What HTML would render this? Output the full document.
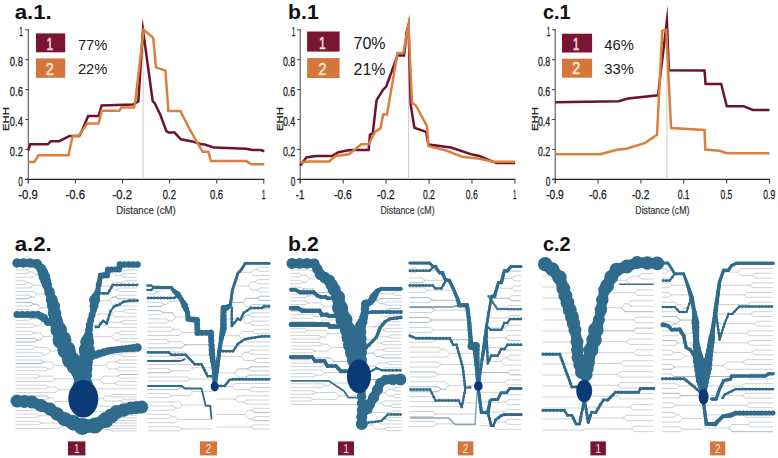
<!DOCTYPE html>
<html><head><meta charset="utf-8"><style>
html,body{margin:0;padding:0;background:#fff;}
svg{display:block;font-family:"Liberation Sans",sans-serif;}
</style></head><body>
<svg width="778" height="458" viewBox="0 0 778 458">
<rect width="778" height="458" fill="#fff"/>
<text x="14.7" y="18.7" font-size="20.6" text-anchor="start" font-weight="bold" fill="#111" textLength="37" lengthAdjust="spacingAndGlyphs">a.1.</text>
<line x1="28.3" y1="29.30000000000001" x2="28.3" y2="183.3" stroke="#555" stroke-width="1.1"/>
<line x1="25.3" y1="179.3" x2="264.3" y2="179.3" stroke="#222" stroke-width="1.3"/>
<line x1="25.3" y1="179.30" x2="28.3" y2="179.30" stroke="#444" stroke-width="1.1"/>
<text x="22.9" y="185.5" font-size="12.8" text-anchor="end" font-weight="normal" fill="#222" textLength="4.6" lengthAdjust="spacingAndGlyphs" stroke="#222" stroke-width="0.3">0</text>
<line x1="25.3" y1="149.40" x2="28.3" y2="149.40" stroke="#444" stroke-width="1.1"/>
<text x="22.9" y="155.6" font-size="12.8" text-anchor="end" font-weight="normal" fill="#222" textLength="13.1" lengthAdjust="spacingAndGlyphs" stroke="#222" stroke-width="0.3">0.2</text>
<line x1="25.3" y1="119.50" x2="28.3" y2="119.50" stroke="#444" stroke-width="1.1"/>
<text x="22.9" y="125.7" font-size="12.8" text-anchor="end" font-weight="normal" fill="#222" textLength="13.1" lengthAdjust="spacingAndGlyphs" stroke="#222" stroke-width="0.3">0.4</text>
<line x1="25.3" y1="89.60" x2="28.3" y2="89.60" stroke="#444" stroke-width="1.1"/>
<text x="22.9" y="95.80000000000001" font-size="12.8" text-anchor="end" font-weight="normal" fill="#222" textLength="13.1" lengthAdjust="spacingAndGlyphs" stroke="#222" stroke-width="0.3">0.6</text>
<line x1="25.3" y1="59.70" x2="28.3" y2="59.70" stroke="#444" stroke-width="1.1"/>
<text x="22.9" y="65.9" font-size="12.8" text-anchor="end" font-weight="normal" fill="#222" textLength="13.1" lengthAdjust="spacingAndGlyphs" stroke="#222" stroke-width="0.3">0.8</text>
<line x1="25.3" y1="29.80" x2="28.3" y2="29.80" stroke="#444" stroke-width="1.1"/>
<text x="22.9" y="36.000000000000014" font-size="12.8" text-anchor="end" font-weight="normal" fill="#222" textLength="3.6" lengthAdjust="spacingAndGlyphs" stroke="#222" stroke-width="0.3">1</text>
<line x1="28.30" y1="179.3" x2="28.30" y2="183.6" stroke="#444" stroke-width="1.1"/>
<text x="28.1" y="198.6" font-size="12.8" text-anchor="middle" font-weight="normal" fill="#222" textLength="19.5" lengthAdjust="spacingAndGlyphs" stroke="#222" stroke-width="0.3">-0.9</text>
<line x1="75.40" y1="179.3" x2="75.40" y2="183.6" stroke="#444" stroke-width="1.1"/>
<text x="75.2" y="198.6" font-size="12.8" text-anchor="middle" font-weight="normal" fill="#222" textLength="19.5" lengthAdjust="spacingAndGlyphs" stroke="#222" stroke-width="0.3">-0.6</text>
<line x1="122.50" y1="179.3" x2="122.50" y2="183.6" stroke="#444" stroke-width="1.1"/>
<text x="122.3" y="198.6" font-size="12.8" text-anchor="middle" font-weight="normal" fill="#222" textLength="19.5" lengthAdjust="spacingAndGlyphs" stroke="#222" stroke-width="0.3">-0.2</text>
<line x1="169.60" y1="179.3" x2="169.60" y2="183.6" stroke="#444" stroke-width="1.1"/>
<text x="169.40000000000003" y="198.6" font-size="12.8" text-anchor="middle" font-weight="normal" fill="#222" textLength="13.2" lengthAdjust="spacingAndGlyphs" stroke="#222" stroke-width="0.3">0.2</text>
<line x1="216.70" y1="179.3" x2="216.70" y2="183.6" stroke="#444" stroke-width="1.1"/>
<text x="216.50000000000003" y="198.6" font-size="12.8" text-anchor="middle" font-weight="normal" fill="#222" textLength="13.2" lengthAdjust="spacingAndGlyphs" stroke="#222" stroke-width="0.3">0.6</text>
<line x1="263.80" y1="179.3" x2="263.80" y2="183.6" stroke="#444" stroke-width="1.1"/>
<text x="263.6" y="198.6" font-size="12.8" text-anchor="middle" font-weight="normal" fill="#222" textLength="3.8" lengthAdjust="spacingAndGlyphs" stroke="#222" stroke-width="0.3">1</text>
<text x="146.05" y="214.1" font-size="11.3" text-anchor="middle" font-weight="normal" fill="#333" textLength="59.5" lengthAdjust="spacingAndGlyphs" stroke="#333" stroke-width="0.2">Distance (cM)</text>
<text transform="translate(8.8,131) rotate(-90)" font-size="8.8" fill="#222" stroke="#222" stroke-width="0.25" textLength="24" lengthAdjust="spacingAndGlyphs">EHH</text>
<line x1="143.1" y1="29" x2="143.1" y2="179" stroke="#cfcfcf" stroke-width="1.1"/>
<polyline points="28.30,150.50 30.20,144.30 47.80,144.30 50.90,141.20 59.20,141.20 69.60,136.00 79.30,136.00 82.00,130.50 88.20,115.90 98.60,115.90 101.70,105.50 132.80,104.50 138.30,101.50 143.00,30.00 152.70,101.20 154.90,103.40 160.40,115.00 166.30,131.00 168.50,132.60 174.60,132.60 180.80,139.30 192.20,141.40 200.50,144.00 204.70,144.50 214.00,147.60 246.00,148.70 252.40,150.00 260.70,150.00 264.30,151.20" fill="none" stroke="#6e1230" stroke-width="2.5" stroke-linejoin="miter" stroke-miterlimit="30" stroke-linecap="butt"/>
<polyline points="28.30,162.10 34.30,162.10 38.50,155.30 68.50,155.30 72.70,136.00 78.50,136.00 87.20,123.60 98.60,123.60 101.70,110.70 119.30,110.70 121.40,107.60 133.80,107.60 135.00,104.00 143.60,29.80 153.20,37.90 156.00,67.40 165.40,70.60 168.40,111.00 180.40,111.00 190.00,130.00 202.60,151.80 208.40,151.80 210.90,161.10 246.20,161.10 251.30,164.20 264.30,164.20" fill="none" stroke="#d9803f" stroke-width="2.5" stroke-linejoin="miter" stroke-miterlimit="30" stroke-linecap="butt"/>
<rect x="36" y="33.4" width="29.2" height="18.90" fill="#7a1433"/>
<rect x="36" y="58.4" width="29.2" height="19.40" fill="#d5773a"/>
<text x="49.7" y="49.5" font-size="16" text-anchor="middle" font-weight="normal" fill="#f6dde4" textLength="6.56" lengthAdjust="spacingAndGlyphs" stroke="#f6dde4" stroke-width="0.5">1</text>
<text x="49.7" y="74.5" font-size="16" text-anchor="middle" font-weight="normal" fill="#fbeadb" textLength="8.0" lengthAdjust="spacingAndGlyphs" stroke="#fbeadb" stroke-width="0.4">2</text>
<text x="77.9" y="49.7" font-size="14.5" text-anchor="start" font-weight="normal" fill="#1a1a1a" textLength="29.4" lengthAdjust="spacingAndGlyphs">77%</text>
<text x="77.9" y="73.7" font-size="14.5" text-anchor="start" font-weight="normal" fill="#1a1a1a" textLength="29.4" lengthAdjust="spacingAndGlyphs">22%</text>
<text x="288.1" y="18.7" font-size="20.6" text-anchor="start" font-weight="bold" fill="#111" textLength="30.7" lengthAdjust="spacingAndGlyphs">b.1</text>
<line x1="300.2" y1="29.30000000000001" x2="300.2" y2="183.3" stroke="#555" stroke-width="1.1"/>
<line x1="297.2" y1="179.3" x2="515.4" y2="179.3" stroke="#222" stroke-width="1.3"/>
<line x1="297.2" y1="179.30" x2="300.2" y2="179.30" stroke="#444" stroke-width="1.1"/>
<text x="295.3" y="185.5" font-size="12.8" text-anchor="end" font-weight="normal" fill="#222" textLength="4.6" lengthAdjust="spacingAndGlyphs" stroke="#222" stroke-width="0.3">0</text>
<line x1="297.2" y1="149.40" x2="300.2" y2="149.40" stroke="#444" stroke-width="1.1"/>
<text x="295.3" y="155.6" font-size="12.8" text-anchor="end" font-weight="normal" fill="#222" textLength="12.4" lengthAdjust="spacingAndGlyphs" stroke="#222" stroke-width="0.3">0.2</text>
<line x1="297.2" y1="119.50" x2="300.2" y2="119.50" stroke="#444" stroke-width="1.1"/>
<text x="295.3" y="125.7" font-size="12.8" text-anchor="end" font-weight="normal" fill="#222" textLength="12.4" lengthAdjust="spacingAndGlyphs" stroke="#222" stroke-width="0.3">0.4</text>
<line x1="297.2" y1="89.60" x2="300.2" y2="89.60" stroke="#444" stroke-width="1.1"/>
<text x="295.3" y="95.80000000000001" font-size="12.8" text-anchor="end" font-weight="normal" fill="#222" textLength="12.4" lengthAdjust="spacingAndGlyphs" stroke="#222" stroke-width="0.3">0.6</text>
<line x1="297.2" y1="59.70" x2="300.2" y2="59.70" stroke="#444" stroke-width="1.1"/>
<text x="295.3" y="65.9" font-size="12.8" text-anchor="end" font-weight="normal" fill="#222" textLength="12.4" lengthAdjust="spacingAndGlyphs" stroke="#222" stroke-width="0.3">0.8</text>
<line x1="297.2" y1="29.80" x2="300.2" y2="29.80" stroke="#444" stroke-width="1.1"/>
<text x="295.3" y="36.000000000000014" font-size="12.8" text-anchor="end" font-weight="normal" fill="#222" textLength="3.6" lengthAdjust="spacingAndGlyphs" stroke="#222" stroke-width="0.3">1</text>
<line x1="300.20" y1="179.3" x2="300.20" y2="183.6" stroke="#444" stroke-width="1.1"/>
<text x="300.0" y="198.6" font-size="12.8" text-anchor="middle" font-weight="normal" fill="#222" textLength="8.55" lengthAdjust="spacingAndGlyphs" stroke="#222" stroke-width="0.3">-1</text>
<line x1="343.14" y1="179.3" x2="343.14" y2="183.6" stroke="#444" stroke-width="1.1"/>
<text x="342.94" y="198.6" font-size="12.8" text-anchor="middle" font-weight="normal" fill="#222" textLength="17.55" lengthAdjust="spacingAndGlyphs" stroke="#222" stroke-width="0.3">-0.6</text>
<line x1="386.08" y1="179.3" x2="386.08" y2="183.6" stroke="#444" stroke-width="1.1"/>
<text x="385.88" y="198.6" font-size="12.8" text-anchor="middle" font-weight="normal" fill="#222" textLength="17.55" lengthAdjust="spacingAndGlyphs" stroke="#222" stroke-width="0.3">-0.2</text>
<line x1="429.02" y1="179.3" x2="429.02" y2="183.6" stroke="#444" stroke-width="1.1"/>
<text x="428.82" y="198.6" font-size="12.8" text-anchor="middle" font-weight="normal" fill="#222" textLength="11.879999999999999" lengthAdjust="spacingAndGlyphs" stroke="#222" stroke-width="0.3">0.2</text>
<line x1="471.96" y1="179.3" x2="471.96" y2="183.6" stroke="#444" stroke-width="1.1"/>
<text x="471.76" y="198.6" font-size="12.8" text-anchor="middle" font-weight="normal" fill="#222" textLength="11.879999999999999" lengthAdjust="spacingAndGlyphs" stroke="#222" stroke-width="0.3">0.6</text>
<line x1="514.90" y1="179.3" x2="514.90" y2="183.6" stroke="#444" stroke-width="1.1"/>
<text x="514.6999999999999" y="198.6" font-size="12.8" text-anchor="middle" font-weight="normal" fill="#222" textLength="3.42" lengthAdjust="spacingAndGlyphs" stroke="#222" stroke-width="0.3">1</text>
<text x="407.54999999999995" y="214.1" font-size="11.3" text-anchor="middle" font-weight="normal" fill="#333" textLength="54.1" lengthAdjust="spacingAndGlyphs" stroke="#333" stroke-width="0.2">Distance (cM)</text>
<text transform="translate(283.1,131) rotate(-90)" font-size="8.8" fill="#222" stroke="#222" stroke-width="0.25" textLength="24" lengthAdjust="spacingAndGlyphs">EHH</text>
<line x1="408.5" y1="29" x2="408.5" y2="179" stroke="#cfcfcf" stroke-width="1.1"/>
<polyline points="300.20,165.60 306.40,157.40 315.70,155.90 332.30,155.90 338.50,152.20 346.80,150.50 351.00,150.10 368.60,150.10 370.00,134.60 372.70,133.50 376.60,100.20 383.10,89.70 386.30,86.30 397.50,55.60 404.10,55.60 406.70,32.00 408.50,25.00 410.60,104.10 414.40,127.70 426.10,131.90 428.40,144.60 451.10,147.50 472.30,154.60 479.40,156.00 496.50,163.10 515.00,163.10" fill="none" stroke="#6e1230" stroke-width="2.5" stroke-linejoin="miter" stroke-miterlimit="30" stroke-linecap="butt"/>
<polyline points="300.20,162.50 308.50,161.50 329.20,161.50 335.40,155.90 348.90,154.20 361.30,144.30 368.60,144.30 375.20,131.70 380.50,128.30 383.10,114.60 387.00,114.60 397.50,53.00 403.30,53.00 408.50,25.00 412.00,102.80 415.90,105.50 427.00,126.20 428.40,146.10 445.40,150.30 462.40,156.80 479.40,158.80 493.60,161.70 515.00,161.70" fill="none" stroke="#d9803f" stroke-width="2.5" stroke-linejoin="miter" stroke-miterlimit="30" stroke-linecap="butt"/>
<rect x="307.1" y="31.5" width="32.5" height="20.10" fill="#7a1433"/>
<rect x="307.1" y="58.1" width="32.5" height="20.00" fill="#d5773a"/>
<text x="322.45000000000005" y="48.800000000000004" font-size="16.5" text-anchor="middle" font-weight="normal" fill="#f6dde4" textLength="6.765" lengthAdjust="spacingAndGlyphs" stroke="#f6dde4" stroke-width="0.5">1</text>
<text x="322.45000000000005" y="74.8" font-size="16.5" text-anchor="middle" font-weight="normal" fill="#fbeadb" textLength="8.25" lengthAdjust="spacingAndGlyphs" stroke="#fbeadb" stroke-width="0.4">2</text>
<text x="353.5" y="48.6" font-size="15.6" text-anchor="start" font-weight="normal" fill="#1a1a1a" textLength="32" lengthAdjust="spacingAndGlyphs">70%</text>
<text x="353.5" y="74.8" font-size="15.6" text-anchor="start" font-weight="normal" fill="#1a1a1a" textLength="32" lengthAdjust="spacingAndGlyphs">21%</text>
<text x="542.9" y="18.7" font-size="20.6" text-anchor="start" font-weight="bold" fill="#111" textLength="27.7" lengthAdjust="spacingAndGlyphs">c.1</text>
<line x1="555.2" y1="29.30000000000001" x2="555.2" y2="183.3" stroke="#555" stroke-width="1.1"/>
<line x1="552.2" y1="179.3" x2="770.0" y2="179.3" stroke="#222" stroke-width="1.3"/>
<line x1="552.2" y1="179.30" x2="555.2" y2="179.30" stroke="#444" stroke-width="1.1"/>
<text x="550.3000000000001" y="185.5" font-size="12.8" text-anchor="end" font-weight="normal" fill="#222" textLength="4.6" lengthAdjust="spacingAndGlyphs" stroke="#222" stroke-width="0.3">0</text>
<line x1="552.2" y1="149.40" x2="555.2" y2="149.40" stroke="#444" stroke-width="1.1"/>
<text x="550.3000000000001" y="155.6" font-size="12.8" text-anchor="end" font-weight="normal" fill="#222" textLength="12.4" lengthAdjust="spacingAndGlyphs" stroke="#222" stroke-width="0.3">0.2</text>
<line x1="552.2" y1="119.50" x2="555.2" y2="119.50" stroke="#444" stroke-width="1.1"/>
<text x="550.3000000000001" y="125.7" font-size="12.8" text-anchor="end" font-weight="normal" fill="#222" textLength="12.4" lengthAdjust="spacingAndGlyphs" stroke="#222" stroke-width="0.3">0.4</text>
<line x1="552.2" y1="89.60" x2="555.2" y2="89.60" stroke="#444" stroke-width="1.1"/>
<text x="550.3000000000001" y="95.80000000000001" font-size="12.8" text-anchor="end" font-weight="normal" fill="#222" textLength="12.4" lengthAdjust="spacingAndGlyphs" stroke="#222" stroke-width="0.3">0.6</text>
<line x1="552.2" y1="59.70" x2="555.2" y2="59.70" stroke="#444" stroke-width="1.1"/>
<text x="550.3000000000001" y="65.9" font-size="12.8" text-anchor="end" font-weight="normal" fill="#222" textLength="12.4" lengthAdjust="spacingAndGlyphs" stroke="#222" stroke-width="0.3">0.8</text>
<line x1="552.2" y1="29.80" x2="555.2" y2="29.80" stroke="#444" stroke-width="1.1"/>
<text x="550.3000000000001" y="36.000000000000014" font-size="12.8" text-anchor="end" font-weight="normal" fill="#222" textLength="3.6" lengthAdjust="spacingAndGlyphs" stroke="#222" stroke-width="0.3">1</text>
<line x1="555.20" y1="179.3" x2="555.20" y2="183.6" stroke="#444" stroke-width="1.1"/>
<text x="555.0" y="198.6" font-size="12.8" text-anchor="middle" font-weight="normal" fill="#222" textLength="17.55" lengthAdjust="spacingAndGlyphs" stroke="#222" stroke-width="0.3">-0.9</text>
<line x1="598.06" y1="179.3" x2="598.06" y2="183.6" stroke="#444" stroke-width="1.1"/>
<text x="597.86" y="198.6" font-size="12.8" text-anchor="middle" font-weight="normal" fill="#222" textLength="17.55" lengthAdjust="spacingAndGlyphs" stroke="#222" stroke-width="0.3">-0.6</text>
<line x1="640.92" y1="179.3" x2="640.92" y2="183.6" stroke="#444" stroke-width="1.1"/>
<text x="640.72" y="198.6" font-size="12.8" text-anchor="middle" font-weight="normal" fill="#222" textLength="17.55" lengthAdjust="spacingAndGlyphs" stroke="#222" stroke-width="0.3">-0.2</text>
<line x1="683.78" y1="179.3" x2="683.78" y2="183.6" stroke="#444" stroke-width="1.1"/>
<text x="683.5799999999999" y="198.6" font-size="12.8" text-anchor="middle" font-weight="normal" fill="#222" textLength="11.879999999999999" lengthAdjust="spacingAndGlyphs" stroke="#222" stroke-width="0.3">0.1</text>
<line x1="726.64" y1="179.3" x2="726.64" y2="183.6" stroke="#444" stroke-width="1.1"/>
<text x="726.4399999999999" y="198.6" font-size="12.8" text-anchor="middle" font-weight="normal" fill="#222" textLength="11.879999999999999" lengthAdjust="spacingAndGlyphs" stroke="#222" stroke-width="0.3">0.5</text>
<line x1="769.50" y1="179.3" x2="769.50" y2="183.6" stroke="#444" stroke-width="1.1"/>
<text x="769.3" y="198.6" font-size="12.8" text-anchor="middle" font-weight="normal" fill="#222" textLength="11.879999999999999" lengthAdjust="spacingAndGlyphs" stroke="#222" stroke-width="0.3">0.9</text>
<text x="662.35" y="214.1" font-size="11.3" text-anchor="middle" font-weight="normal" fill="#333" textLength="54.1" lengthAdjust="spacingAndGlyphs" stroke="#333" stroke-width="0.2">Distance (cM)</text>
<text transform="translate(537.9,131) rotate(-90)" font-size="8.8" fill="#222" stroke="#222" stroke-width="0.25" textLength="24" lengthAdjust="spacingAndGlyphs">EHH</text>
<line x1="666.9" y1="29" x2="666.9" y2="179" stroke="#cfcfcf" stroke-width="1.1"/>
<polyline points="555.20,102.30 618.70,101.20 628.00,98.60 658.00,95.30 666.90,21.00 668.90,70.30 704.50,70.60 705.60,83.90 721.20,83.90 726.80,106.20 743.50,106.20 752.80,109.90 769.50,109.90" fill="none" stroke="#6e1230" stroke-width="2.5" stroke-linejoin="miter" stroke-miterlimit="30" stroke-linecap="butt"/>
<polyline points="555.20,154.30 600.10,154.30 616.90,149.80 626.20,148.70 644.70,143.20 657.00,134.70 662.30,30.70 666.20,29.80 671.10,128.10 704.50,130.00 705.30,149.60 719.40,150.70 726.80,153.30 769.50,153.30" fill="none" stroke="#d9803f" stroke-width="2.5" stroke-linejoin="miter" stroke-miterlimit="30" stroke-linecap="butt"/>
<rect x="562" y="33.7" width="30.1" height="18.80" fill="#7a1433"/>
<rect x="562" y="58.7" width="30.1" height="19.00" fill="#d5773a"/>
<text x="576.15" y="49.7" font-size="16" text-anchor="middle" font-weight="normal" fill="#f6dde4" textLength="6.56" lengthAdjust="spacingAndGlyphs" stroke="#f6dde4" stroke-width="0.5">1</text>
<text x="576.15" y="74.4" font-size="16" text-anchor="middle" font-weight="normal" fill="#fbeadb" textLength="8.0" lengthAdjust="spacingAndGlyphs" stroke="#fbeadb" stroke-width="0.4">2</text>
<text x="604.3" y="49.9" font-size="14.5" text-anchor="start" font-weight="normal" fill="#1a1a1a" textLength="29.7" lengthAdjust="spacingAndGlyphs">46%</text>
<text x="604.3" y="74.2" font-size="14.5" text-anchor="start" font-weight="normal" fill="#1a1a1a" textLength="29.7" lengthAdjust="spacingAndGlyphs">33%</text>
<text x="14.7" y="250.8" font-size="20.6" text-anchor="start" font-weight="bold" fill="#111" textLength="37" lengthAdjust="spacingAndGlyphs">a.2.</text>
<text x="288.1" y="250.8" font-size="20.6" text-anchor="start" font-weight="bold" fill="#111" textLength="30.7" lengthAdjust="spacingAndGlyphs">b.2</text>
<text x="542.9" y="250.8" font-size="20.6" text-anchor="start" font-weight="bold" fill="#111" textLength="27.7" lengthAdjust="spacingAndGlyphs">c.2</text>
<line x1="16.0" y1="270.0" x2="26.6" y2="270.0" stroke="#c8cdd2" stroke-width="0.9" stroke-linecap="round"/>
<line x1="26.6" y1="270.0" x2="30.1" y2="271.8" stroke="#c8cdd2" stroke-width="0.9" stroke-linecap="round"/>
<line x1="16.0" y1="273.6" x2="26.6" y2="273.6" stroke="#c8cdd2" stroke-width="0.9" stroke-linecap="round"/>
<line x1="26.6" y1="273.6" x2="30.1" y2="271.8" stroke="#c8cdd2" stroke-width="0.9" stroke-linecap="round"/>
<line x1="16.0" y1="280.8" x2="24.0" y2="280.8" stroke="#c8cdd2" stroke-width="0.9" stroke-linecap="round"/>
<line x1="24.0" y1="280.8" x2="27.5" y2="282.6" stroke="#c8cdd2" stroke-width="0.9" stroke-linecap="round"/>
<line x1="16.0" y1="284.4" x2="24.0" y2="284.4" stroke="#c8cdd2" stroke-width="0.9" stroke-linecap="round"/>
<line x1="24.0" y1="284.4" x2="27.5" y2="282.6" stroke="#c8cdd2" stroke-width="0.9" stroke-linecap="round"/>
<line x1="16.0" y1="295.2" x2="27.9" y2="295.2" stroke="#c8cdd2" stroke-width="0.9" stroke-linecap="round"/>
<line x1="27.9" y1="295.2" x2="31.4" y2="297.0" stroke="#c8cdd2" stroke-width="0.9" stroke-linecap="round"/>
<line x1="16.0" y1="298.8" x2="27.9" y2="298.8" stroke="#9fb2c0" stroke-width="0.9" stroke-linecap="round"/>
<line x1="27.9" y1="298.8" x2="31.4" y2="297.0" stroke="#9fb2c0" stroke-width="0.9" stroke-linecap="round"/>
<line x1="16.0" y1="302.4" x2="30.5" y2="302.4" stroke="#9fb2c0" stroke-width="0.9" stroke-linecap="round"/>
<line x1="30.5" y1="302.4" x2="34.0" y2="304.2" stroke="#9fb2c0" stroke-width="0.9" stroke-linecap="round"/>
<line x1="16.0" y1="306.0" x2="30.5" y2="306.0" stroke="#c8cdd2" stroke-width="0.9" stroke-linecap="round"/>
<line x1="30.5" y1="306.0" x2="34.0" y2="304.2" stroke="#c8cdd2" stroke-width="0.9" stroke-linecap="round"/>
<line x1="16.0" y1="309.6" x2="28.9" y2="309.6" stroke="#c8cdd2" stroke-width="0.9" stroke-linecap="round"/>
<line x1="28.9" y1="309.6" x2="32.4" y2="311.4" stroke="#c8cdd2" stroke-width="0.9" stroke-linecap="round"/>
<line x1="16.0" y1="313.2" x2="28.9" y2="313.2" stroke="#c8cdd2" stroke-width="0.9" stroke-linecap="round"/>
<line x1="28.9" y1="313.2" x2="32.4" y2="311.4" stroke="#c8cdd2" stroke-width="0.9" stroke-linecap="round"/>
<line x1="16.0" y1="316.8" x2="27.8" y2="316.8" stroke="#9fb2c0" stroke-width="0.9" stroke-linecap="round"/>
<line x1="27.8" y1="316.8" x2="31.3" y2="318.6" stroke="#9fb2c0" stroke-width="0.9" stroke-linecap="round"/>
<line x1="16.0" y1="320.4" x2="27.8" y2="320.4" stroke="#c8cdd2" stroke-width="0.9" stroke-linecap="round"/>
<line x1="27.8" y1="320.4" x2="31.3" y2="318.6" stroke="#c8cdd2" stroke-width="0.9" stroke-linecap="round"/>
<line x1="16.0" y1="324.0" x2="32.6" y2="324.0" stroke="#c8cdd2" stroke-width="0.9" stroke-linecap="round"/>
<line x1="32.6" y1="324.0" x2="36.1" y2="325.8" stroke="#c8cdd2" stroke-width="0.9" stroke-linecap="round"/>
<line x1="16.0" y1="327.6" x2="32.6" y2="327.6" stroke="#c8cdd2" stroke-width="0.9" stroke-linecap="round"/>
<line x1="32.6" y1="327.6" x2="36.1" y2="325.8" stroke="#c8cdd2" stroke-width="0.9" stroke-linecap="round"/>
<line x1="16.0" y1="331.2" x2="30.8" y2="331.2" stroke="#c8cdd2" stroke-width="0.9" stroke-linecap="round"/>
<line x1="30.8" y1="331.2" x2="34.3" y2="333.0" stroke="#c8cdd2" stroke-width="0.9" stroke-linecap="round"/>
<line x1="16.0" y1="334.8" x2="30.8" y2="334.8" stroke="#c8cdd2" stroke-width="0.9" stroke-linecap="round"/>
<line x1="30.8" y1="334.8" x2="34.3" y2="333.0" stroke="#c8cdd2" stroke-width="0.9" stroke-linecap="round"/>
<line x1="16.0" y1="338.4" x2="34.1" y2="338.4" stroke="#9fb2c0" stroke-width="0.9" stroke-linecap="round"/>
<line x1="34.1" y1="338.4" x2="37.6" y2="340.2" stroke="#9fb2c0" stroke-width="0.9" stroke-linecap="round"/>
<line x1="16.0" y1="342.0" x2="34.1" y2="342.0" stroke="#9fb2c0" stroke-width="0.9" stroke-linecap="round"/>
<line x1="34.1" y1="342.0" x2="37.6" y2="340.2" stroke="#9fb2c0" stroke-width="0.9" stroke-linecap="round"/>
<line x1="16.0" y1="345.6" x2="32.0" y2="345.6" stroke="#c8cdd2" stroke-width="0.9" stroke-linecap="round"/>
<line x1="32.0" y1="345.6" x2="35.5" y2="347.4" stroke="#c8cdd2" stroke-width="0.9" stroke-linecap="round"/>
<line x1="16.0" y1="349.2" x2="32.0" y2="349.2" stroke="#c8cdd2" stroke-width="0.9" stroke-linecap="round"/>
<line x1="32.0" y1="349.2" x2="35.5" y2="347.4" stroke="#c8cdd2" stroke-width="0.9" stroke-linecap="round"/>
<line x1="16.0" y1="352.8" x2="40.7" y2="352.8" stroke="#c8cdd2" stroke-width="0.9" stroke-linecap="round"/>
<line x1="40.7" y1="352.8" x2="44.2" y2="354.6" stroke="#c8cdd2" stroke-width="0.9" stroke-linecap="round"/>
<line x1="16.0" y1="356.4" x2="40.7" y2="356.4" stroke="#c8cdd2" stroke-width="0.9" stroke-linecap="round"/>
<line x1="40.7" y1="356.4" x2="44.2" y2="354.6" stroke="#c8cdd2" stroke-width="0.9" stroke-linecap="round"/>
<line x1="16.0" y1="360.0" x2="41.0" y2="360.0" stroke="#c8cdd2" stroke-width="0.9" stroke-linecap="round"/>
<line x1="41.0" y1="360.0" x2="44.5" y2="361.8" stroke="#c8cdd2" stroke-width="0.9" stroke-linecap="round"/>
<line x1="16.0" y1="363.6" x2="41.0" y2="363.6" stroke="#9fb2c0" stroke-width="0.9" stroke-linecap="round"/>
<line x1="41.0" y1="363.6" x2="44.5" y2="361.8" stroke="#9fb2c0" stroke-width="0.9" stroke-linecap="round"/>
<line x1="16.0" y1="367.2" x2="45.1" y2="367.2" stroke="#c8cdd2" stroke-width="0.9" stroke-linecap="round"/>
<line x1="45.1" y1="367.2" x2="48.6" y2="369.0" stroke="#c8cdd2" stroke-width="0.9" stroke-linecap="round"/>
<line x1="16.0" y1="370.8" x2="45.1" y2="370.8" stroke="#c8cdd2" stroke-width="0.9" stroke-linecap="round"/>
<line x1="45.1" y1="370.8" x2="48.6" y2="369.0" stroke="#c8cdd2" stroke-width="0.9" stroke-linecap="round"/>
<line x1="16.0" y1="374.4" x2="36.2" y2="374.4" stroke="#c8cdd2" stroke-width="0.9" stroke-linecap="round"/>
<line x1="36.2" y1="374.4" x2="39.7" y2="376.2" stroke="#c8cdd2" stroke-width="0.9" stroke-linecap="round"/>
<line x1="16.0" y1="378.0" x2="36.2" y2="378.0" stroke="#c8cdd2" stroke-width="0.9" stroke-linecap="round"/>
<line x1="36.2" y1="378.0" x2="39.7" y2="376.2" stroke="#c8cdd2" stroke-width="0.9" stroke-linecap="round"/>
<line x1="16.0" y1="385.2" x2="45.2" y2="385.2" stroke="#c8cdd2" stroke-width="0.9" stroke-linecap="round"/>
<line x1="45.2" y1="385.2" x2="48.7" y2="387.0" stroke="#c8cdd2" stroke-width="0.9" stroke-linecap="round"/>
<line x1="16.0" y1="388.8" x2="45.2" y2="388.8" stroke="#c8cdd2" stroke-width="0.9" stroke-linecap="round"/>
<line x1="45.2" y1="388.8" x2="48.7" y2="387.0" stroke="#c8cdd2" stroke-width="0.9" stroke-linecap="round"/>
<line x1="16.0" y1="396.0" x2="46.1" y2="396.0" stroke="#9fb2c0" stroke-width="0.9" stroke-linecap="round"/>
<line x1="46.1" y1="396.0" x2="49.6" y2="397.8" stroke="#9fb2c0" stroke-width="0.9" stroke-linecap="round"/>
<line x1="16.0" y1="399.6" x2="46.1" y2="399.6" stroke="#c8cdd2" stroke-width="0.9" stroke-linecap="round"/>
<line x1="46.1" y1="399.6" x2="49.6" y2="397.8" stroke="#c8cdd2" stroke-width="0.9" stroke-linecap="round"/>
<line x1="16.0" y1="403.2" x2="39.9" y2="403.2" stroke="#c8cdd2" stroke-width="0.9" stroke-linecap="round"/>
<line x1="39.9" y1="403.2" x2="43.4" y2="405.0" stroke="#c8cdd2" stroke-width="0.9" stroke-linecap="round"/>
<line x1="16.0" y1="406.8" x2="39.9" y2="406.8" stroke="#c8cdd2" stroke-width="0.9" stroke-linecap="round"/>
<line x1="39.9" y1="406.8" x2="43.4" y2="405.0" stroke="#c8cdd2" stroke-width="0.9" stroke-linecap="round"/>
<line x1="16.0" y1="414.0" x2="36.2" y2="414.0" stroke="#c8cdd2" stroke-width="0.9" stroke-linecap="round"/>
<line x1="36.2" y1="414.0" x2="39.7" y2="415.8" stroke="#c8cdd2" stroke-width="0.9" stroke-linecap="round"/>
<line x1="16.0" y1="417.6" x2="36.2" y2="417.6" stroke="#c8cdd2" stroke-width="0.9" stroke-linecap="round"/>
<line x1="36.2" y1="417.6" x2="39.7" y2="415.8" stroke="#c8cdd2" stroke-width="0.9" stroke-linecap="round"/>
<line x1="16.0" y1="421.2" x2="38.7" y2="421.2" stroke="#c8cdd2" stroke-width="0.9" stroke-linecap="round"/>
<line x1="38.7" y1="421.2" x2="42.2" y2="423.0" stroke="#c8cdd2" stroke-width="0.9" stroke-linecap="round"/>
<line x1="16.0" y1="424.8" x2="38.7" y2="424.8" stroke="#c8cdd2" stroke-width="0.9" stroke-linecap="round"/>
<line x1="38.7" y1="424.8" x2="42.2" y2="423.0" stroke="#c8cdd2" stroke-width="0.9" stroke-linecap="round"/>
<line x1="30.1" y1="271.8" x2="32.6" y2="271.8" stroke="#c8cdd2" stroke-width="0.9" stroke-linecap="round"/>
<line x1="32.6" y1="271.8" x2="36.1" y2="274.5" stroke="#c8cdd2" stroke-width="0.9" stroke-linecap="round"/>
<line x1="16.0" y1="277.2" x2="32.6" y2="277.2" stroke="#c8cdd2" stroke-width="0.9" stroke-linecap="round"/>
<line x1="32.6" y1="277.2" x2="36.1" y2="274.5" stroke="#c8cdd2" stroke-width="0.9" stroke-linecap="round"/>
<line x1="27.5" y1="282.6" x2="30.0" y2="282.6" stroke="#c8cdd2" stroke-width="0.9" stroke-linecap="round"/>
<line x1="30.0" y1="282.6" x2="33.5" y2="285.3" stroke="#c8cdd2" stroke-width="0.9" stroke-linecap="round"/>
<line x1="16.0" y1="288.0" x2="30.0" y2="288.0" stroke="#c8cdd2" stroke-width="0.9" stroke-linecap="round"/>
<line x1="30.0" y1="288.0" x2="33.5" y2="285.3" stroke="#c8cdd2" stroke-width="0.9" stroke-linecap="round"/>
<line x1="16.0" y1="291.6" x2="33.9" y2="291.6" stroke="#c8cdd2" stroke-width="0.9" stroke-linecap="round"/>
<line x1="33.9" y1="291.6" x2="37.4" y2="294.3" stroke="#c8cdd2" stroke-width="0.9" stroke-linecap="round"/>
<line x1="31.4" y1="297.0" x2="33.9" y2="297.0" stroke="#c8cdd2" stroke-width="0.9" stroke-linecap="round"/>
<line x1="33.9" y1="297.0" x2="37.4" y2="294.3" stroke="#c8cdd2" stroke-width="0.9" stroke-linecap="round"/>
<line x1="34.0" y1="304.2" x2="37.1" y2="304.2" stroke="#9fb2c0" stroke-width="0.9" stroke-linecap="round"/>
<line x1="37.1" y1="304.2" x2="40.6" y2="307.8" stroke="#9fb2c0" stroke-width="0.9" stroke-linecap="round"/>
<line x1="32.4" y1="311.4" x2="37.1" y2="311.4" stroke="#c8cdd2" stroke-width="0.9" stroke-linecap="round"/>
<line x1="37.1" y1="311.4" x2="40.6" y2="307.8" stroke="#c8cdd2" stroke-width="0.9" stroke-linecap="round"/>
<line x1="31.3" y1="318.6" x2="39.5" y2="318.6" stroke="#9fb2c0" stroke-width="0.9" stroke-linecap="round"/>
<line x1="39.5" y1="318.6" x2="43.0" y2="322.2" stroke="#9fb2c0" stroke-width="0.9" stroke-linecap="round"/>
<line x1="36.1" y1="325.8" x2="39.5" y2="325.8" stroke="#c8cdd2" stroke-width="0.9" stroke-linecap="round"/>
<line x1="39.5" y1="325.8" x2="43.0" y2="322.2" stroke="#c8cdd2" stroke-width="0.9" stroke-linecap="round"/>
<line x1="34.3" y1="333.0" x2="40.1" y2="333.0" stroke="#c8cdd2" stroke-width="0.9" stroke-linecap="round"/>
<line x1="40.1" y1="333.0" x2="43.6" y2="336.6" stroke="#c8cdd2" stroke-width="0.9" stroke-linecap="round"/>
<line x1="37.6" y1="340.2" x2="40.1" y2="340.2" stroke="#9fb2c0" stroke-width="0.9" stroke-linecap="round"/>
<line x1="40.1" y1="340.2" x2="43.6" y2="336.6" stroke="#9fb2c0" stroke-width="0.9" stroke-linecap="round"/>
<line x1="35.5" y1="347.4" x2="46.7" y2="347.4" stroke="#c8cdd2" stroke-width="0.9" stroke-linecap="round"/>
<line x1="46.7" y1="347.4" x2="50.2" y2="351.0" stroke="#c8cdd2" stroke-width="0.9" stroke-linecap="round"/>
<line x1="44.2" y1="354.6" x2="46.7" y2="354.6" stroke="#c8cdd2" stroke-width="0.9" stroke-linecap="round"/>
<line x1="46.7" y1="354.6" x2="50.2" y2="351.0" stroke="#c8cdd2" stroke-width="0.9" stroke-linecap="round"/>
<line x1="44.5" y1="361.8" x2="51.1" y2="361.8" stroke="#c8cdd2" stroke-width="0.9" stroke-linecap="round"/>
<line x1="51.1" y1="361.8" x2="54.6" y2="365.4" stroke="#c8cdd2" stroke-width="0.9" stroke-linecap="round"/>
<line x1="48.6" y1="369.0" x2="51.1" y2="369.0" stroke="#c8cdd2" stroke-width="0.9" stroke-linecap="round"/>
<line x1="51.1" y1="369.0" x2="54.6" y2="365.4" stroke="#c8cdd2" stroke-width="0.9" stroke-linecap="round"/>
<line x1="39.7" y1="376.2" x2="51.6" y2="376.2" stroke="#c8cdd2" stroke-width="0.9" stroke-linecap="round"/>
<line x1="51.6" y1="376.2" x2="55.1" y2="378.9" stroke="#c8cdd2" stroke-width="0.9" stroke-linecap="round"/>
<line x1="16.0" y1="381.6" x2="51.6" y2="381.6" stroke="#c8cdd2" stroke-width="0.9" stroke-linecap="round"/>
<line x1="51.6" y1="381.6" x2="55.1" y2="378.9" stroke="#c8cdd2" stroke-width="0.9" stroke-linecap="round"/>
<line x1="48.7" y1="387.0" x2="55.4" y2="387.0" stroke="#c8cdd2" stroke-width="0.9" stroke-linecap="round"/>
<line x1="55.4" y1="387.0" x2="58.9" y2="389.7" stroke="#c8cdd2" stroke-width="0.9" stroke-linecap="round"/>
<line x1="16.0" y1="392.4" x2="55.4" y2="392.4" stroke="#c8cdd2" stroke-width="0.9" stroke-linecap="round"/>
<line x1="55.4" y1="392.4" x2="58.9" y2="389.7" stroke="#c8cdd2" stroke-width="0.9" stroke-linecap="round"/>
<line x1="49.6" y1="397.8" x2="52.2" y2="397.8" stroke="#c8cdd2" stroke-width="0.9" stroke-linecap="round"/>
<line x1="52.2" y1="397.8" x2="55.7" y2="401.4" stroke="#c8cdd2" stroke-width="0.9" stroke-linecap="round"/>
<line x1="43.4" y1="405.0" x2="52.2" y2="405.0" stroke="#c8cdd2" stroke-width="0.9" stroke-linecap="round"/>
<line x1="52.2" y1="405.0" x2="55.7" y2="401.4" stroke="#c8cdd2" stroke-width="0.9" stroke-linecap="round"/>
<line x1="16.0" y1="410.4" x2="51.3" y2="410.4" stroke="#c8cdd2" stroke-width="0.9" stroke-linecap="round"/>
<line x1="51.3" y1="410.4" x2="54.8" y2="413.1" stroke="#c8cdd2" stroke-width="0.9" stroke-linecap="round"/>
<line x1="39.7" y1="415.8" x2="51.3" y2="415.8" stroke="#c8cdd2" stroke-width="0.9" stroke-linecap="round"/>
<line x1="51.3" y1="415.8" x2="54.8" y2="413.1" stroke="#c8cdd2" stroke-width="0.9" stroke-linecap="round"/>
<line x1="42.2" y1="423.0" x2="59.1" y2="423.0" stroke="#c8cdd2" stroke-width="0.9" stroke-linecap="round"/>
<line x1="59.1" y1="423.0" x2="62.6" y2="425.7" stroke="#c8cdd2" stroke-width="0.9" stroke-linecap="round"/>
<line x1="16.0" y1="428.4" x2="59.1" y2="428.4" stroke="#c8cdd2" stroke-width="0.9" stroke-linecap="round"/>
<line x1="59.1" y1="428.4" x2="62.6" y2="425.7" stroke="#c8cdd2" stroke-width="0.9" stroke-linecap="round"/>
<line x1="36.1" y1="274.5" x2="43.9" y2="274.5" stroke="#c8cdd2" stroke-width="0.9" stroke-linecap="round"/>
<line x1="33.5" y1="285.3" x2="47.5" y2="285.3" stroke="#c8cdd2" stroke-width="0.9" stroke-linecap="round"/>
<line x1="37.4" y1="294.3" x2="50.1" y2="294.3" stroke="#c8cdd2" stroke-width="0.9" stroke-linecap="round"/>
<line x1="40.6" y1="307.8" x2="53.2" y2="307.8" stroke="#c8cdd2" stroke-width="0.9" stroke-linecap="round"/>
<line x1="43.0" y1="322.2" x2="56.2" y2="322.2" stroke="#c8cdd2" stroke-width="0.9" stroke-linecap="round"/>
<line x1="43.6" y1="336.6" x2="60.9" y2="336.6" stroke="#c8cdd2" stroke-width="0.9" stroke-linecap="round"/>
<line x1="50.2" y1="351.0" x2="67.0" y2="351.0" stroke="#c8cdd2" stroke-width="0.9" stroke-linecap="round"/>
<line x1="54.6" y1="365.4" x2="75.1" y2="365.4" stroke="#c8cdd2" stroke-width="0.9" stroke-linecap="round"/>
<line x1="55.1" y1="378.9" x2="81.6" y2="378.9" stroke="#c8cdd2" stroke-width="0.9" stroke-linecap="round"/>
<line x1="58.9" y1="389.7" x2="83.0" y2="389.7" stroke="#c8cdd2" stroke-width="0.9" stroke-linecap="round"/>
<line x1="55.7" y1="401.4" x2="84.0" y2="401.4" stroke="#c8cdd2" stroke-width="0.9" stroke-linecap="round"/>
<line x1="54.8" y1="413.1" x2="84.0" y2="413.1" stroke="#c8cdd2" stroke-width="0.9" stroke-linecap="round"/>
<line x1="62.6" y1="425.7" x2="84.0" y2="425.7" stroke="#c8cdd2" stroke-width="0.9" stroke-linecap="round"/>
<line x1="136.5" y1="273.6" x2="123.6" y2="273.6" stroke="#c8cdd2" stroke-width="0.9" stroke-linecap="round"/>
<line x1="123.6" y1="273.6" x2="120.1" y2="275.4" stroke="#c8cdd2" stroke-width="0.9" stroke-linecap="round"/>
<line x1="136.5" y1="277.2" x2="123.6" y2="277.2" stroke="#c8cdd2" stroke-width="0.9" stroke-linecap="round"/>
<line x1="123.6" y1="277.2" x2="120.1" y2="275.4" stroke="#c8cdd2" stroke-width="0.9" stroke-linecap="round"/>
<line x1="136.5" y1="280.8" x2="125.2" y2="280.8" stroke="#c8cdd2" stroke-width="0.9" stroke-linecap="round"/>
<line x1="125.2" y1="280.8" x2="121.7" y2="282.6" stroke="#c8cdd2" stroke-width="0.9" stroke-linecap="round"/>
<line x1="136.5" y1="284.4" x2="125.2" y2="284.4" stroke="#c8cdd2" stroke-width="0.9" stroke-linecap="round"/>
<line x1="125.2" y1="284.4" x2="121.7" y2="282.6" stroke="#c8cdd2" stroke-width="0.9" stroke-linecap="round"/>
<line x1="136.5" y1="288.0" x2="119.9" y2="288.0" stroke="#c8cdd2" stroke-width="0.9" stroke-linecap="round"/>
<line x1="119.9" y1="288.0" x2="116.4" y2="289.8" stroke="#c8cdd2" stroke-width="0.9" stroke-linecap="round"/>
<line x1="136.5" y1="291.6" x2="119.9" y2="291.6" stroke="#c8cdd2" stroke-width="0.9" stroke-linecap="round"/>
<line x1="119.9" y1="291.6" x2="116.4" y2="289.8" stroke="#c8cdd2" stroke-width="0.9" stroke-linecap="round"/>
<line x1="136.5" y1="295.2" x2="118.6" y2="295.2" stroke="#c8cdd2" stroke-width="0.9" stroke-linecap="round"/>
<line x1="118.6" y1="295.2" x2="115.1" y2="297.0" stroke="#c8cdd2" stroke-width="0.9" stroke-linecap="round"/>
<line x1="136.5" y1="298.8" x2="118.6" y2="298.8" stroke="#9fb2c0" stroke-width="0.9" stroke-linecap="round"/>
<line x1="118.6" y1="298.8" x2="115.1" y2="297.0" stroke="#9fb2c0" stroke-width="0.9" stroke-linecap="round"/>
<line x1="136.5" y1="302.4" x2="118.4" y2="302.4" stroke="#c8cdd2" stroke-width="0.9" stroke-linecap="round"/>
<line x1="118.4" y1="302.4" x2="114.9" y2="304.2" stroke="#c8cdd2" stroke-width="0.9" stroke-linecap="round"/>
<line x1="136.5" y1="306.0" x2="118.4" y2="306.0" stroke="#c8cdd2" stroke-width="0.9" stroke-linecap="round"/>
<line x1="118.4" y1="306.0" x2="114.9" y2="304.2" stroke="#c8cdd2" stroke-width="0.9" stroke-linecap="round"/>
<line x1="136.5" y1="309.6" x2="126.4" y2="309.6" stroke="#c8cdd2" stroke-width="0.9" stroke-linecap="round"/>
<line x1="126.4" y1="309.6" x2="122.9" y2="311.4" stroke="#c8cdd2" stroke-width="0.9" stroke-linecap="round"/>
<line x1="136.5" y1="313.2" x2="126.4" y2="313.2" stroke="#c8cdd2" stroke-width="0.9" stroke-linecap="round"/>
<line x1="126.4" y1="313.2" x2="122.9" y2="311.4" stroke="#c8cdd2" stroke-width="0.9" stroke-linecap="round"/>
<line x1="136.5" y1="320.4" x2="123.6" y2="320.4" stroke="#c8cdd2" stroke-width="0.9" stroke-linecap="round"/>
<line x1="123.6" y1="320.4" x2="120.1" y2="322.2" stroke="#c8cdd2" stroke-width="0.9" stroke-linecap="round"/>
<line x1="136.5" y1="324.0" x2="123.6" y2="324.0" stroke="#c8cdd2" stroke-width="0.9" stroke-linecap="round"/>
<line x1="123.6" y1="324.0" x2="120.1" y2="322.2" stroke="#c8cdd2" stroke-width="0.9" stroke-linecap="round"/>
<line x1="136.5" y1="331.2" x2="120.8" y2="331.2" stroke="#c8cdd2" stroke-width="0.9" stroke-linecap="round"/>
<line x1="120.8" y1="331.2" x2="117.3" y2="333.0" stroke="#c8cdd2" stroke-width="0.9" stroke-linecap="round"/>
<line x1="136.5" y1="334.8" x2="120.8" y2="334.8" stroke="#c8cdd2" stroke-width="0.9" stroke-linecap="round"/>
<line x1="120.8" y1="334.8" x2="117.3" y2="333.0" stroke="#c8cdd2" stroke-width="0.9" stroke-linecap="round"/>
<line x1="136.5" y1="338.4" x2="120.8" y2="338.4" stroke="#c8cdd2" stroke-width="0.9" stroke-linecap="round"/>
<line x1="120.8" y1="338.4" x2="117.3" y2="340.2" stroke="#c8cdd2" stroke-width="0.9" stroke-linecap="round"/>
<line x1="136.5" y1="342.0" x2="120.8" y2="342.0" stroke="#c8cdd2" stroke-width="0.9" stroke-linecap="round"/>
<line x1="120.8" y1="342.0" x2="117.3" y2="340.2" stroke="#c8cdd2" stroke-width="0.9" stroke-linecap="round"/>
<line x1="136.5" y1="345.6" x2="122.6" y2="345.6" stroke="#c8cdd2" stroke-width="0.9" stroke-linecap="round"/>
<line x1="122.6" y1="345.6" x2="119.1" y2="347.4" stroke="#c8cdd2" stroke-width="0.9" stroke-linecap="round"/>
<line x1="136.5" y1="349.2" x2="122.6" y2="349.2" stroke="#c8cdd2" stroke-width="0.9" stroke-linecap="round"/>
<line x1="122.6" y1="349.2" x2="119.1" y2="347.4" stroke="#c8cdd2" stroke-width="0.9" stroke-linecap="round"/>
<line x1="136.5" y1="352.8" x2="123.2" y2="352.8" stroke="#c8cdd2" stroke-width="0.9" stroke-linecap="round"/>
<line x1="123.2" y1="352.8" x2="119.7" y2="354.6" stroke="#c8cdd2" stroke-width="0.9" stroke-linecap="round"/>
<line x1="136.5" y1="356.4" x2="123.2" y2="356.4" stroke="#c8cdd2" stroke-width="0.9" stroke-linecap="round"/>
<line x1="123.2" y1="356.4" x2="119.7" y2="354.6" stroke="#c8cdd2" stroke-width="0.9" stroke-linecap="round"/>
<line x1="136.5" y1="360.0" x2="119.7" y2="360.0" stroke="#c8cdd2" stroke-width="0.9" stroke-linecap="round"/>
<line x1="119.7" y1="360.0" x2="116.2" y2="361.8" stroke="#c8cdd2" stroke-width="0.9" stroke-linecap="round"/>
<line x1="136.5" y1="363.6" x2="119.7" y2="363.6" stroke="#c8cdd2" stroke-width="0.9" stroke-linecap="round"/>
<line x1="119.7" y1="363.6" x2="116.2" y2="361.8" stroke="#c8cdd2" stroke-width="0.9" stroke-linecap="round"/>
<line x1="136.5" y1="367.2" x2="119.3" y2="367.2" stroke="#c8cdd2" stroke-width="0.9" stroke-linecap="round"/>
<line x1="119.3" y1="367.2" x2="115.8" y2="369.0" stroke="#c8cdd2" stroke-width="0.9" stroke-linecap="round"/>
<line x1="136.5" y1="370.8" x2="119.3" y2="370.8" stroke="#c8cdd2" stroke-width="0.9" stroke-linecap="round"/>
<line x1="119.3" y1="370.8" x2="115.8" y2="369.0" stroke="#c8cdd2" stroke-width="0.9" stroke-linecap="round"/>
<line x1="136.5" y1="374.4" x2="120.5" y2="374.4" stroke="#9fb2c0" stroke-width="0.9" stroke-linecap="round"/>
<line x1="120.5" y1="374.4" x2="117.0" y2="376.2" stroke="#9fb2c0" stroke-width="0.9" stroke-linecap="round"/>
<line x1="136.5" y1="378.0" x2="120.5" y2="378.0" stroke="#c8cdd2" stroke-width="0.9" stroke-linecap="round"/>
<line x1="120.5" y1="378.0" x2="117.0" y2="376.2" stroke="#c8cdd2" stroke-width="0.9" stroke-linecap="round"/>
<line x1="136.5" y1="381.6" x2="118.0" y2="381.6" stroke="#c8cdd2" stroke-width="0.9" stroke-linecap="round"/>
<line x1="118.0" y1="381.6" x2="114.5" y2="383.4" stroke="#c8cdd2" stroke-width="0.9" stroke-linecap="round"/>
<line x1="136.5" y1="385.2" x2="118.0" y2="385.2" stroke="#c8cdd2" stroke-width="0.9" stroke-linecap="round"/>
<line x1="118.0" y1="385.2" x2="114.5" y2="383.4" stroke="#c8cdd2" stroke-width="0.9" stroke-linecap="round"/>
<line x1="136.5" y1="394.5" x2="113.6" y2="394.5" stroke="#c8cdd2" stroke-width="0.9" stroke-linecap="round"/>
<line x1="113.6" y1="394.5" x2="110.1" y2="395.8" stroke="#c8cdd2" stroke-width="0.9" stroke-linecap="round"/>
<line x1="136.5" y1="397.1" x2="113.6" y2="397.1" stroke="#c8cdd2" stroke-width="0.9" stroke-linecap="round"/>
<line x1="113.6" y1="397.1" x2="110.1" y2="395.8" stroke="#c8cdd2" stroke-width="0.9" stroke-linecap="round"/>
<line x1="136.5" y1="399.7" x2="123.1" y2="399.7" stroke="#c8cdd2" stroke-width="0.9" stroke-linecap="round"/>
<line x1="123.1" y1="399.7" x2="119.6" y2="401.0" stroke="#c8cdd2" stroke-width="0.9" stroke-linecap="round"/>
<line x1="136.5" y1="402.3" x2="123.1" y2="402.3" stroke="#c8cdd2" stroke-width="0.9" stroke-linecap="round"/>
<line x1="123.1" y1="402.3" x2="119.6" y2="401.0" stroke="#c8cdd2" stroke-width="0.9" stroke-linecap="round"/>
<line x1="136.5" y1="404.9" x2="119.3" y2="404.9" stroke="#c8cdd2" stroke-width="0.9" stroke-linecap="round"/>
<line x1="119.3" y1="404.9" x2="115.8" y2="406.2" stroke="#c8cdd2" stroke-width="0.9" stroke-linecap="round"/>
<line x1="136.5" y1="407.5" x2="119.3" y2="407.5" stroke="#c8cdd2" stroke-width="0.9" stroke-linecap="round"/>
<line x1="119.3" y1="407.5" x2="115.8" y2="406.2" stroke="#c8cdd2" stroke-width="0.9" stroke-linecap="round"/>
<line x1="136.5" y1="415.3" x2="124.2" y2="415.3" stroke="#c8cdd2" stroke-width="0.9" stroke-linecap="round"/>
<line x1="124.2" y1="415.3" x2="120.7" y2="416.6" stroke="#c8cdd2" stroke-width="0.9" stroke-linecap="round"/>
<line x1="136.5" y1="417.9" x2="124.2" y2="417.9" stroke="#c8cdd2" stroke-width="0.9" stroke-linecap="round"/>
<line x1="124.2" y1="417.9" x2="120.7" y2="416.6" stroke="#c8cdd2" stroke-width="0.9" stroke-linecap="round"/>
<line x1="136.5" y1="420.5" x2="116.1" y2="420.5" stroke="#c8cdd2" stroke-width="0.9" stroke-linecap="round"/>
<line x1="116.1" y1="420.5" x2="112.6" y2="421.8" stroke="#c8cdd2" stroke-width="0.9" stroke-linecap="round"/>
<line x1="136.5" y1="423.1" x2="116.1" y2="423.1" stroke="#c8cdd2" stroke-width="0.9" stroke-linecap="round"/>
<line x1="116.1" y1="423.1" x2="112.6" y2="421.8" stroke="#c8cdd2" stroke-width="0.9" stroke-linecap="round"/>
<line x1="136.5" y1="428.3" x2="112.2" y2="428.3" stroke="#c8cdd2" stroke-width="0.9" stroke-linecap="round"/>
<line x1="112.2" y1="428.3" x2="108.7" y2="429.6" stroke="#c8cdd2" stroke-width="0.9" stroke-linecap="round"/>
<line x1="136.5" y1="430.9" x2="112.2" y2="430.9" stroke="#c8cdd2" stroke-width="0.9" stroke-linecap="round"/>
<line x1="112.2" y1="430.9" x2="108.7" y2="429.6" stroke="#c8cdd2" stroke-width="0.9" stroke-linecap="round"/>
<line x1="136.5" y1="270.0" x2="115.5" y2="270.0" stroke="#c8cdd2" stroke-width="0.9" stroke-linecap="round"/>
<line x1="115.5" y1="270.0" x2="112.0" y2="272.7" stroke="#c8cdd2" stroke-width="0.9" stroke-linecap="round"/>
<line x1="120.1" y1="275.4" x2="115.5" y2="275.4" stroke="#c8cdd2" stroke-width="0.9" stroke-linecap="round"/>
<line x1="115.5" y1="275.4" x2="112.0" y2="272.7" stroke="#c8cdd2" stroke-width="0.9" stroke-linecap="round"/>
<line x1="121.7" y1="282.6" x2="113.9" y2="282.6" stroke="#c8cdd2" stroke-width="0.9" stroke-linecap="round"/>
<line x1="113.9" y1="282.6" x2="110.4" y2="286.2" stroke="#c8cdd2" stroke-width="0.9" stroke-linecap="round"/>
<line x1="116.4" y1="289.8" x2="113.9" y2="289.8" stroke="#c8cdd2" stroke-width="0.9" stroke-linecap="round"/>
<line x1="113.9" y1="289.8" x2="110.4" y2="286.2" stroke="#c8cdd2" stroke-width="0.9" stroke-linecap="round"/>
<line x1="115.1" y1="297.0" x2="112.4" y2="297.0" stroke="#9fb2c0" stroke-width="0.9" stroke-linecap="round"/>
<line x1="112.4" y1="297.0" x2="108.9" y2="300.6" stroke="#9fb2c0" stroke-width="0.9" stroke-linecap="round"/>
<line x1="114.9" y1="304.2" x2="112.4" y2="304.2" stroke="#c8cdd2" stroke-width="0.9" stroke-linecap="round"/>
<line x1="112.4" y1="304.2" x2="108.9" y2="300.6" stroke="#c8cdd2" stroke-width="0.9" stroke-linecap="round"/>
<line x1="122.9" y1="311.4" x2="114.8" y2="311.4" stroke="#c8cdd2" stroke-width="0.9" stroke-linecap="round"/>
<line x1="114.8" y1="311.4" x2="111.3" y2="314.1" stroke="#c8cdd2" stroke-width="0.9" stroke-linecap="round"/>
<line x1="136.5" y1="316.8" x2="114.8" y2="316.8" stroke="#c8cdd2" stroke-width="0.9" stroke-linecap="round"/>
<line x1="114.8" y1="316.8" x2="111.3" y2="314.1" stroke="#c8cdd2" stroke-width="0.9" stroke-linecap="round"/>
<line x1="120.1" y1="322.2" x2="108.7" y2="322.2" stroke="#c8cdd2" stroke-width="0.9" stroke-linecap="round"/>
<line x1="108.7" y1="322.2" x2="105.2" y2="324.9" stroke="#c8cdd2" stroke-width="0.9" stroke-linecap="round"/>
<line x1="136.5" y1="327.6" x2="108.7" y2="327.6" stroke="#c8cdd2" stroke-width="0.9" stroke-linecap="round"/>
<line x1="108.7" y1="327.6" x2="105.2" y2="324.9" stroke="#c8cdd2" stroke-width="0.9" stroke-linecap="round"/>
<line x1="117.3" y1="333.0" x2="114.8" y2="333.0" stroke="#c8cdd2" stroke-width="0.9" stroke-linecap="round"/>
<line x1="114.8" y1="333.0" x2="111.3" y2="336.6" stroke="#c8cdd2" stroke-width="0.9" stroke-linecap="round"/>
<line x1="117.3" y1="340.2" x2="114.8" y2="340.2" stroke="#c8cdd2" stroke-width="0.9" stroke-linecap="round"/>
<line x1="114.8" y1="340.2" x2="111.3" y2="336.6" stroke="#c8cdd2" stroke-width="0.9" stroke-linecap="round"/>
<line x1="119.1" y1="347.4" x2="113.8" y2="347.4" stroke="#c8cdd2" stroke-width="0.9" stroke-linecap="round"/>
<line x1="113.8" y1="347.4" x2="110.3" y2="351.0" stroke="#c8cdd2" stroke-width="0.9" stroke-linecap="round"/>
<line x1="119.7" y1="354.6" x2="113.8" y2="354.6" stroke="#c8cdd2" stroke-width="0.9" stroke-linecap="round"/>
<line x1="113.8" y1="354.6" x2="110.3" y2="351.0" stroke="#c8cdd2" stroke-width="0.9" stroke-linecap="round"/>
<line x1="116.2" y1="361.8" x2="108.8" y2="361.8" stroke="#c8cdd2" stroke-width="0.9" stroke-linecap="round"/>
<line x1="108.8" y1="361.8" x2="105.3" y2="365.4" stroke="#c8cdd2" stroke-width="0.9" stroke-linecap="round"/>
<line x1="115.8" y1="369.0" x2="108.8" y2="369.0" stroke="#c8cdd2" stroke-width="0.9" stroke-linecap="round"/>
<line x1="108.8" y1="369.0" x2="105.3" y2="365.4" stroke="#c8cdd2" stroke-width="0.9" stroke-linecap="round"/>
<line x1="117.0" y1="376.2" x2="103.3" y2="376.2" stroke="#c8cdd2" stroke-width="0.9" stroke-linecap="round"/>
<line x1="103.3" y1="376.2" x2="99.8" y2="379.8" stroke="#c8cdd2" stroke-width="0.9" stroke-linecap="round"/>
<line x1="114.5" y1="383.4" x2="103.3" y2="383.4" stroke="#c8cdd2" stroke-width="0.9" stroke-linecap="round"/>
<line x1="103.3" y1="383.4" x2="99.8" y2="379.8" stroke="#c8cdd2" stroke-width="0.9" stroke-linecap="round"/>
<line x1="110.1" y1="395.8" x2="105.8" y2="395.8" stroke="#c8cdd2" stroke-width="0.9" stroke-linecap="round"/>
<line x1="105.8" y1="395.8" x2="102.3" y2="398.4" stroke="#c8cdd2" stroke-width="0.9" stroke-linecap="round"/>
<line x1="119.6" y1="401.0" x2="105.8" y2="401.0" stroke="#c8cdd2" stroke-width="0.9" stroke-linecap="round"/>
<line x1="105.8" y1="401.0" x2="102.3" y2="398.4" stroke="#c8cdd2" stroke-width="0.9" stroke-linecap="round"/>
<line x1="136.5" y1="410.1" x2="108.9" y2="410.1" stroke="#c8cdd2" stroke-width="0.9" stroke-linecap="round"/>
<line x1="108.9" y1="410.1" x2="105.4" y2="411.4" stroke="#c8cdd2" stroke-width="0.9" stroke-linecap="round"/>
<line x1="136.5" y1="412.7" x2="108.9" y2="412.7" stroke="#c8cdd2" stroke-width="0.9" stroke-linecap="round"/>
<line x1="108.9" y1="412.7" x2="105.4" y2="411.4" stroke="#c8cdd2" stroke-width="0.9" stroke-linecap="round"/>
<line x1="120.7" y1="416.6" x2="109.4" y2="416.6" stroke="#c8cdd2" stroke-width="0.9" stroke-linecap="round"/>
<line x1="109.4" y1="416.6" x2="105.9" y2="419.2" stroke="#c8cdd2" stroke-width="0.9" stroke-linecap="round"/>
<line x1="112.6" y1="421.8" x2="109.4" y2="421.8" stroke="#c8cdd2" stroke-width="0.9" stroke-linecap="round"/>
<line x1="109.4" y1="421.8" x2="105.9" y2="419.2" stroke="#c8cdd2" stroke-width="0.9" stroke-linecap="round"/>
<line x1="102.3" y1="398.4" x2="99.8" y2="398.4" stroke="#c8cdd2" stroke-width="0.9" stroke-linecap="round"/>
<line x1="99.8" y1="398.4" x2="96.3" y2="402.3" stroke="#c8cdd2" stroke-width="0.9" stroke-linecap="round"/>
<line x1="115.8" y1="406.2" x2="99.8" y2="406.2" stroke="#c8cdd2" stroke-width="0.9" stroke-linecap="round"/>
<line x1="99.8" y1="406.2" x2="96.3" y2="402.3" stroke="#c8cdd2" stroke-width="0.9" stroke-linecap="round"/>
<line x1="105.9" y1="419.2" x2="95.3" y2="419.2" stroke="#c8cdd2" stroke-width="0.9" stroke-linecap="round"/>
<line x1="95.3" y1="419.2" x2="91.8" y2="422.5" stroke="#c8cdd2" stroke-width="0.9" stroke-linecap="round"/>
<line x1="136.5" y1="425.7" x2="95.3" y2="425.7" stroke="#c8cdd2" stroke-width="0.9" stroke-linecap="round"/>
<line x1="95.3" y1="425.7" x2="91.8" y2="422.5" stroke="#c8cdd2" stroke-width="0.9" stroke-linecap="round"/>
<line x1="112.0" y1="272.7" x2="100.0" y2="272.7" stroke="#c8cdd2" stroke-width="0.9" stroke-linecap="round"/>
<line x1="110.4" y1="286.2" x2="98.5" y2="286.2" stroke="#c8cdd2" stroke-width="0.9" stroke-linecap="round"/>
<line x1="108.9" y1="300.6" x2="95.9" y2="300.6" stroke="#c8cdd2" stroke-width="0.9" stroke-linecap="round"/>
<line x1="111.3" y1="314.1" x2="93.0" y2="314.1" stroke="#c8cdd2" stroke-width="0.9" stroke-linecap="round"/>
<line x1="105.2" y1="324.9" x2="90.6" y2="324.9" stroke="#c8cdd2" stroke-width="0.9" stroke-linecap="round"/>
<line x1="111.3" y1="336.6" x2="88.9" y2="336.6" stroke="#c8cdd2" stroke-width="0.9" stroke-linecap="round"/>
<line x1="110.3" y1="351.0" x2="87.1" y2="351.0" stroke="#c8cdd2" stroke-width="0.9" stroke-linecap="round"/>
<line x1="105.3" y1="365.4" x2="85.3" y2="365.4" stroke="#c8cdd2" stroke-width="0.9" stroke-linecap="round"/>
<line x1="99.8" y1="379.8" x2="83.5" y2="379.8" stroke="#c8cdd2" stroke-width="0.9" stroke-linecap="round"/>
<line x1="136.5" y1="388.8" x2="83.0" y2="388.8" stroke="#c8cdd2" stroke-width="0.9" stroke-linecap="round"/>
<line x1="96.3" y1="402.3" x2="84.0" y2="402.3" stroke="#c8cdd2" stroke-width="0.9" stroke-linecap="round"/>
<line x1="105.4" y1="411.4" x2="84.0" y2="411.4" stroke="#c8cdd2" stroke-width="0.9" stroke-linecap="round"/>
<line x1="91.8" y1="422.5" x2="84.0" y2="422.5" stroke="#c8cdd2" stroke-width="0.9" stroke-linecap="round"/>
<line x1="108.7" y1="429.6" x2="84.0" y2="429.6" stroke="#c8cdd2" stroke-width="0.9" stroke-linecap="round"/>
<line x1="17" y1="263" x2="30" y2="263" stroke="#2e6b8c" stroke-width="7.79" stroke-linecap="round"/>
<line x1="30" y1="263" x2="37" y2="264" stroke="#2e6b8c" stroke-width="7.99" stroke-linecap="round"/>
<line x1="37" y1="264" x2="41.5" y2="269" stroke="#2e6b8c" stroke-width="8.20" stroke-linecap="round"/>
<line x1="41.5" y1="269" x2="44.3" y2="276.5" stroke="#2e6b8c" stroke-width="8.81" stroke-linecap="round"/>
<line x1="44.3" y1="276.5" x2="47" y2="285" stroke="#2e6b8c" stroke-width="8.81" stroke-linecap="round"/>
<line x1="47" y1="285" x2="49.5" y2="292" stroke="#2e6b8c" stroke-width="8.40" stroke-linecap="round"/>
<line x1="49.5" y1="292" x2="51.8" y2="300" stroke="#2e6b8c" stroke-width="9.22" stroke-linecap="round"/>
<line x1="51.8" y1="300" x2="53.5" y2="306" stroke="#2e6b8c" stroke-width="10.25" stroke-linecap="round"/>
<line x1="53.5" y1="306" x2="55.5" y2="320" stroke="#2e6b8c" stroke-width="11.07" stroke-linecap="round"/>
<line x1="55.5" y1="320" x2="62" y2="340" stroke="#2e6b8c" stroke-width="13.53" stroke-linecap="round"/>
<line x1="62" y1="340" x2="71" y2="360" stroke="#2e6b8c" stroke-width="15.17" stroke-linecap="round"/>
<line x1="71" y1="360" x2="80" y2="372" stroke="#2e6b8c" stroke-width="14.76" stroke-linecap="round"/>
<line x1="80" y1="372" x2="83" y2="385" stroke="#2e6b8c" stroke-width="15.58" stroke-linecap="round"/>
<path fill="#2e6b8c" d="M12.25,263.00a4.75,4.75 0 1,0 9.50,0a4.75,4.75 0 1,0 -9.50,0M18.75,263.00a4.75,4.75 0 1,0 9.50,0a4.75,4.75 0 1,0 -9.50,0M25.25,263.00a4.75,4.75 0 1,0 9.50,0a4.75,4.75 0 1,0 -9.50,0M32.00,264.00a5.00,5.00 0 1,0 10.00,0a5.00,5.00 0 1,0 -10.00,0M36.50,269.00a5.00,5.00 0 1,0 10.00,0a5.00,5.00 0 1,0 -10.00,0M37.52,272.75a5.38,5.38 0 1,0 10.75,0a5.38,5.38 0 1,0 -10.75,0M38.55,276.50a5.75,5.75 0 1,0 11.50,0a5.75,5.75 0 1,0 -11.50,0M40.27,280.75a5.38,5.38 0 1,0 10.75,0a5.38,5.38 0 1,0 -10.75,0M42.00,285.00a5.00,5.00 0 1,0 10.00,0a5.00,5.00 0 1,0 -10.00,0M44.25,292.00a5.25,5.25 0 1,0 10.50,0a5.25,5.25 0 1,0 -10.50,0M45.80,300.00a6.00,6.00 0 1,0 12.00,0a6.00,6.00 0 1,0 -12.00,0M47.00,306.00a6.50,6.50 0 1,0 13.00,0a6.50,6.50 0 1,0 -13.00,0M47.75,313.00a6.75,6.75 0 1,0 13.50,0a6.75,6.75 0 1,0 -13.50,0M48.50,320.00a7.00,7.00 0 1,0 14.00,0a7.00,7.00 0 1,0 -14.00,0M50.50,330.00a8.25,8.25 0 1,0 16.50,0a8.25,8.25 0 1,0 -16.50,0M52.50,340.00a9.50,9.50 0 1,0 19.00,0a9.50,9.50 0 1,0 -19.00,0M57.25,350.00a9.25,9.25 0 1,0 18.50,0a9.25,9.25 0 1,0 -18.50,0M62.00,360.00a9.00,9.00 0 1,0 18.00,0a9.00,9.00 0 1,0 -18.00,0M66.50,366.00a9.00,9.00 0 1,0 18.00,0a9.00,9.00 0 1,0 -18.00,0M71.00,372.00a9.00,9.00 0 1,0 18.00,0a9.00,9.00 0 1,0 -18.00,0M73.00,385.00a10.00,10.00 0 1,0 20.00,0a10.00,10.00 0 1,0 -20.00,0"/>
<line x1="17" y1="314.5" x2="38" y2="314.5" stroke="#2e6b8c" stroke-width="5.74" stroke-linecap="round"/>
<line x1="38" y1="314.5" x2="44" y2="318" stroke="#2e6b8c" stroke-width="6.15" stroke-linecap="round"/>
<line x1="44" y1="318" x2="48" y2="322" stroke="#2e6b8c" stroke-width="6.56" stroke-linecap="round"/>
<path fill="#2e6b8c" d="M13.50,314.50a3.50,3.50 0 1,0 7.00,0a3.50,3.50 0 1,0 -7.00,0M18.75,314.50a3.50,3.50 0 1,0 7.00,0a3.50,3.50 0 1,0 -7.00,0M24.00,314.50a3.50,3.50 0 1,0 7.00,0a3.50,3.50 0 1,0 -7.00,0M29.25,314.50a3.50,3.50 0 1,0 7.00,0a3.50,3.50 0 1,0 -7.00,0M34.50,314.50a3.50,3.50 0 1,0 7.00,0a3.50,3.50 0 1,0 -7.00,0M37.25,316.25a3.75,3.75 0 1,0 7.50,0a3.75,3.75 0 1,0 -7.50,0M40.00,318.00a4.00,4.00 0 1,0 8.00,0a4.00,4.00 0 1,0 -8.00,0M44.00,322.00a4.00,4.00 0 1,0 8.00,0a4.00,4.00 0 1,0 -8.00,0"/>
<polyline points="99.60,293.40 108.00,293.40 112.80,285.00 125.00,285.00 137.00,285.00" fill="none" stroke="#2e6a8a" stroke-width="2.2" stroke-linejoin="round" stroke-miterlimit="30" stroke-linecap="round"/>
<path fill="#2e6a8a" d="M98.1,293.4a1.45,1.45 0 1,0 2.90,0a1.45,1.45 0 1,0 -2.90,0M102.3,293.4a1.45,1.45 0 1,0 2.90,0a1.45,1.45 0 1,0 -2.90,0M106.5,293.4a1.45,1.45 0 1,0 2.90,0a1.45,1.45 0 1,0 -2.90,0M108.1,290.6a1.45,1.45 0 1,0 2.90,0a1.45,1.45 0 1,0 -2.90,0M109.8,287.8a1.45,1.45 0 1,0 2.90,0a1.45,1.45 0 1,0 -2.90,0M111.3,285.0a1.45,1.45 0 1,0 2.90,0a1.45,1.45 0 1,0 -2.90,0M115.4,285.0a1.45,1.45 0 1,0 2.90,0a1.45,1.45 0 1,0 -2.90,0M119.5,285.0a1.45,1.45 0 1,0 2.90,0a1.45,1.45 0 1,0 -2.90,0M123.5,285.0a1.45,1.45 0 1,0 2.90,0a1.45,1.45 0 1,0 -2.90,0M127.5,285.0a1.45,1.45 0 1,0 2.90,0a1.45,1.45 0 1,0 -2.90,0M131.6,285.0a1.45,1.45 0 1,0 2.90,0a1.45,1.45 0 1,0 -2.90,0M135.6,285.0a1.45,1.45 0 1,0 2.90,0a1.45,1.45 0 1,0 -2.90,0"/>
<polyline points="96.00,327.00 98.40,327.00 100.80,323.40 103.20,321.00 106.80,323.40 110.40,311.40 114.00,306.60 120.00,304.20 123.60,301.80 129.60,300.60 137.50,300.60" fill="none" stroke="#2e6a8a" stroke-width="2.2" stroke-linejoin="round" stroke-miterlimit="30" stroke-linecap="round"/>
<path fill="#2e6a8a" d="M94.5,327.0a1.45,1.45 0 1,0 2.90,0a1.45,1.45 0 1,0 -2.90,0M97.0,327.0a1.45,1.45 0 1,0 2.90,0a1.45,1.45 0 1,0 -2.90,0M99.3,323.4a1.45,1.45 0 1,0 2.90,0a1.45,1.45 0 1,0 -2.90,0M101.8,321.0a1.45,1.45 0 1,0 2.90,0a1.45,1.45 0 1,0 -2.90,0M105.3,323.4a1.45,1.45 0 1,0 2.90,0a1.45,1.45 0 1,0 -2.90,0M106.5,319.4a1.45,1.45 0 1,0 2.90,0a1.45,1.45 0 1,0 -2.90,0M107.8,315.4a1.45,1.45 0 1,0 2.90,0a1.45,1.45 0 1,0 -2.90,0M109.0,311.4a1.45,1.45 0 1,0 2.90,0a1.45,1.45 0 1,0 -2.90,0M112.5,306.6a1.45,1.45 0 1,0 2.90,0a1.45,1.45 0 1,0 -2.90,0M115.5,305.4a1.45,1.45 0 1,0 2.90,0a1.45,1.45 0 1,0 -2.90,0M118.5,304.2a1.45,1.45 0 1,0 2.90,0a1.45,1.45 0 1,0 -2.90,0M122.1,301.8a1.45,1.45 0 1,0 2.90,0a1.45,1.45 0 1,0 -2.90,0M128.2,300.6a1.45,1.45 0 1,0 2.90,0a1.45,1.45 0 1,0 -2.90,0M132.1,300.6a1.45,1.45 0 1,0 2.90,0a1.45,1.45 0 1,0 -2.90,0M136.1,300.6a1.45,1.45 0 1,0 2.90,0a1.45,1.45 0 1,0 -2.90,0"/>
<line x1="137.5" y1="264.6" x2="120" y2="264.6" stroke="#2e6b8c" stroke-width="5.33" stroke-linecap="round"/>
<line x1="120" y1="264.6" x2="119" y2="269.4" stroke="#2e6b8c" stroke-width="5.12" stroke-linecap="round"/>
<line x1="119" y1="269.4" x2="108" y2="269.4" stroke="#2e6b8c" stroke-width="4.92" stroke-linecap="round"/>
<line x1="108" y1="269.4" x2="107" y2="275.4" stroke="#2e6b8c" stroke-width="4.92" stroke-linecap="round"/>
<line x1="107" y1="275.4" x2="100.5" y2="275.4" stroke="#2e6b8c" stroke-width="4.71" stroke-linecap="round"/>
<line x1="100.5" y1="275.4" x2="99.6" y2="281" stroke="#2e6b8c" stroke-width="4.30" stroke-linecap="round"/>
<line x1="99.6" y1="281" x2="98.6" y2="285" stroke="#2e6b8c" stroke-width="4.51" stroke-linecap="round"/>
<line x1="98.6" y1="285" x2="97.5" y2="292" stroke="#2e6b8c" stroke-width="4.30" stroke-linecap="round"/>
<line x1="97.5" y1="292" x2="94.6" y2="300" stroke="#2e6b8c" stroke-width="6.35" stroke-linecap="round"/>
<line x1="94.6" y1="300" x2="94" y2="306" stroke="#2e6b8c" stroke-width="8.20" stroke-linecap="round"/>
<line x1="94" y1="306" x2="93.3" y2="310" stroke="#2e6b8c" stroke-width="6.56" stroke-linecap="round"/>
<line x1="93.3" y1="310" x2="90.7" y2="320" stroke="#2e6b8c" stroke-width="5.74" stroke-linecap="round"/>
<line x1="90.7" y1="320" x2="89.5" y2="325" stroke="#2e6b8c" stroke-width="5.94" stroke-linecap="round"/>
<line x1="89.5" y1="325" x2="88.5" y2="335" stroke="#2e6b8c" stroke-width="6.35" stroke-linecap="round"/>
<line x1="88.5" y1="335" x2="87.2" y2="342" stroke="#2e6b8c" stroke-width="9.02" stroke-linecap="round"/>
<line x1="87.2" y1="342" x2="86.8" y2="350" stroke="#2e6b8c" stroke-width="12.30" stroke-linecap="round"/>
<line x1="86.8" y1="350" x2="85" y2="362" stroke="#2e6b8c" stroke-width="13.12" stroke-linecap="round"/>
<line x1="85" y1="362" x2="84" y2="375" stroke="#2e6b8c" stroke-width="13.12" stroke-linecap="round"/>
<path fill="#2e6b8c" d="M134.25,264.60a3.25,3.25 0 1,0 6.50,0a3.25,3.25 0 1,0 -6.50,0M129.88,264.60a3.25,3.25 0 1,0 6.50,0a3.25,3.25 0 1,0 -6.50,0M125.50,264.60a3.25,3.25 0 1,0 6.50,0a3.25,3.25 0 1,0 -6.50,0M121.12,264.60a3.25,3.25 0 1,0 6.50,0a3.25,3.25 0 1,0 -6.50,0M116.75,264.60a3.25,3.25 0 1,0 6.50,0a3.25,3.25 0 1,0 -6.50,0M116.38,267.00a3.12,3.12 0 1,0 6.25,0a3.12,3.12 0 1,0 -6.25,0M116.00,269.40a3.00,3.00 0 1,0 6.00,0a3.00,3.00 0 1,0 -6.00,0M112.33,269.40a3.00,3.00 0 1,0 6.00,0a3.00,3.00 0 1,0 -6.00,0M108.67,269.40a3.00,3.00 0 1,0 6.00,0a3.00,3.00 0 1,0 -6.00,0M105.00,269.40a3.00,3.00 0 1,0 6.00,0a3.00,3.00 0 1,0 -6.00,0M104.50,272.40a3.00,3.00 0 1,0 6.00,0a3.00,3.00 0 1,0 -6.00,0M104.00,275.40a3.00,3.00 0 1,0 6.00,0a3.00,3.00 0 1,0 -6.00,0M100.88,275.40a2.88,2.88 0 1,0 5.75,0a2.88,2.88 0 1,0 -5.75,0M97.75,275.40a2.75,2.75 0 1,0 5.50,0a2.75,2.75 0 1,0 -5.50,0M97.42,278.20a2.62,2.62 0 1,0 5.25,0a2.62,2.62 0 1,0 -5.25,0M97.10,281.00a2.50,2.50 0 1,0 5.00,0a2.50,2.50 0 1,0 -5.00,0M96.35,283.00a2.75,2.75 0 1,0 5.50,0a2.75,2.75 0 1,0 -5.50,0M95.60,285.00a3.00,3.00 0 1,0 6.00,0a3.00,3.00 0 1,0 -6.00,0M95.42,288.50a2.62,2.62 0 1,0 5.25,0a2.62,2.62 0 1,0 -5.25,0M95.25,292.00a2.25,2.25 0 1,0 4.50,0a2.25,2.25 0 1,0 -4.50,0M93.20,294.67a3.33,3.33 0 1,0 6.67,0a3.33,3.33 0 1,0 -6.67,0M91.15,297.33a4.42,4.42 0 1,0 8.83,0a4.42,4.42 0 1,0 -8.83,0M89.10,300.00a5.50,5.50 0 1,0 11.00,0a5.50,5.50 0 1,0 -11.00,0M89.50,306.00a4.50,4.50 0 1,0 9.00,0a4.50,4.50 0 1,0 -9.00,0M89.80,310.00a3.50,3.50 0 1,0 7.00,0a3.50,3.50 0 1,0 -7.00,0M88.50,315.00a3.50,3.50 0 1,0 7.00,0a3.50,3.50 0 1,0 -7.00,0M87.20,320.00a3.50,3.50 0 1,0 7.00,0a3.50,3.50 0 1,0 -7.00,0M85.75,325.00a3.75,3.75 0 1,0 7.50,0a3.75,3.75 0 1,0 -7.50,0M85.12,330.00a3.88,3.88 0 1,0 7.75,0a3.88,3.88 0 1,0 -7.75,0M84.50,335.00a4.00,4.00 0 1,0 8.00,0a4.00,4.00 0 1,0 -8.00,0M82.35,338.50a5.50,5.50 0 1,0 11.00,0a5.50,5.50 0 1,0 -11.00,0M80.20,342.00a7.00,7.00 0 1,0 14.00,0a7.00,7.00 0 1,0 -14.00,0M78.80,350.00a8.00,8.00 0 1,0 16.00,0a8.00,8.00 0 1,0 -16.00,0M77.00,362.00a8.00,8.00 0 1,0 16.00,0a8.00,8.00 0 1,0 -16.00,0M76.50,368.50a8.00,8.00 0 1,0 16.00,0a8.00,8.00 0 1,0 -16.00,0M76.00,375.00a8.00,8.00 0 1,0 16.00,0a8.00,8.00 0 1,0 -16.00,0"/>
<line x1="137.5" y1="347.5" x2="126" y2="348.7" stroke="#2e6b8c" stroke-width="6.35" stroke-linecap="round"/>
<line x1="126" y1="348.7" x2="114" y2="349.9" stroke="#2e6b8c" stroke-width="5.74" stroke-linecap="round"/>
<line x1="114" y1="349.9" x2="108" y2="351" stroke="#2e6b8c" stroke-width="5.94" stroke-linecap="round"/>
<line x1="108" y1="351" x2="99.6" y2="353.5" stroke="#2e6b8c" stroke-width="6.35" stroke-linecap="round"/>
<line x1="99.6" y1="353.5" x2="92" y2="356" stroke="#2e6b8c" stroke-width="6.56" stroke-linecap="round"/>
<path fill="#2e6b8c" d="M133.25,347.50a4.25,4.25 0 1,0 8.50,0a4.25,4.25 0 1,0 -8.50,0M129.67,347.90a4.00,4.00 0 1,0 8.00,0a4.00,4.00 0 1,0 -8.00,0M126.08,348.30a3.75,3.75 0 1,0 7.50,0a3.75,3.75 0 1,0 -7.50,0M122.50,348.70a3.50,3.50 0 1,0 7.00,0a3.50,3.50 0 1,0 -7.00,0M118.50,349.10a3.50,3.50 0 1,0 7.00,0a3.50,3.50 0 1,0 -7.00,0M114.50,349.50a3.50,3.50 0 1,0 7.00,0a3.50,3.50 0 1,0 -7.00,0M110.50,349.90a3.50,3.50 0 1,0 7.00,0a3.50,3.50 0 1,0 -7.00,0M107.38,350.45a3.62,3.62 0 1,0 7.25,0a3.62,3.62 0 1,0 -7.25,0M104.25,351.00a3.75,3.75 0 1,0 7.50,0a3.75,3.75 0 1,0 -7.50,0M99.92,352.25a3.88,3.88 0 1,0 7.75,0a3.88,3.88 0 1,0 -7.75,0M95.60,353.50a4.00,4.00 0 1,0 8.00,0a4.00,4.00 0 1,0 -8.00,0M91.80,354.75a4.00,4.00 0 1,0 8.00,0a4.00,4.00 0 1,0 -8.00,0M88.00,356.00a4.00,4.00 0 1,0 8.00,0a4.00,4.00 0 1,0 -8.00,0"/>
<line x1="17" y1="401" x2="32" y2="402" stroke="#2e6b8c" stroke-width="10.66" stroke-linecap="round"/>
<line x1="32" y1="402" x2="50" y2="409" stroke="#2e6b8c" stroke-width="10.66" stroke-linecap="round"/>
<line x1="50" y1="409" x2="64.4" y2="419" stroke="#2e6b8c" stroke-width="11.07" stroke-linecap="round"/>
<line x1="64.4" y1="419" x2="82.4" y2="426.4" stroke="#2e6b8c" stroke-width="12.71" stroke-linecap="round"/>
<line x1="82.4" y1="426.4" x2="95" y2="425.5" stroke="#2e6b8c" stroke-width="13.53" stroke-linecap="round"/>
<line x1="95" y1="425.5" x2="105.8" y2="420" stroke="#2e6b8c" stroke-width="13.12" stroke-linecap="round"/>
<line x1="105.8" y1="420" x2="116.6" y2="412" stroke="#2e6b8c" stroke-width="12.30" stroke-linecap="round"/>
<line x1="116.6" y1="412" x2="131" y2="408" stroke="#2e6b8c" stroke-width="11.07" stroke-linecap="round"/>
<line x1="131" y1="408" x2="141.8" y2="407" stroke="#2e6b8c" stroke-width="10.66" stroke-linecap="round"/>
<path fill="#2e6b8c" d="M10.50,401.00a6.50,6.50 0 1,0 13.00,0a6.50,6.50 0 1,0 -13.00,0M18.00,401.50a6.50,6.50 0 1,0 13.00,0a6.50,6.50 0 1,0 -13.00,0M25.50,402.00a6.50,6.50 0 1,0 13.00,0a6.50,6.50 0 1,0 -13.00,0M34.50,405.50a6.50,6.50 0 1,0 13.00,0a6.50,6.50 0 1,0 -13.00,0M43.50,409.00a6.50,6.50 0 1,0 13.00,0a6.50,6.50 0 1,0 -13.00,0M50.45,414.00a6.75,6.75 0 1,0 13.50,0a6.75,6.75 0 1,0 -13.50,0M57.40,419.00a7.00,7.00 0 1,0 14.00,0a7.00,7.00 0 1,0 -14.00,0M65.65,422.70a7.75,7.75 0 1,0 15.50,0a7.75,7.75 0 1,0 -15.50,0M73.90,426.40a8.50,8.50 0 1,0 17.00,0a8.50,8.50 0 1,0 -17.00,0M87.00,425.50a8.00,8.00 0 1,0 16.00,0a8.00,8.00 0 1,0 -16.00,0M97.80,420.00a8.00,8.00 0 1,0 16.00,0a8.00,8.00 0 1,0 -16.00,0M103.70,416.00a7.50,7.50 0 1,0 15.00,0a7.50,7.50 0 1,0 -15.00,0M109.60,412.00a7.00,7.00 0 1,0 14.00,0a7.00,7.00 0 1,0 -14.00,0M117.05,410.00a6.75,6.75 0 1,0 13.50,0a6.75,6.75 0 1,0 -13.50,0M124.50,408.00a6.50,6.50 0 1,0 13.00,0a6.50,6.50 0 1,0 -13.00,0M129.90,407.50a6.50,6.50 0 1,0 13.00,0a6.50,6.50 0 1,0 -13.00,0M135.30,407.00a6.50,6.50 0 1,0 13.00,0a6.50,6.50 0 1,0 -13.00,0"/>
<ellipse cx="83.3" cy="398.8" rx="15" ry="18.8" fill="#0c3a77"/>
<line x1="147.7" y1="289.8" x2="153.3" y2="289.8" stroke="#c8cdd2" stroke-width="0.9" stroke-linecap="round"/>
<line x1="153.3" y1="289.8" x2="156.8" y2="291.9" stroke="#c8cdd2" stroke-width="0.9" stroke-linecap="round"/>
<line x1="147.7" y1="294.0" x2="153.3" y2="294.0" stroke="#c8cdd2" stroke-width="0.9" stroke-linecap="round"/>
<line x1="153.3" y1="294.0" x2="156.8" y2="291.9" stroke="#c8cdd2" stroke-width="0.9" stroke-linecap="round"/>
<line x1="147.7" y1="302.3" x2="160.6" y2="302.3" stroke="#c8cdd2" stroke-width="0.9" stroke-linecap="round"/>
<line x1="160.6" y1="302.3" x2="164.1" y2="304.4" stroke="#c8cdd2" stroke-width="0.9" stroke-linecap="round"/>
<line x1="147.7" y1="306.4" x2="160.6" y2="306.4" stroke="#9fb2c0" stroke-width="0.9" stroke-linecap="round"/>
<line x1="160.6" y1="306.4" x2="164.1" y2="304.4" stroke="#9fb2c0" stroke-width="0.9" stroke-linecap="round"/>
<line x1="147.7" y1="310.6" x2="159.8" y2="310.6" stroke="#9fb2c0" stroke-width="0.9" stroke-linecap="round"/>
<line x1="159.8" y1="310.6" x2="163.3" y2="312.7" stroke="#9fb2c0" stroke-width="0.9" stroke-linecap="round"/>
<line x1="147.7" y1="314.7" x2="159.8" y2="314.7" stroke="#c8cdd2" stroke-width="0.9" stroke-linecap="round"/>
<line x1="159.8" y1="314.7" x2="163.3" y2="312.7" stroke="#c8cdd2" stroke-width="0.9" stroke-linecap="round"/>
<line x1="147.7" y1="318.9" x2="166.1" y2="318.9" stroke="#c8cdd2" stroke-width="0.9" stroke-linecap="round"/>
<line x1="166.1" y1="318.9" x2="169.6" y2="321.0" stroke="#c8cdd2" stroke-width="0.9" stroke-linecap="round"/>
<line x1="147.7" y1="323.0" x2="166.1" y2="323.0" stroke="#c8cdd2" stroke-width="0.9" stroke-linecap="round"/>
<line x1="166.1" y1="323.0" x2="169.6" y2="321.0" stroke="#c8cdd2" stroke-width="0.9" stroke-linecap="round"/>
<line x1="147.7" y1="327.2" x2="170.2" y2="327.2" stroke="#c8cdd2" stroke-width="0.9" stroke-linecap="round"/>
<line x1="170.2" y1="327.2" x2="173.7" y2="329.3" stroke="#c8cdd2" stroke-width="0.9" stroke-linecap="round"/>
<line x1="147.7" y1="331.3" x2="170.2" y2="331.3" stroke="#c8cdd2" stroke-width="0.9" stroke-linecap="round"/>
<line x1="170.2" y1="331.3" x2="173.7" y2="329.3" stroke="#c8cdd2" stroke-width="0.9" stroke-linecap="round"/>
<line x1="147.7" y1="339.6" x2="165.8" y2="339.6" stroke="#c8cdd2" stroke-width="0.9" stroke-linecap="round"/>
<line x1="165.8" y1="339.6" x2="169.3" y2="341.7" stroke="#c8cdd2" stroke-width="0.9" stroke-linecap="round"/>
<line x1="147.7" y1="343.8" x2="165.8" y2="343.8" stroke="#c8cdd2" stroke-width="0.9" stroke-linecap="round"/>
<line x1="165.8" y1="343.8" x2="169.3" y2="341.7" stroke="#c8cdd2" stroke-width="0.9" stroke-linecap="round"/>
<line x1="147.7" y1="356.2" x2="174.7" y2="356.2" stroke="#c8cdd2" stroke-width="0.9" stroke-linecap="round"/>
<line x1="174.7" y1="356.2" x2="178.2" y2="358.3" stroke="#c8cdd2" stroke-width="0.9" stroke-linecap="round"/>
<line x1="147.7" y1="360.4" x2="174.7" y2="360.4" stroke="#c8cdd2" stroke-width="0.9" stroke-linecap="round"/>
<line x1="174.7" y1="360.4" x2="178.2" y2="358.3" stroke="#c8cdd2" stroke-width="0.9" stroke-linecap="round"/>
<line x1="147.7" y1="368.7" x2="168.4" y2="368.7" stroke="#c8cdd2" stroke-width="0.9" stroke-linecap="round"/>
<line x1="168.4" y1="368.7" x2="171.9" y2="370.8" stroke="#c8cdd2" stroke-width="0.9" stroke-linecap="round"/>
<line x1="147.7" y1="372.8" x2="168.4" y2="372.8" stroke="#9fb2c0" stroke-width="0.9" stroke-linecap="round"/>
<line x1="168.4" y1="372.8" x2="171.9" y2="370.8" stroke="#9fb2c0" stroke-width="0.9" stroke-linecap="round"/>
<line x1="147.7" y1="385.3" x2="177.2" y2="385.3" stroke="#c8cdd2" stroke-width="0.9" stroke-linecap="round"/>
<line x1="177.2" y1="385.3" x2="180.7" y2="387.4" stroke="#c8cdd2" stroke-width="0.9" stroke-linecap="round"/>
<line x1="147.7" y1="389.4" x2="177.2" y2="389.4" stroke="#9fb2c0" stroke-width="0.9" stroke-linecap="round"/>
<line x1="177.2" y1="389.4" x2="180.7" y2="387.4" stroke="#9fb2c0" stroke-width="0.9" stroke-linecap="round"/>
<line x1="147.7" y1="393.6" x2="168.0" y2="393.6" stroke="#c8cdd2" stroke-width="0.9" stroke-linecap="round"/>
<line x1="168.0" y1="393.6" x2="171.5" y2="395.7" stroke="#c8cdd2" stroke-width="0.9" stroke-linecap="round"/>
<line x1="147.7" y1="397.7" x2="168.0" y2="397.7" stroke="#c8cdd2" stroke-width="0.9" stroke-linecap="round"/>
<line x1="168.0" y1="397.7" x2="171.5" y2="395.7" stroke="#c8cdd2" stroke-width="0.9" stroke-linecap="round"/>
<line x1="147.7" y1="406.0" x2="173.0" y2="406.0" stroke="#c8cdd2" stroke-width="0.9" stroke-linecap="round"/>
<line x1="173.0" y1="406.0" x2="176.5" y2="408.1" stroke="#c8cdd2" stroke-width="0.9" stroke-linecap="round"/>
<line x1="147.7" y1="410.2" x2="173.0" y2="410.2" stroke="#c8cdd2" stroke-width="0.9" stroke-linecap="round"/>
<line x1="173.0" y1="410.2" x2="176.5" y2="408.1" stroke="#c8cdd2" stroke-width="0.9" stroke-linecap="round"/>
<line x1="147.7" y1="414.3" x2="168.6" y2="414.3" stroke="#c8cdd2" stroke-width="0.9" stroke-linecap="round"/>
<line x1="168.6" y1="414.3" x2="172.1" y2="416.4" stroke="#c8cdd2" stroke-width="0.9" stroke-linecap="round"/>
<line x1="147.7" y1="418.5" x2="168.6" y2="418.5" stroke="#c8cdd2" stroke-width="0.9" stroke-linecap="round"/>
<line x1="168.6" y1="418.5" x2="172.1" y2="416.4" stroke="#c8cdd2" stroke-width="0.9" stroke-linecap="round"/>
<line x1="147.7" y1="426.8" x2="178.9" y2="426.8" stroke="#c8cdd2" stroke-width="0.9" stroke-linecap="round"/>
<line x1="178.9" y1="426.8" x2="182.4" y2="428.9" stroke="#c8cdd2" stroke-width="0.9" stroke-linecap="round"/>
<line x1="147.7" y1="430.9" x2="178.9" y2="430.9" stroke="#c8cdd2" stroke-width="0.9" stroke-linecap="round"/>
<line x1="178.9" y1="430.9" x2="182.4" y2="428.9" stroke="#c8cdd2" stroke-width="0.9" stroke-linecap="round"/>
<line x1="147.7" y1="285.7" x2="159.3" y2="285.7" stroke="#c8cdd2" stroke-width="0.9" stroke-linecap="round"/>
<line x1="159.3" y1="285.7" x2="162.8" y2="288.8" stroke="#c8cdd2" stroke-width="0.9" stroke-linecap="round"/>
<line x1="156.8" y1="291.9" x2="159.3" y2="291.9" stroke="#c8cdd2" stroke-width="0.9" stroke-linecap="round"/>
<line x1="159.3" y1="291.9" x2="162.8" y2="288.8" stroke="#c8cdd2" stroke-width="0.9" stroke-linecap="round"/>
<line x1="147.7" y1="298.1" x2="166.6" y2="298.1" stroke="#c8cdd2" stroke-width="0.9" stroke-linecap="round"/>
<line x1="166.6" y1="298.1" x2="170.1" y2="301.3" stroke="#c8cdd2" stroke-width="0.9" stroke-linecap="round"/>
<line x1="164.1" y1="304.4" x2="166.6" y2="304.4" stroke="#c8cdd2" stroke-width="0.9" stroke-linecap="round"/>
<line x1="166.6" y1="304.4" x2="170.1" y2="301.3" stroke="#c8cdd2" stroke-width="0.9" stroke-linecap="round"/>
<line x1="163.3" y1="312.7" x2="172.1" y2="312.7" stroke="#9fb2c0" stroke-width="0.9" stroke-linecap="round"/>
<line x1="172.1" y1="312.7" x2="175.6" y2="316.8" stroke="#9fb2c0" stroke-width="0.9" stroke-linecap="round"/>
<line x1="169.6" y1="321.0" x2="172.1" y2="321.0" stroke="#c8cdd2" stroke-width="0.9" stroke-linecap="round"/>
<line x1="172.1" y1="321.0" x2="175.6" y2="316.8" stroke="#c8cdd2" stroke-width="0.9" stroke-linecap="round"/>
<line x1="173.7" y1="329.3" x2="179.0" y2="329.3" stroke="#c8cdd2" stroke-width="0.9" stroke-linecap="round"/>
<line x1="179.0" y1="329.3" x2="182.5" y2="332.4" stroke="#c8cdd2" stroke-width="0.9" stroke-linecap="round"/>
<line x1="147.7" y1="335.5" x2="179.0" y2="335.5" stroke="#c8cdd2" stroke-width="0.9" stroke-linecap="round"/>
<line x1="179.0" y1="335.5" x2="182.5" y2="332.4" stroke="#c8cdd2" stroke-width="0.9" stroke-linecap="round"/>
<line x1="169.3" y1="341.7" x2="181.3" y2="341.7" stroke="#c8cdd2" stroke-width="0.9" stroke-linecap="round"/>
<line x1="181.3" y1="341.7" x2="184.8" y2="344.8" stroke="#c8cdd2" stroke-width="0.9" stroke-linecap="round"/>
<line x1="147.7" y1="347.9" x2="181.3" y2="347.9" stroke="#9fb2c0" stroke-width="0.9" stroke-linecap="round"/>
<line x1="181.3" y1="347.9" x2="184.8" y2="344.8" stroke="#9fb2c0" stroke-width="0.9" stroke-linecap="round"/>
<line x1="147.7" y1="352.1" x2="183.7" y2="352.1" stroke="#c8cdd2" stroke-width="0.9" stroke-linecap="round"/>
<line x1="183.7" y1="352.1" x2="187.2" y2="355.2" stroke="#c8cdd2" stroke-width="0.9" stroke-linecap="round"/>
<line x1="178.2" y1="358.3" x2="183.7" y2="358.3" stroke="#c8cdd2" stroke-width="0.9" stroke-linecap="round"/>
<line x1="183.7" y1="358.3" x2="187.2" y2="355.2" stroke="#c8cdd2" stroke-width="0.9" stroke-linecap="round"/>
<line x1="147.7" y1="364.5" x2="189.7" y2="364.5" stroke="#c8cdd2" stroke-width="0.9" stroke-linecap="round"/>
<line x1="189.7" y1="364.5" x2="193.2" y2="367.7" stroke="#c8cdd2" stroke-width="0.9" stroke-linecap="round"/>
<line x1="171.9" y1="370.8" x2="189.7" y2="370.8" stroke="#c8cdd2" stroke-width="0.9" stroke-linecap="round"/>
<line x1="189.7" y1="370.8" x2="193.2" y2="367.7" stroke="#c8cdd2" stroke-width="0.9" stroke-linecap="round"/>
<line x1="147.7" y1="377.0" x2="186.9" y2="377.0" stroke="#c8cdd2" stroke-width="0.9" stroke-linecap="round"/>
<line x1="186.9" y1="377.0" x2="190.4" y2="379.1" stroke="#c8cdd2" stroke-width="0.9" stroke-linecap="round"/>
<line x1="147.7" y1="381.1" x2="186.9" y2="381.1" stroke="#c8cdd2" stroke-width="0.9" stroke-linecap="round"/>
<line x1="186.9" y1="381.1" x2="190.4" y2="379.1" stroke="#c8cdd2" stroke-width="0.9" stroke-linecap="round"/>
<line x1="180.7" y1="387.4" x2="189.5" y2="387.4" stroke="#c8cdd2" stroke-width="0.9" stroke-linecap="round"/>
<line x1="189.5" y1="387.4" x2="193.0" y2="391.5" stroke="#c8cdd2" stroke-width="0.9" stroke-linecap="round"/>
<line x1="171.5" y1="395.7" x2="189.5" y2="395.7" stroke="#c8cdd2" stroke-width="0.9" stroke-linecap="round"/>
<line x1="189.5" y1="395.7" x2="193.0" y2="391.5" stroke="#c8cdd2" stroke-width="0.9" stroke-linecap="round"/>
<line x1="147.7" y1="401.9" x2="179.0" y2="401.9" stroke="#c8cdd2" stroke-width="0.9" stroke-linecap="round"/>
<line x1="179.0" y1="401.9" x2="182.5" y2="405.0" stroke="#c8cdd2" stroke-width="0.9" stroke-linecap="round"/>
<line x1="176.5" y1="408.1" x2="179.0" y2="408.1" stroke="#c8cdd2" stroke-width="0.9" stroke-linecap="round"/>
<line x1="179.0" y1="408.1" x2="182.5" y2="405.0" stroke="#c8cdd2" stroke-width="0.9" stroke-linecap="round"/>
<line x1="172.1" y1="416.4" x2="174.7" y2="416.4" stroke="#c8cdd2" stroke-width="0.9" stroke-linecap="round"/>
<line x1="174.7" y1="416.4" x2="178.2" y2="419.5" stroke="#c8cdd2" stroke-width="0.9" stroke-linecap="round"/>
<line x1="147.7" y1="422.6" x2="174.7" y2="422.6" stroke="#c8cdd2" stroke-width="0.9" stroke-linecap="round"/>
<line x1="174.7" y1="422.6" x2="178.2" y2="419.5" stroke="#c8cdd2" stroke-width="0.9" stroke-linecap="round"/>
<line x1="162.8" y1="288.8" x2="172.2" y2="288.8" stroke="#c8cdd2" stroke-width="0.9" stroke-linecap="round"/>
<line x1="170.1" y1="301.3" x2="182.4" y2="301.3" stroke="#c8cdd2" stroke-width="0.9" stroke-linecap="round"/>
<line x1="175.6" y1="316.8" x2="188.0" y2="316.8" stroke="#c8cdd2" stroke-width="0.9" stroke-linecap="round"/>
<line x1="182.5" y1="332.4" x2="197.4" y2="332.4" stroke="#c8cdd2" stroke-width="0.9" stroke-linecap="round"/>
<line x1="184.8" y1="344.8" x2="211.5" y2="344.8" stroke="#9fb2c0" stroke-width="0.9" stroke-linecap="round"/>
<line x1="187.2" y1="355.2" x2="212.1" y2="355.2" stroke="#c8cdd2" stroke-width="0.9" stroke-linecap="round"/>
<line x1="193.2" y1="367.7" x2="213.1" y2="367.7" stroke="#c8cdd2" stroke-width="0.9" stroke-linecap="round"/>
<line x1="190.4" y1="379.1" x2="214.1" y2="379.1" stroke="#c8cdd2" stroke-width="0.9" stroke-linecap="round"/>
<line x1="193.0" y1="391.5" x2="212.0" y2="391.5" stroke="#c8cdd2" stroke-width="0.9" stroke-linecap="round"/>
<line x1="182.5" y1="405.0" x2="212.0" y2="405.0" stroke="#c8cdd2" stroke-width="0.9" stroke-linecap="round"/>
<line x1="178.2" y1="419.5" x2="212.0" y2="419.5" stroke="#c8cdd2" stroke-width="0.9" stroke-linecap="round"/>
<line x1="182.4" y1="428.9" x2="212.0" y2="428.9" stroke="#c8cdd2" stroke-width="0.9" stroke-linecap="round"/>
<line x1="269.0" y1="267.2" x2="260.0" y2="267.2" stroke="#c8cdd2" stroke-width="0.9" stroke-linecap="round"/>
<line x1="260.0" y1="267.2" x2="256.5" y2="269.3" stroke="#c8cdd2" stroke-width="0.9" stroke-linecap="round"/>
<line x1="269.0" y1="271.3" x2="260.0" y2="271.3" stroke="#c8cdd2" stroke-width="0.9" stroke-linecap="round"/>
<line x1="260.0" y1="271.3" x2="256.5" y2="269.3" stroke="#c8cdd2" stroke-width="0.9" stroke-linecap="round"/>
<line x1="269.0" y1="279.6" x2="258.1" y2="279.6" stroke="#c8cdd2" stroke-width="0.9" stroke-linecap="round"/>
<line x1="258.1" y1="279.6" x2="254.6" y2="281.7" stroke="#c8cdd2" stroke-width="0.9" stroke-linecap="round"/>
<line x1="269.0" y1="283.8" x2="258.1" y2="283.8" stroke="#c8cdd2" stroke-width="0.9" stroke-linecap="round"/>
<line x1="258.1" y1="283.8" x2="254.6" y2="281.7" stroke="#c8cdd2" stroke-width="0.9" stroke-linecap="round"/>
<line x1="269.0" y1="287.9" x2="260.2" y2="287.9" stroke="#c8cdd2" stroke-width="0.9" stroke-linecap="round"/>
<line x1="260.2" y1="287.9" x2="256.7" y2="290.0" stroke="#c8cdd2" stroke-width="0.9" stroke-linecap="round"/>
<line x1="269.0" y1="292.1" x2="260.2" y2="292.1" stroke="#c8cdd2" stroke-width="0.9" stroke-linecap="round"/>
<line x1="260.2" y1="292.1" x2="256.7" y2="290.0" stroke="#c8cdd2" stroke-width="0.9" stroke-linecap="round"/>
<line x1="269.0" y1="296.2" x2="260.4" y2="296.2" stroke="#9fb2c0" stroke-width="0.9" stroke-linecap="round"/>
<line x1="260.4" y1="296.2" x2="256.9" y2="298.3" stroke="#9fb2c0" stroke-width="0.9" stroke-linecap="round"/>
<line x1="269.0" y1="300.4" x2="260.4" y2="300.4" stroke="#9fb2c0" stroke-width="0.9" stroke-linecap="round"/>
<line x1="260.4" y1="300.4" x2="256.9" y2="298.3" stroke="#9fb2c0" stroke-width="0.9" stroke-linecap="round"/>
<line x1="269.0" y1="304.5" x2="252.2" y2="304.5" stroke="#c8cdd2" stroke-width="0.9" stroke-linecap="round"/>
<line x1="252.2" y1="304.5" x2="248.7" y2="306.6" stroke="#c8cdd2" stroke-width="0.9" stroke-linecap="round"/>
<line x1="269.0" y1="308.7" x2="252.2" y2="308.7" stroke="#9fb2c0" stroke-width="0.9" stroke-linecap="round"/>
<line x1="252.2" y1="308.7" x2="248.7" y2="306.6" stroke="#9fb2c0" stroke-width="0.9" stroke-linecap="round"/>
<line x1="269.0" y1="312.8" x2="251.9" y2="312.8" stroke="#c8cdd2" stroke-width="0.9" stroke-linecap="round"/>
<line x1="251.9" y1="312.8" x2="248.4" y2="314.9" stroke="#c8cdd2" stroke-width="0.9" stroke-linecap="round"/>
<line x1="269.0" y1="317.0" x2="251.9" y2="317.0" stroke="#c8cdd2" stroke-width="0.9" stroke-linecap="round"/>
<line x1="251.9" y1="317.0" x2="248.4" y2="314.9" stroke="#c8cdd2" stroke-width="0.9" stroke-linecap="round"/>
<line x1="269.0" y1="321.1" x2="252.6" y2="321.1" stroke="#c8cdd2" stroke-width="0.9" stroke-linecap="round"/>
<line x1="252.6" y1="321.1" x2="249.1" y2="323.2" stroke="#c8cdd2" stroke-width="0.9" stroke-linecap="round"/>
<line x1="269.0" y1="325.3" x2="252.6" y2="325.3" stroke="#c8cdd2" stroke-width="0.9" stroke-linecap="round"/>
<line x1="252.6" y1="325.3" x2="249.1" y2="323.2" stroke="#c8cdd2" stroke-width="0.9" stroke-linecap="round"/>
<line x1="269.0" y1="329.4" x2="255.0" y2="329.4" stroke="#c8cdd2" stroke-width="0.9" stroke-linecap="round"/>
<line x1="255.0" y1="329.4" x2="251.5" y2="331.5" stroke="#c8cdd2" stroke-width="0.9" stroke-linecap="round"/>
<line x1="269.0" y1="333.6" x2="255.0" y2="333.6" stroke="#c8cdd2" stroke-width="0.9" stroke-linecap="round"/>
<line x1="255.0" y1="333.6" x2="251.5" y2="331.5" stroke="#c8cdd2" stroke-width="0.9" stroke-linecap="round"/>
<line x1="269.0" y1="337.7" x2="248.3" y2="337.7" stroke="#c8cdd2" stroke-width="0.9" stroke-linecap="round"/>
<line x1="248.3" y1="337.7" x2="244.8" y2="339.8" stroke="#c8cdd2" stroke-width="0.9" stroke-linecap="round"/>
<line x1="269.0" y1="341.9" x2="248.3" y2="341.9" stroke="#c8cdd2" stroke-width="0.9" stroke-linecap="round"/>
<line x1="248.3" y1="341.9" x2="244.8" y2="339.8" stroke="#c8cdd2" stroke-width="0.9" stroke-linecap="round"/>
<line x1="269.0" y1="350.2" x2="251.5" y2="350.2" stroke="#c8cdd2" stroke-width="0.9" stroke-linecap="round"/>
<line x1="251.5" y1="350.2" x2="248.0" y2="352.3" stroke="#c8cdd2" stroke-width="0.9" stroke-linecap="round"/>
<line x1="269.0" y1="354.3" x2="251.5" y2="354.3" stroke="#c8cdd2" stroke-width="0.9" stroke-linecap="round"/>
<line x1="251.5" y1="354.3" x2="248.0" y2="352.3" stroke="#c8cdd2" stroke-width="0.9" stroke-linecap="round"/>
<line x1="269.0" y1="358.5" x2="257.0" y2="358.5" stroke="#c8cdd2" stroke-width="0.9" stroke-linecap="round"/>
<line x1="257.0" y1="358.5" x2="253.5" y2="360.6" stroke="#c8cdd2" stroke-width="0.9" stroke-linecap="round"/>
<line x1="269.0" y1="362.6" x2="257.0" y2="362.6" stroke="#c8cdd2" stroke-width="0.9" stroke-linecap="round"/>
<line x1="257.0" y1="362.6" x2="253.5" y2="360.6" stroke="#c8cdd2" stroke-width="0.9" stroke-linecap="round"/>
<line x1="269.0" y1="366.8" x2="251.0" y2="366.8" stroke="#9fb2c0" stroke-width="0.9" stroke-linecap="round"/>
<line x1="251.0" y1="366.8" x2="247.5" y2="368.9" stroke="#9fb2c0" stroke-width="0.9" stroke-linecap="round"/>
<line x1="269.0" y1="370.9" x2="251.0" y2="370.9" stroke="#c8cdd2" stroke-width="0.9" stroke-linecap="round"/>
<line x1="251.0" y1="370.9" x2="247.5" y2="368.9" stroke="#c8cdd2" stroke-width="0.9" stroke-linecap="round"/>
<line x1="269.0" y1="375.1" x2="249.3" y2="375.1" stroke="#9fb2c0" stroke-width="0.9" stroke-linecap="round"/>
<line x1="249.3" y1="375.1" x2="245.8" y2="377.2" stroke="#9fb2c0" stroke-width="0.9" stroke-linecap="round"/>
<line x1="269.0" y1="379.2" x2="249.3" y2="379.2" stroke="#c8cdd2" stroke-width="0.9" stroke-linecap="round"/>
<line x1="249.3" y1="379.2" x2="245.8" y2="377.2" stroke="#c8cdd2" stroke-width="0.9" stroke-linecap="round"/>
<line x1="269.0" y1="387.5" x2="252.2" y2="387.5" stroke="#c8cdd2" stroke-width="0.9" stroke-linecap="round"/>
<line x1="252.2" y1="387.5" x2="248.7" y2="389.6" stroke="#c8cdd2" stroke-width="0.9" stroke-linecap="round"/>
<line x1="269.0" y1="391.7" x2="252.2" y2="391.7" stroke="#c8cdd2" stroke-width="0.9" stroke-linecap="round"/>
<line x1="252.2" y1="391.7" x2="248.7" y2="389.6" stroke="#c8cdd2" stroke-width="0.9" stroke-linecap="round"/>
<line x1="269.0" y1="400.0" x2="246.4" y2="400.0" stroke="#c8cdd2" stroke-width="0.9" stroke-linecap="round"/>
<line x1="246.4" y1="400.0" x2="242.9" y2="402.1" stroke="#c8cdd2" stroke-width="0.9" stroke-linecap="round"/>
<line x1="269.0" y1="404.1" x2="246.4" y2="404.1" stroke="#c8cdd2" stroke-width="0.9" stroke-linecap="round"/>
<line x1="246.4" y1="404.1" x2="242.9" y2="402.1" stroke="#c8cdd2" stroke-width="0.9" stroke-linecap="round"/>
<line x1="269.0" y1="408.3" x2="254.3" y2="408.3" stroke="#c8cdd2" stroke-width="0.9" stroke-linecap="round"/>
<line x1="254.3" y1="408.3" x2="250.8" y2="410.4" stroke="#c8cdd2" stroke-width="0.9" stroke-linecap="round"/>
<line x1="269.0" y1="412.4" x2="254.3" y2="412.4" stroke="#9fb2c0" stroke-width="0.9" stroke-linecap="round"/>
<line x1="254.3" y1="412.4" x2="250.8" y2="410.4" stroke="#9fb2c0" stroke-width="0.9" stroke-linecap="round"/>
<line x1="269.0" y1="416.6" x2="254.7" y2="416.6" stroke="#c8cdd2" stroke-width="0.9" stroke-linecap="round"/>
<line x1="254.7" y1="416.6" x2="251.2" y2="418.7" stroke="#c8cdd2" stroke-width="0.9" stroke-linecap="round"/>
<line x1="269.0" y1="420.7" x2="254.7" y2="420.7" stroke="#9fb2c0" stroke-width="0.9" stroke-linecap="round"/>
<line x1="254.7" y1="420.7" x2="251.2" y2="418.7" stroke="#9fb2c0" stroke-width="0.9" stroke-linecap="round"/>
<line x1="269.0" y1="424.9" x2="254.0" y2="424.9" stroke="#c8cdd2" stroke-width="0.9" stroke-linecap="round"/>
<line x1="254.0" y1="424.9" x2="250.5" y2="427.0" stroke="#c8cdd2" stroke-width="0.9" stroke-linecap="round"/>
<line x1="269.0" y1="429.0" x2="254.0" y2="429.0" stroke="#c8cdd2" stroke-width="0.9" stroke-linecap="round"/>
<line x1="254.0" y1="429.0" x2="250.5" y2="427.0" stroke="#c8cdd2" stroke-width="0.9" stroke-linecap="round"/>
<line x1="256.5" y1="269.3" x2="254.0" y2="269.3" stroke="#c8cdd2" stroke-width="0.9" stroke-linecap="round"/>
<line x1="254.0" y1="269.3" x2="250.5" y2="272.4" stroke="#c8cdd2" stroke-width="0.9" stroke-linecap="round"/>
<line x1="269.0" y1="275.5" x2="254.0" y2="275.5" stroke="#c8cdd2" stroke-width="0.9" stroke-linecap="round"/>
<line x1="254.0" y1="275.5" x2="250.5" y2="272.4" stroke="#c8cdd2" stroke-width="0.9" stroke-linecap="round"/>
<line x1="254.6" y1="281.7" x2="251.7" y2="281.7" stroke="#c8cdd2" stroke-width="0.9" stroke-linecap="round"/>
<line x1="251.7" y1="281.7" x2="248.2" y2="285.9" stroke="#c8cdd2" stroke-width="0.9" stroke-linecap="round"/>
<line x1="256.7" y1="290.0" x2="251.7" y2="290.0" stroke="#c8cdd2" stroke-width="0.9" stroke-linecap="round"/>
<line x1="251.7" y1="290.0" x2="248.2" y2="285.9" stroke="#c8cdd2" stroke-width="0.9" stroke-linecap="round"/>
<line x1="256.9" y1="298.3" x2="246.2" y2="298.3" stroke="#9fb2c0" stroke-width="0.9" stroke-linecap="round"/>
<line x1="246.2" y1="298.3" x2="242.7" y2="302.5" stroke="#9fb2c0" stroke-width="0.9" stroke-linecap="round"/>
<line x1="248.7" y1="306.6" x2="246.2" y2="306.6" stroke="#c8cdd2" stroke-width="0.9" stroke-linecap="round"/>
<line x1="246.2" y1="306.6" x2="242.7" y2="302.5" stroke="#c8cdd2" stroke-width="0.9" stroke-linecap="round"/>
<line x1="248.4" y1="314.9" x2="245.9" y2="314.9" stroke="#c8cdd2" stroke-width="0.9" stroke-linecap="round"/>
<line x1="245.9" y1="314.9" x2="242.4" y2="319.1" stroke="#c8cdd2" stroke-width="0.9" stroke-linecap="round"/>
<line x1="249.1" y1="323.2" x2="245.9" y2="323.2" stroke="#c8cdd2" stroke-width="0.9" stroke-linecap="round"/>
<line x1="245.9" y1="323.2" x2="242.4" y2="319.1" stroke="#c8cdd2" stroke-width="0.9" stroke-linecap="round"/>
<line x1="251.5" y1="331.5" x2="242.3" y2="331.5" stroke="#c8cdd2" stroke-width="0.9" stroke-linecap="round"/>
<line x1="242.3" y1="331.5" x2="238.8" y2="335.7" stroke="#c8cdd2" stroke-width="0.9" stroke-linecap="round"/>
<line x1="244.8" y1="339.8" x2="242.3" y2="339.8" stroke="#c8cdd2" stroke-width="0.9" stroke-linecap="round"/>
<line x1="242.3" y1="339.8" x2="238.8" y2="335.7" stroke="#c8cdd2" stroke-width="0.9" stroke-linecap="round"/>
<line x1="248.0" y1="352.3" x2="244.3" y2="352.3" stroke="#c8cdd2" stroke-width="0.9" stroke-linecap="round"/>
<line x1="244.3" y1="352.3" x2="240.8" y2="356.4" stroke="#c8cdd2" stroke-width="0.9" stroke-linecap="round"/>
<line x1="253.5" y1="360.6" x2="244.3" y2="360.6" stroke="#c8cdd2" stroke-width="0.9" stroke-linecap="round"/>
<line x1="244.3" y1="360.6" x2="240.8" y2="356.4" stroke="#c8cdd2" stroke-width="0.9" stroke-linecap="round"/>
<line x1="247.5" y1="368.9" x2="238.2" y2="368.9" stroke="#9fb2c0" stroke-width="0.9" stroke-linecap="round"/>
<line x1="238.2" y1="368.9" x2="234.7" y2="373.0" stroke="#9fb2c0" stroke-width="0.9" stroke-linecap="round"/>
<line x1="245.8" y1="377.2" x2="238.2" y2="377.2" stroke="#c8cdd2" stroke-width="0.9" stroke-linecap="round"/>
<line x1="238.2" y1="377.2" x2="234.7" y2="373.0" stroke="#c8cdd2" stroke-width="0.9" stroke-linecap="round"/>
<line x1="269.0" y1="383.4" x2="235.3" y2="383.4" stroke="#c8cdd2" stroke-width="0.9" stroke-linecap="round"/>
<line x1="235.3" y1="383.4" x2="231.8" y2="386.5" stroke="#c8cdd2" stroke-width="0.9" stroke-linecap="round"/>
<line x1="248.7" y1="389.6" x2="235.3" y2="389.6" stroke="#c8cdd2" stroke-width="0.9" stroke-linecap="round"/>
<line x1="235.3" y1="389.6" x2="231.8" y2="386.5" stroke="#c8cdd2" stroke-width="0.9" stroke-linecap="round"/>
<line x1="269.0" y1="395.8" x2="238.4" y2="395.8" stroke="#c8cdd2" stroke-width="0.9" stroke-linecap="round"/>
<line x1="238.4" y1="395.8" x2="234.9" y2="399.0" stroke="#c8cdd2" stroke-width="0.9" stroke-linecap="round"/>
<line x1="242.9" y1="402.1" x2="238.4" y2="402.1" stroke="#c8cdd2" stroke-width="0.9" stroke-linecap="round"/>
<line x1="238.4" y1="402.1" x2="234.9" y2="399.0" stroke="#c8cdd2" stroke-width="0.9" stroke-linecap="round"/>
<line x1="250.8" y1="410.4" x2="247.9" y2="410.4" stroke="#c8cdd2" stroke-width="0.9" stroke-linecap="round"/>
<line x1="247.9" y1="410.4" x2="244.4" y2="414.5" stroke="#c8cdd2" stroke-width="0.9" stroke-linecap="round"/>
<line x1="251.2" y1="418.7" x2="247.9" y2="418.7" stroke="#c8cdd2" stroke-width="0.9" stroke-linecap="round"/>
<line x1="247.9" y1="418.7" x2="244.4" y2="414.5" stroke="#c8cdd2" stroke-width="0.9" stroke-linecap="round"/>
<line x1="250.5" y1="272.4" x2="238.6" y2="272.4" stroke="#c8cdd2" stroke-width="0.9" stroke-linecap="round"/>
<line x1="248.2" y1="285.9" x2="233.8" y2="285.9" stroke="#c8cdd2" stroke-width="0.9" stroke-linecap="round"/>
<line x1="242.7" y1="302.5" x2="230.7" y2="302.5" stroke="#9fb2c0" stroke-width="0.9" stroke-linecap="round"/>
<line x1="242.4" y1="319.1" x2="223.0" y2="319.1" stroke="#c8cdd2" stroke-width="0.9" stroke-linecap="round"/>
<line x1="238.8" y1="335.7" x2="221.7" y2="335.7" stroke="#c8cdd2" stroke-width="0.9" stroke-linecap="round"/>
<line x1="269.0" y1="346.0" x2="220.5" y2="346.0" stroke="#c8cdd2" stroke-width="0.9" stroke-linecap="round"/>
<line x1="240.8" y1="356.4" x2="219.0" y2="356.4" stroke="#c8cdd2" stroke-width="0.9" stroke-linecap="round"/>
<line x1="234.7" y1="373.0" x2="216.7" y2="373.0" stroke="#c8cdd2" stroke-width="0.9" stroke-linecap="round"/>
<line x1="231.8" y1="386.5" x2="214.8" y2="386.5" stroke="#c8cdd2" stroke-width="0.9" stroke-linecap="round"/>
<line x1="234.9" y1="399.0" x2="217.0" y2="399.0" stroke="#c8cdd2" stroke-width="0.9" stroke-linecap="round"/>
<line x1="244.4" y1="414.5" x2="217.0" y2="414.5" stroke="#c8cdd2" stroke-width="0.9" stroke-linecap="round"/>
<line x1="250.5" y1="427.0" x2="217.0" y2="427.0" stroke="#c8cdd2" stroke-width="0.9" stroke-linecap="round"/>
<polyline points="148.00,352.40 168.70,352.40 171.70,354.80 185.50,354.80 190.10,359.40 194.70,364.30 201.50,364.30 207.70,376.20 211.00,376.20" fill="none" stroke="#2e6a8a" stroke-width="2.2" stroke-linejoin="round" stroke-miterlimit="30" stroke-linecap="round"/>
<path fill="#2e6a8a" d="M146.6,352.4a1.45,1.45 0 1,0 2.90,0a1.45,1.45 0 1,0 -2.90,0M150.0,352.4a1.45,1.45 0 1,0 2.90,0a1.45,1.45 0 1,0 -2.90,0M153.5,352.4a1.45,1.45 0 1,0 2.90,0a1.45,1.45 0 1,0 -2.90,0M156.9,352.4a1.45,1.45 0 1,0 2.90,0a1.45,1.45 0 1,0 -2.90,0M160.3,352.4a1.45,1.45 0 1,0 2.90,0a1.45,1.45 0 1,0 -2.90,0M163.8,352.4a1.45,1.45 0 1,0 2.90,0a1.45,1.45 0 1,0 -2.90,0M167.2,352.4a1.45,1.45 0 1,0 2.90,0a1.45,1.45 0 1,0 -2.90,0M170.2,354.8a1.45,1.45 0 1,0 2.90,0a1.45,1.45 0 1,0 -2.90,0M173.7,354.8a1.45,1.45 0 1,0 2.90,0a1.45,1.45 0 1,0 -2.90,0M177.2,354.8a1.45,1.45 0 1,0 2.90,0a1.45,1.45 0 1,0 -2.90,0M180.6,354.8a1.45,1.45 0 1,0 2.90,0a1.45,1.45 0 1,0 -2.90,0M184.1,354.8a1.45,1.45 0 1,0 2.90,0a1.45,1.45 0 1,0 -2.90,0M186.4,357.1a1.45,1.45 0 1,0 2.90,0a1.45,1.45 0 1,0 -2.90,0M188.7,359.4a1.45,1.45 0 1,0 2.90,0a1.45,1.45 0 1,0 -2.90,0M190.9,361.9a1.45,1.45 0 1,0 2.90,0a1.45,1.45 0 1,0 -2.90,0M193.2,364.3a1.45,1.45 0 1,0 2.90,0a1.45,1.45 0 1,0 -2.90,0M196.7,364.3a1.45,1.45 0 1,0 2.90,0a1.45,1.45 0 1,0 -2.90,0M200.1,364.3a1.45,1.45 0 1,0 2.90,0a1.45,1.45 0 1,0 -2.90,0M201.6,367.3a1.45,1.45 0 1,0 2.90,0a1.45,1.45 0 1,0 -2.90,0M203.2,370.2a1.45,1.45 0 1,0 2.90,0a1.45,1.45 0 1,0 -2.90,0M204.7,373.2a1.45,1.45 0 1,0 2.90,0a1.45,1.45 0 1,0 -2.90,0M206.2,376.2a1.45,1.45 0 1,0 2.90,0a1.45,1.45 0 1,0 -2.90,0M209.6,376.2a1.45,1.45 0 1,0 2.90,0a1.45,1.45 0 1,0 -2.90,0"/>
<polyline points="148.00,361.00 180.20,361.00 184.70,359.40" fill="none" stroke="#2e6a8a" stroke-width="1.8" stroke-linejoin="round" stroke-miterlimit="30" stroke-linecap="round"/>
<polyline points="148.00,298.00 173.90,298.00 178.00,296.00" fill="none" stroke="#2e6a8a" stroke-width="2.2" stroke-linejoin="round" stroke-miterlimit="30" stroke-linecap="round"/>
<path fill="#2e6a8a" d="M146.6,298.0a1.45,1.45 0 1,0 2.90,0a1.45,1.45 0 1,0 -2.90,0M149.8,298.0a1.45,1.45 0 1,0 2.90,0a1.45,1.45 0 1,0 -2.90,0M153.0,298.0a1.45,1.45 0 1,0 2.90,0a1.45,1.45 0 1,0 -2.90,0M156.3,298.0a1.45,1.45 0 1,0 2.90,0a1.45,1.45 0 1,0 -2.90,0M159.5,298.0a1.45,1.45 0 1,0 2.90,0a1.45,1.45 0 1,0 -2.90,0M162.7,298.0a1.45,1.45 0 1,0 2.90,0a1.45,1.45 0 1,0 -2.90,0M166.0,298.0a1.45,1.45 0 1,0 2.90,0a1.45,1.45 0 1,0 -2.90,0M169.2,298.0a1.45,1.45 0 1,0 2.90,0a1.45,1.45 0 1,0 -2.90,0M172.5,298.0a1.45,1.45 0 1,0 2.90,0a1.45,1.45 0 1,0 -2.90,0M176.6,296.0a1.45,1.45 0 1,0 2.90,0a1.45,1.45 0 1,0 -2.90,0"/>
<polyline points="147.70,285.50 151.00,285.50 154.00,287.50" fill="none" stroke="#2e6a8a" stroke-width="2" stroke-linejoin="round" stroke-miterlimit="30" stroke-linecap="round"/>
<path fill="#2e6a8a" d="M146.3,285.5a1.35,1.35 0 1,0 2.70,0a1.35,1.35 0 1,0 -2.70,0M149.7,285.5a1.35,1.35 0 1,0 2.70,0a1.35,1.35 0 1,0 -2.70,0M152.7,287.5a1.35,1.35 0 1,0 2.70,0a1.35,1.35 0 1,0 -2.70,0"/>
<polyline points="147.70,290.00 151.00,290.00 154.00,287.50" fill="none" stroke="#2e6a8a" stroke-width="2" stroke-linejoin="round" stroke-miterlimit="30" stroke-linecap="round"/>
<path fill="#2e6a8a" d="M146.3,290.0a1.35,1.35 0 1,0 2.70,0a1.35,1.35 0 1,0 -2.70,0M149.7,290.0a1.35,1.35 0 1,0 2.70,0a1.35,1.35 0 1,0 -2.70,0M152.7,287.5a1.35,1.35 0 1,0 2.70,0a1.35,1.35 0 1,0 -2.70,0"/>
<polyline points="148.00,386.00 181.70,386.00 184.70,388.50 201.50,388.50 205.70,405.80 210.30,405.80 211.50,418.40" fill="none" stroke="#2e6a8a" stroke-width="1.8" stroke-linejoin="round" stroke-miterlimit="30" stroke-linecap="round"/>
<polyline points="219.50,351.20 233.00,351.20 237.80,344.00 241.40,341.60 245.00,339.20 261.80,336.30 269.00,336.30" fill="none" stroke="#2e6a8a" stroke-width="2.2" stroke-linejoin="round" stroke-miterlimit="30" stroke-linecap="round"/>
<path fill="#2e6a8a" d="M218.1,351.2a1.45,1.45 0 1,0 2.90,0a1.45,1.45 0 1,0 -2.90,0M221.4,351.2a1.45,1.45 0 1,0 2.90,0a1.45,1.45 0 1,0 -2.90,0M224.8,351.2a1.45,1.45 0 1,0 2.90,0a1.45,1.45 0 1,0 -2.90,0M228.2,351.2a1.45,1.45 0 1,0 2.90,0a1.45,1.45 0 1,0 -2.90,0M231.6,351.2a1.45,1.45 0 1,0 2.90,0a1.45,1.45 0 1,0 -2.90,0M234.0,347.6a1.45,1.45 0 1,0 2.90,0a1.45,1.45 0 1,0 -2.90,0M236.4,344.0a1.45,1.45 0 1,0 2.90,0a1.45,1.45 0 1,0 -2.90,0M240.0,341.6a1.45,1.45 0 1,0 2.90,0a1.45,1.45 0 1,0 -2.90,0M243.6,339.2a1.45,1.45 0 1,0 2.90,0a1.45,1.45 0 1,0 -2.90,0M246.9,338.6a1.45,1.45 0 1,0 2.90,0a1.45,1.45 0 1,0 -2.90,0M250.3,338.0a1.45,1.45 0 1,0 2.90,0a1.45,1.45 0 1,0 -2.90,0M253.6,337.5a1.45,1.45 0 1,0 2.90,0a1.45,1.45 0 1,0 -2.90,0M257.0,336.9a1.45,1.45 0 1,0 2.90,0a1.45,1.45 0 1,0 -2.90,0M260.4,336.3a1.45,1.45 0 1,0 2.90,0a1.45,1.45 0 1,0 -2.90,0M263.9,336.3a1.45,1.45 0 1,0 2.90,0a1.45,1.45 0 1,0 -2.90,0M267.6,336.3a1.45,1.45 0 1,0 2.90,0a1.45,1.45 0 1,0 -2.90,0"/>
<polyline points="231.80,308.00 231.80,326.00 237.80,318.80 240.20,320.00 243.80,312.80 247.40,310.40 251.00,308.00 261.80,308.00 264.20,306.30 269.00,306.30" fill="none" stroke="#2e6a8a" stroke-width="2.2" stroke-linejoin="round" stroke-miterlimit="30" stroke-linecap="round"/>
<path fill="#2e6a8a" d="M230.4,308.0a1.45,1.45 0 1,0 2.90,0a1.45,1.45 0 1,0 -2.90,0M230.4,311.6a1.45,1.45 0 1,0 2.90,0a1.45,1.45 0 1,0 -2.90,0M230.4,315.2a1.45,1.45 0 1,0 2.90,0a1.45,1.45 0 1,0 -2.90,0M230.4,318.8a1.45,1.45 0 1,0 2.90,0a1.45,1.45 0 1,0 -2.90,0M230.4,322.4a1.45,1.45 0 1,0 2.90,0a1.45,1.45 0 1,0 -2.90,0M230.4,326.0a1.45,1.45 0 1,0 2.90,0a1.45,1.45 0 1,0 -2.90,0M233.4,322.4a1.45,1.45 0 1,0 2.90,0a1.45,1.45 0 1,0 -2.90,0M236.4,318.8a1.45,1.45 0 1,0 2.90,0a1.45,1.45 0 1,0 -2.90,0M238.8,320.0a1.45,1.45 0 1,0 2.90,0a1.45,1.45 0 1,0 -2.90,0M240.6,316.4a1.45,1.45 0 1,0 2.90,0a1.45,1.45 0 1,0 -2.90,0M242.4,312.8a1.45,1.45 0 1,0 2.90,0a1.45,1.45 0 1,0 -2.90,0M246.0,310.4a1.45,1.45 0 1,0 2.90,0a1.45,1.45 0 1,0 -2.90,0M249.6,308.0a1.45,1.45 0 1,0 2.90,0a1.45,1.45 0 1,0 -2.90,0M253.2,308.0a1.45,1.45 0 1,0 2.90,0a1.45,1.45 0 1,0 -2.90,0M256.8,308.0a1.45,1.45 0 1,0 2.90,0a1.45,1.45 0 1,0 -2.90,0M260.4,308.0a1.45,1.45 0 1,0 2.90,0a1.45,1.45 0 1,0 -2.90,0M262.8,306.3a1.45,1.45 0 1,0 2.90,0a1.45,1.45 0 1,0 -2.90,0M267.6,306.3a1.45,1.45 0 1,0 2.90,0a1.45,1.45 0 1,0 -2.90,0"/>
<polyline points="217.40,386.00 224.60,386.00 229.40,380.00 233.00,379.30 269.00,379.30" fill="none" stroke="#2e6a8a" stroke-width="2.2" stroke-linejoin="round" stroke-miterlimit="30" stroke-linecap="round"/>
<path fill="#2e6a8a" d="M216.0,386.0a1.45,1.45 0 1,0 2.90,0a1.45,1.45 0 1,0 -2.90,0M219.6,386.0a1.45,1.45 0 1,0 2.90,0a1.45,1.45 0 1,0 -2.90,0M223.2,386.0a1.45,1.45 0 1,0 2.90,0a1.45,1.45 0 1,0 -2.90,0M225.6,383.0a1.45,1.45 0 1,0 2.90,0a1.45,1.45 0 1,0 -2.90,0M228.0,380.0a1.45,1.45 0 1,0 2.90,0a1.45,1.45 0 1,0 -2.90,0M231.6,379.3a1.45,1.45 0 1,0 2.90,0a1.45,1.45 0 1,0 -2.90,0M234.8,379.3a1.45,1.45 0 1,0 2.90,0a1.45,1.45 0 1,0 -2.90,0M238.1,379.3a1.45,1.45 0 1,0 2.90,0a1.45,1.45 0 1,0 -2.90,0M241.4,379.3a1.45,1.45 0 1,0 2.90,0a1.45,1.45 0 1,0 -2.90,0M244.6,379.3a1.45,1.45 0 1,0 2.90,0a1.45,1.45 0 1,0 -2.90,0M247.9,379.3a1.45,1.45 0 1,0 2.90,0a1.45,1.45 0 1,0 -2.90,0M251.2,379.3a1.45,1.45 0 1,0 2.90,0a1.45,1.45 0 1,0 -2.90,0M254.5,379.3a1.45,1.45 0 1,0 2.90,0a1.45,1.45 0 1,0 -2.90,0M257.7,379.3a1.45,1.45 0 1,0 2.90,0a1.45,1.45 0 1,0 -2.90,0M261.0,379.3a1.45,1.45 0 1,0 2.90,0a1.45,1.45 0 1,0 -2.90,0M264.3,379.3a1.45,1.45 0 1,0 2.90,0a1.45,1.45 0 1,0 -2.90,0M267.6,379.3a1.45,1.45 0 1,0 2.90,0a1.45,1.45 0 1,0 -2.90,0"/>
<line x1="153.7" y1="287.6" x2="171.2" y2="287.6" stroke="#2e6b8c" stroke-width="2.87" stroke-linecap="round"/>
<line x1="171.2" y1="287.6" x2="173.9" y2="290.9" stroke="#2e6b8c" stroke-width="3.07" stroke-linecap="round"/>
<line x1="173.9" y1="290.9" x2="177.8" y2="294.2" stroke="#2e6b8c" stroke-width="4.10" stroke-linecap="round"/>
<line x1="177.8" y1="294.2" x2="181.6" y2="299.7" stroke="#2e6b8c" stroke-width="4.30" stroke-linecap="round"/>
<line x1="181.6" y1="299.7" x2="184.8" y2="305.7" stroke="#2e6b8c" stroke-width="4.71" stroke-linecap="round"/>
<line x1="184.8" y1="305.7" x2="187.6" y2="312.8" stroke="#2e6b8c" stroke-width="4.92" stroke-linecap="round"/>
<line x1="187.6" y1="312.8" x2="188.1" y2="319" stroke="#2e6b8c" stroke-width="4.30" stroke-linecap="round"/>
<line x1="188.1" y1="319" x2="197" y2="319.9" stroke="#2e6b8c" stroke-width="4.71" stroke-linecap="round"/>
<line x1="197" y1="319.9" x2="197.4" y2="333" stroke="#2e6b8c" stroke-width="4.92" stroke-linecap="round"/>
<line x1="197.4" y1="333" x2="210.9" y2="332.6" stroke="#2e6b8c" stroke-width="4.92" stroke-linecap="round"/>
<line x1="210.9" y1="332.6" x2="212" y2="354" stroke="#2e6b8c" stroke-width="5.12" stroke-linecap="round"/>
<line x1="212" y1="354" x2="214" y2="368.5" stroke="#2e6b8c" stroke-width="4.71" stroke-linecap="round"/>
<line x1="214" y1="368.5" x2="214.7" y2="385" stroke="#2e6b8c" stroke-width="3.89" stroke-linecap="round"/>
<path fill="#2e6b8c" d="M151.95,287.60a1.75,1.75 0 1,0 3.50,0a1.75,1.75 0 1,0 -3.50,0M154.45,287.60a1.75,1.75 0 1,0 3.50,0a1.75,1.75 0 1,0 -3.50,0M156.95,287.60a1.75,1.75 0 1,0 3.50,0a1.75,1.75 0 1,0 -3.50,0M159.45,287.60a1.75,1.75 0 1,0 3.50,0a1.75,1.75 0 1,0 -3.50,0M161.95,287.60a1.75,1.75 0 1,0 3.50,0a1.75,1.75 0 1,0 -3.50,0M164.45,287.60a1.75,1.75 0 1,0 3.50,0a1.75,1.75 0 1,0 -3.50,0M166.95,287.60a1.75,1.75 0 1,0 3.50,0a1.75,1.75 0 1,0 -3.50,0M169.45,287.60a1.75,1.75 0 1,0 3.50,0a1.75,1.75 0 1,0 -3.50,0M170.68,289.25a1.88,1.88 0 1,0 3.75,0a1.88,1.88 0 1,0 -3.75,0M171.90,290.90a2.00,2.00 0 1,0 4.00,0a2.00,2.00 0 1,0 -4.00,0M173.35,292.55a2.50,2.50 0 1,0 5.00,0a2.50,2.50 0 1,0 -5.00,0M174.80,294.20a3.00,3.00 0 1,0 6.00,0a3.00,3.00 0 1,0 -6.00,0M177.07,296.95a2.62,2.62 0 1,0 5.25,0a2.62,2.62 0 1,0 -5.25,0M179.35,299.70a2.25,2.25 0 1,0 4.50,0a2.25,2.25 0 1,0 -4.50,0M180.32,302.70a2.88,2.88 0 1,0 5.75,0a2.88,2.88 0 1,0 -5.75,0M181.30,305.70a3.50,3.50 0 1,0 7.00,0a3.50,3.50 0 1,0 -7.00,0M183.20,309.25a3.00,3.00 0 1,0 6.00,0a3.00,3.00 0 1,0 -6.00,0M185.10,312.80a2.50,2.50 0 1,0 5.00,0a2.50,2.50 0 1,0 -5.00,0M185.22,315.90a2.62,2.62 0 1,0 5.25,0a2.62,2.62 0 1,0 -5.25,0M185.35,319.00a2.75,2.75 0 1,0 5.50,0a2.75,2.75 0 1,0 -5.50,0M188.23,319.30a2.83,2.83 0 1,0 5.67,0a2.83,2.83 0 1,0 -5.67,0M191.12,319.60a2.92,2.92 0 1,0 5.83,0a2.92,2.92 0 1,0 -5.83,0M194.00,319.90a3.00,3.00 0 1,0 6.00,0a3.00,3.00 0 1,0 -6.00,0M194.13,324.27a3.00,3.00 0 1,0 6.00,0a3.00,3.00 0 1,0 -6.00,0M194.27,328.63a3.00,3.00 0 1,0 6.00,0a3.00,3.00 0 1,0 -6.00,0M194.40,333.00a3.00,3.00 0 1,0 6.00,0a3.00,3.00 0 1,0 -6.00,0M198.90,332.87a3.00,3.00 0 1,0 6.00,0a3.00,3.00 0 1,0 -6.00,0M203.40,332.73a3.00,3.00 0 1,0 6.00,0a3.00,3.00 0 1,0 -6.00,0M207.90,332.60a3.00,3.00 0 1,0 6.00,0a3.00,3.00 0 1,0 -6.00,0M208.07,336.88a3.05,3.05 0 1,0 6.10,0a3.05,3.05 0 1,0 -6.10,0M208.24,341.16a3.10,3.10 0 1,0 6.20,0a3.10,3.10 0 1,0 -6.20,0M208.41,345.44a3.15,3.15 0 1,0 6.30,0a3.15,3.15 0 1,0 -6.30,0M208.58,349.72a3.20,3.20 0 1,0 6.40,0a3.20,3.20 0 1,0 -6.40,0M208.75,354.00a3.25,3.25 0 1,0 6.50,0a3.25,3.25 0 1,0 -6.50,0M209.44,357.62a3.06,3.06 0 1,0 6.12,0a3.06,3.06 0 1,0 -6.12,0M210.12,361.25a2.88,2.88 0 1,0 5.75,0a2.88,2.88 0 1,0 -5.75,0M210.81,364.88a2.69,2.69 0 1,0 5.38,0a2.69,2.69 0 1,0 -5.38,0M211.50,368.50a2.50,2.50 0 1,0 5.00,0a2.50,2.50 0 1,0 -5.00,0M211.69,371.80a2.45,2.45 0 1,0 4.90,0a2.45,2.45 0 1,0 -4.90,0M211.88,375.10a2.40,2.40 0 1,0 4.80,0a2.40,2.40 0 1,0 -4.80,0M212.07,378.40a2.35,2.35 0 1,0 4.70,0a2.35,2.35 0 1,0 -4.70,0M212.26,381.70a2.30,2.30 0 1,0 4.60,0a2.30,2.30 0 1,0 -4.60,0M212.45,385.00a2.25,2.25 0 1,0 4.50,0a2.25,2.25 0 1,0 -4.50,0"/>
<line x1="269" y1="263.3" x2="245.2" y2="263.3" stroke="#2e6b8c" stroke-width="2.46" stroke-linecap="round"/>
<line x1="245.2" y1="263.3" x2="241" y2="270" stroke="#2e6b8c" stroke-width="2.46" stroke-linecap="round"/>
<line x1="241" y1="270" x2="238" y2="273" stroke="#2e6b8c" stroke-width="2.46" stroke-linecap="round"/>
<line x1="238" y1="273" x2="232.4" y2="290" stroke="#2e6b8c" stroke-width="2.46" stroke-linecap="round"/>
<line x1="232.4" y1="290" x2="230.4" y2="305" stroke="#2e6b8c" stroke-width="2.67" stroke-linecap="round"/>
<line x1="230.4" y1="305" x2="226.5" y2="307.7" stroke="#2e6b8c" stroke-width="3.89" stroke-linecap="round"/>
<line x1="226.5" y1="307.7" x2="223.5" y2="308" stroke="#2e6b8c" stroke-width="4.92" stroke-linecap="round"/>
<line x1="223.5" y1="308" x2="223.4" y2="328" stroke="#2e6b8c" stroke-width="5.33" stroke-linecap="round"/>
<line x1="223.4" y1="328" x2="221" y2="340" stroke="#2e6b8c" stroke-width="4.71" stroke-linecap="round"/>
<line x1="221" y1="340" x2="219.2" y2="351.9" stroke="#2e6b8c" stroke-width="3.69" stroke-linecap="round"/>
<line x1="219.2" y1="351.9" x2="217.2" y2="368.5" stroke="#2e6b8c" stroke-width="3.69" stroke-linecap="round"/>
<line x1="217.2" y1="368.5" x2="214.7" y2="385" stroke="#2e6b8c" stroke-width="3.69" stroke-linecap="round"/>
<path fill="#2e6b8c" d="M267.50,263.30a1.50,1.50 0 1,0 3.00,0a1.50,1.50 0 1,0 -3.00,0M265.12,263.30a1.50,1.50 0 1,0 3.00,0a1.50,1.50 0 1,0 -3.00,0M262.74,263.30a1.50,1.50 0 1,0 3.00,0a1.50,1.50 0 1,0 -3.00,0M260.36,263.30a1.50,1.50 0 1,0 3.00,0a1.50,1.50 0 1,0 -3.00,0M257.98,263.30a1.50,1.50 0 1,0 3.00,0a1.50,1.50 0 1,0 -3.00,0M255.60,263.30a1.50,1.50 0 1,0 3.00,0a1.50,1.50 0 1,0 -3.00,0M253.22,263.30a1.50,1.50 0 1,0 3.00,0a1.50,1.50 0 1,0 -3.00,0M250.84,263.30a1.50,1.50 0 1,0 3.00,0a1.50,1.50 0 1,0 -3.00,0M248.46,263.30a1.50,1.50 0 1,0 3.00,0a1.50,1.50 0 1,0 -3.00,0M246.08,263.30a1.50,1.50 0 1,0 3.00,0a1.50,1.50 0 1,0 -3.00,0M243.70,263.30a1.50,1.50 0 1,0 3.00,0a1.50,1.50 0 1,0 -3.00,0M242.65,264.98a1.50,1.50 0 1,0 3.00,0a1.50,1.50 0 1,0 -3.00,0M241.60,266.65a1.50,1.50 0 1,0 3.00,0a1.50,1.50 0 1,0 -3.00,0M240.55,268.32a1.50,1.50 0 1,0 3.00,0a1.50,1.50 0 1,0 -3.00,0M239.50,270.00a1.50,1.50 0 1,0 3.00,0a1.50,1.50 0 1,0 -3.00,0M238.00,271.50a1.50,1.50 0 1,0 3.00,0a1.50,1.50 0 1,0 -3.00,0M236.50,273.00a1.50,1.50 0 1,0 3.00,0a1.50,1.50 0 1,0 -3.00,0M235.80,275.12a1.50,1.50 0 1,0 3.00,0a1.50,1.50 0 1,0 -3.00,0M235.10,277.25a1.50,1.50 0 1,0 3.00,0a1.50,1.50 0 1,0 -3.00,0M234.40,279.38a1.50,1.50 0 1,0 3.00,0a1.50,1.50 0 1,0 -3.00,0M233.70,281.50a1.50,1.50 0 1,0 3.00,0a1.50,1.50 0 1,0 -3.00,0M233.00,283.62a1.50,1.50 0 1,0 3.00,0a1.50,1.50 0 1,0 -3.00,0M232.30,285.75a1.50,1.50 0 1,0 3.00,0a1.50,1.50 0 1,0 -3.00,0M231.60,287.88a1.50,1.50 0 1,0 3.00,0a1.50,1.50 0 1,0 -3.00,0M230.90,290.00a1.50,1.50 0 1,0 3.00,0a1.50,1.50 0 1,0 -3.00,0M230.58,292.14a1.54,1.54 0 1,0 3.07,0a1.54,1.54 0 1,0 -3.07,0M230.26,294.29a1.57,1.57 0 1,0 3.14,0a1.57,1.57 0 1,0 -3.14,0M229.94,296.43a1.61,1.61 0 1,0 3.21,0a1.61,1.61 0 1,0 -3.21,0M229.61,298.57a1.64,1.64 0 1,0 3.29,0a1.64,1.64 0 1,0 -3.29,0M229.29,300.71a1.68,1.68 0 1,0 3.36,0a1.68,1.68 0 1,0 -3.36,0M228.97,302.86a1.71,1.71 0 1,0 3.43,0a1.71,1.71 0 1,0 -3.43,0M228.65,305.00a1.75,1.75 0 1,0 3.50,0a1.75,1.75 0 1,0 -3.50,0M226.07,306.35a2.38,2.38 0 1,0 4.75,0a2.38,2.38 0 1,0 -4.75,0M223.50,307.70a3.00,3.00 0 1,0 6.00,0a3.00,3.00 0 1,0 -6.00,0M220.50,308.00a3.00,3.00 0 1,0 6.00,0a3.00,3.00 0 1,0 -6.00,0M220.38,312.00a3.10,3.10 0 1,0 6.20,0a3.10,3.10 0 1,0 -6.20,0M220.26,316.00a3.20,3.20 0 1,0 6.40,0a3.20,3.20 0 1,0 -6.40,0M220.14,320.00a3.30,3.30 0 1,0 6.60,0a3.30,3.30 0 1,0 -6.60,0M220.02,324.00a3.40,3.40 0 1,0 6.80,0a3.40,3.40 0 1,0 -6.80,0M219.90,328.00a3.50,3.50 0 1,0 7.00,0a3.50,3.50 0 1,0 -7.00,0M219.61,331.00a3.19,3.19 0 1,0 6.38,0a3.19,3.19 0 1,0 -6.38,0M219.32,334.00a2.88,2.88 0 1,0 5.75,0a2.88,2.88 0 1,0 -5.75,0M219.04,337.00a2.56,2.56 0 1,0 5.12,0a2.56,2.56 0 1,0 -5.12,0M218.75,340.00a2.25,2.25 0 1,0 4.50,0a2.25,2.25 0 1,0 -4.50,0M218.30,342.98a2.25,2.25 0 1,0 4.50,0a2.25,2.25 0 1,0 -4.50,0M217.85,345.95a2.25,2.25 0 1,0 4.50,0a2.25,2.25 0 1,0 -4.50,0M217.40,348.92a2.25,2.25 0 1,0 4.50,0a2.25,2.25 0 1,0 -4.50,0M216.95,351.90a2.25,2.25 0 1,0 4.50,0a2.25,2.25 0 1,0 -4.50,0M216.55,355.22a2.25,2.25 0 1,0 4.50,0a2.25,2.25 0 1,0 -4.50,0M216.15,358.54a2.25,2.25 0 1,0 4.50,0a2.25,2.25 0 1,0 -4.50,0M215.75,361.86a2.25,2.25 0 1,0 4.50,0a2.25,2.25 0 1,0 -4.50,0M215.35,365.18a2.25,2.25 0 1,0 4.50,0a2.25,2.25 0 1,0 -4.50,0M214.95,368.50a2.25,2.25 0 1,0 4.50,0a2.25,2.25 0 1,0 -4.50,0M214.45,371.80a2.25,2.25 0 1,0 4.50,0a2.25,2.25 0 1,0 -4.50,0M213.95,375.10a2.25,2.25 0 1,0 4.50,0a2.25,2.25 0 1,0 -4.50,0M213.45,378.40a2.25,2.25 0 1,0 4.50,0a2.25,2.25 0 1,0 -4.50,0M212.95,381.70a2.25,2.25 0 1,0 4.50,0a2.25,2.25 0 1,0 -4.50,0M212.45,385.00a2.25,2.25 0 1,0 4.50,0a2.25,2.25 0 1,0 -4.50,0"/>
<ellipse cx="214.7" cy="386.5" rx="4" ry="5" fill="#0c3a77"/>
<line x1="291.0" y1="273.4" x2="299.1" y2="273.4" stroke="#c8cdd2" stroke-width="0.9" stroke-linecap="round"/>
<line x1="299.1" y1="273.4" x2="302.6" y2="275.2" stroke="#c8cdd2" stroke-width="0.9" stroke-linecap="round"/>
<line x1="291.0" y1="276.9" x2="299.1" y2="276.9" stroke="#c8cdd2" stroke-width="0.9" stroke-linecap="round"/>
<line x1="299.1" y1="276.9" x2="302.6" y2="275.2" stroke="#c8cdd2" stroke-width="0.9" stroke-linecap="round"/>
<line x1="291.0" y1="280.3" x2="299.8" y2="280.3" stroke="#c8cdd2" stroke-width="0.9" stroke-linecap="round"/>
<line x1="299.8" y1="280.3" x2="303.3" y2="282.1" stroke="#c8cdd2" stroke-width="0.9" stroke-linecap="round"/>
<line x1="291.0" y1="283.8" x2="299.8" y2="283.8" stroke="#c8cdd2" stroke-width="0.9" stroke-linecap="round"/>
<line x1="299.8" y1="283.8" x2="303.3" y2="282.1" stroke="#c8cdd2" stroke-width="0.9" stroke-linecap="round"/>
<line x1="291.0" y1="287.2" x2="300.4" y2="287.2" stroke="#c8cdd2" stroke-width="0.9" stroke-linecap="round"/>
<line x1="300.4" y1="287.2" x2="303.9" y2="289.0" stroke="#c8cdd2" stroke-width="0.9" stroke-linecap="round"/>
<line x1="291.0" y1="290.7" x2="300.4" y2="290.7" stroke="#9fb2c0" stroke-width="0.9" stroke-linecap="round"/>
<line x1="300.4" y1="290.7" x2="303.9" y2="289.0" stroke="#9fb2c0" stroke-width="0.9" stroke-linecap="round"/>
<line x1="291.0" y1="294.1" x2="304.8" y2="294.1" stroke="#c8cdd2" stroke-width="0.9" stroke-linecap="round"/>
<line x1="304.8" y1="294.1" x2="308.3" y2="295.9" stroke="#c8cdd2" stroke-width="0.9" stroke-linecap="round"/>
<line x1="291.0" y1="297.6" x2="304.8" y2="297.6" stroke="#c8cdd2" stroke-width="0.9" stroke-linecap="round"/>
<line x1="304.8" y1="297.6" x2="308.3" y2="295.9" stroke="#c8cdd2" stroke-width="0.9" stroke-linecap="round"/>
<line x1="291.0" y1="301.0" x2="305.5" y2="301.0" stroke="#c8cdd2" stroke-width="0.9" stroke-linecap="round"/>
<line x1="305.5" y1="301.0" x2="309.0" y2="302.8" stroke="#c8cdd2" stroke-width="0.9" stroke-linecap="round"/>
<line x1="291.0" y1="304.5" x2="305.5" y2="304.5" stroke="#c8cdd2" stroke-width="0.9" stroke-linecap="round"/>
<line x1="305.5" y1="304.5" x2="309.0" y2="302.8" stroke="#c8cdd2" stroke-width="0.9" stroke-linecap="round"/>
<line x1="291.0" y1="307.9" x2="303.0" y2="307.9" stroke="#9fb2c0" stroke-width="0.9" stroke-linecap="round"/>
<line x1="303.0" y1="307.9" x2="306.5" y2="309.7" stroke="#9fb2c0" stroke-width="0.9" stroke-linecap="round"/>
<line x1="291.0" y1="311.4" x2="303.0" y2="311.4" stroke="#c8cdd2" stroke-width="0.9" stroke-linecap="round"/>
<line x1="303.0" y1="311.4" x2="306.5" y2="309.7" stroke="#c8cdd2" stroke-width="0.9" stroke-linecap="round"/>
<line x1="291.0" y1="314.8" x2="312.4" y2="314.8" stroke="#c8cdd2" stroke-width="0.9" stroke-linecap="round"/>
<line x1="312.4" y1="314.8" x2="315.9" y2="316.6" stroke="#c8cdd2" stroke-width="0.9" stroke-linecap="round"/>
<line x1="291.0" y1="318.3" x2="312.4" y2="318.3" stroke="#c8cdd2" stroke-width="0.9" stroke-linecap="round"/>
<line x1="312.4" y1="318.3" x2="315.9" y2="316.6" stroke="#c8cdd2" stroke-width="0.9" stroke-linecap="round"/>
<line x1="291.0" y1="321.7" x2="314.1" y2="321.7" stroke="#c8cdd2" stroke-width="0.9" stroke-linecap="round"/>
<line x1="314.1" y1="321.7" x2="317.6" y2="323.5" stroke="#c8cdd2" stroke-width="0.9" stroke-linecap="round"/>
<line x1="291.0" y1="325.2" x2="314.1" y2="325.2" stroke="#9fb2c0" stroke-width="0.9" stroke-linecap="round"/>
<line x1="314.1" y1="325.2" x2="317.6" y2="323.5" stroke="#9fb2c0" stroke-width="0.9" stroke-linecap="round"/>
<line x1="291.0" y1="328.6" x2="304.7" y2="328.6" stroke="#c8cdd2" stroke-width="0.9" stroke-linecap="round"/>
<line x1="304.7" y1="328.6" x2="308.2" y2="330.4" stroke="#c8cdd2" stroke-width="0.9" stroke-linecap="round"/>
<line x1="291.0" y1="332.1" x2="304.7" y2="332.1" stroke="#c8cdd2" stroke-width="0.9" stroke-linecap="round"/>
<line x1="304.7" y1="332.1" x2="308.2" y2="330.4" stroke="#c8cdd2" stroke-width="0.9" stroke-linecap="round"/>
<line x1="291.0" y1="335.5" x2="318.7" y2="335.5" stroke="#c8cdd2" stroke-width="0.9" stroke-linecap="round"/>
<line x1="318.7" y1="335.5" x2="322.2" y2="337.3" stroke="#c8cdd2" stroke-width="0.9" stroke-linecap="round"/>
<line x1="291.0" y1="339.0" x2="318.7" y2="339.0" stroke="#c8cdd2" stroke-width="0.9" stroke-linecap="round"/>
<line x1="318.7" y1="339.0" x2="322.2" y2="337.3" stroke="#c8cdd2" stroke-width="0.9" stroke-linecap="round"/>
<line x1="291.0" y1="342.4" x2="319.3" y2="342.4" stroke="#c8cdd2" stroke-width="0.9" stroke-linecap="round"/>
<line x1="319.3" y1="342.4" x2="322.8" y2="344.2" stroke="#c8cdd2" stroke-width="0.9" stroke-linecap="round"/>
<line x1="291.0" y1="345.9" x2="319.3" y2="345.9" stroke="#c8cdd2" stroke-width="0.9" stroke-linecap="round"/>
<line x1="319.3" y1="345.9" x2="322.8" y2="344.2" stroke="#c8cdd2" stroke-width="0.9" stroke-linecap="round"/>
<line x1="291.0" y1="349.3" x2="311.5" y2="349.3" stroke="#c8cdd2" stroke-width="0.9" stroke-linecap="round"/>
<line x1="311.5" y1="349.3" x2="315.0" y2="351.1" stroke="#c8cdd2" stroke-width="0.9" stroke-linecap="round"/>
<line x1="291.0" y1="352.8" x2="311.5" y2="352.8" stroke="#c8cdd2" stroke-width="0.9" stroke-linecap="round"/>
<line x1="311.5" y1="352.8" x2="315.0" y2="351.1" stroke="#c8cdd2" stroke-width="0.9" stroke-linecap="round"/>
<line x1="291.0" y1="356.2" x2="308.4" y2="356.2" stroke="#c8cdd2" stroke-width="0.9" stroke-linecap="round"/>
<line x1="308.4" y1="356.2" x2="311.9" y2="358.0" stroke="#c8cdd2" stroke-width="0.9" stroke-linecap="round"/>
<line x1="291.0" y1="359.7" x2="308.4" y2="359.7" stroke="#9fb2c0" stroke-width="0.9" stroke-linecap="round"/>
<line x1="308.4" y1="359.7" x2="311.9" y2="358.0" stroke="#9fb2c0" stroke-width="0.9" stroke-linecap="round"/>
<line x1="291.0" y1="363.1" x2="320.7" y2="363.1" stroke="#c8cdd2" stroke-width="0.9" stroke-linecap="round"/>
<line x1="320.7" y1="363.1" x2="324.2" y2="364.9" stroke="#c8cdd2" stroke-width="0.9" stroke-linecap="round"/>
<line x1="291.0" y1="366.6" x2="320.7" y2="366.6" stroke="#c8cdd2" stroke-width="0.9" stroke-linecap="round"/>
<line x1="320.7" y1="366.6" x2="324.2" y2="364.9" stroke="#c8cdd2" stroke-width="0.9" stroke-linecap="round"/>
<line x1="291.0" y1="373.5" x2="313.4" y2="373.5" stroke="#c8cdd2" stroke-width="0.9" stroke-linecap="round"/>
<line x1="313.4" y1="373.5" x2="316.9" y2="375.2" stroke="#c8cdd2" stroke-width="0.9" stroke-linecap="round"/>
<line x1="291.0" y1="376.9" x2="313.4" y2="376.9" stroke="#c8cdd2" stroke-width="0.9" stroke-linecap="round"/>
<line x1="313.4" y1="376.9" x2="316.9" y2="375.2" stroke="#c8cdd2" stroke-width="0.9" stroke-linecap="round"/>
<line x1="291.0" y1="383.8" x2="322.5" y2="383.8" stroke="#c8cdd2" stroke-width="0.9" stroke-linecap="round"/>
<line x1="322.5" y1="383.8" x2="326.0" y2="385.6" stroke="#c8cdd2" stroke-width="0.9" stroke-linecap="round"/>
<line x1="291.0" y1="387.3" x2="322.5" y2="387.3" stroke="#c8cdd2" stroke-width="0.9" stroke-linecap="round"/>
<line x1="322.5" y1="387.3" x2="326.0" y2="385.6" stroke="#c8cdd2" stroke-width="0.9" stroke-linecap="round"/>
<line x1="291.0" y1="390.7" x2="312.7" y2="390.7" stroke="#c8cdd2" stroke-width="0.9" stroke-linecap="round"/>
<line x1="312.7" y1="390.7" x2="316.2" y2="392.5" stroke="#c8cdd2" stroke-width="0.9" stroke-linecap="round"/>
<line x1="291.0" y1="394.2" x2="312.7" y2="394.2" stroke="#c8cdd2" stroke-width="0.9" stroke-linecap="round"/>
<line x1="312.7" y1="394.2" x2="316.2" y2="392.5" stroke="#c8cdd2" stroke-width="0.9" stroke-linecap="round"/>
<line x1="291.0" y1="397.6" x2="310.0" y2="397.6" stroke="#c8cdd2" stroke-width="0.9" stroke-linecap="round"/>
<line x1="310.0" y1="397.6" x2="313.5" y2="399.4" stroke="#c8cdd2" stroke-width="0.9" stroke-linecap="round"/>
<line x1="291.0" y1="401.1" x2="310.0" y2="401.1" stroke="#c8cdd2" stroke-width="0.9" stroke-linecap="round"/>
<line x1="310.0" y1="401.1" x2="313.5" y2="399.4" stroke="#c8cdd2" stroke-width="0.9" stroke-linecap="round"/>
<line x1="302.6" y1="275.2" x2="305.8" y2="275.2" stroke="#c8cdd2" stroke-width="0.9" stroke-linecap="round"/>
<line x1="305.8" y1="275.2" x2="309.3" y2="278.6" stroke="#c8cdd2" stroke-width="0.9" stroke-linecap="round"/>
<line x1="303.3" y1="282.1" x2="305.8" y2="282.1" stroke="#c8cdd2" stroke-width="0.9" stroke-linecap="round"/>
<line x1="305.8" y1="282.1" x2="309.3" y2="278.6" stroke="#c8cdd2" stroke-width="0.9" stroke-linecap="round"/>
<line x1="303.9" y1="289.0" x2="312.8" y2="289.0" stroke="#9fb2c0" stroke-width="0.9" stroke-linecap="round"/>
<line x1="312.8" y1="289.0" x2="316.3" y2="292.4" stroke="#9fb2c0" stroke-width="0.9" stroke-linecap="round"/>
<line x1="308.3" y1="295.9" x2="312.8" y2="295.9" stroke="#c8cdd2" stroke-width="0.9" stroke-linecap="round"/>
<line x1="312.8" y1="295.9" x2="316.3" y2="292.4" stroke="#c8cdd2" stroke-width="0.9" stroke-linecap="round"/>
<line x1="309.0" y1="302.8" x2="320.0" y2="302.8" stroke="#c8cdd2" stroke-width="0.9" stroke-linecap="round"/>
<line x1="320.0" y1="302.8" x2="323.5" y2="306.2" stroke="#c8cdd2" stroke-width="0.9" stroke-linecap="round"/>
<line x1="306.5" y1="309.7" x2="320.0" y2="309.7" stroke="#c8cdd2" stroke-width="0.9" stroke-linecap="round"/>
<line x1="320.0" y1="309.7" x2="323.5" y2="306.2" stroke="#c8cdd2" stroke-width="0.9" stroke-linecap="round"/>
<line x1="315.9" y1="316.6" x2="320.1" y2="316.6" stroke="#c8cdd2" stroke-width="0.9" stroke-linecap="round"/>
<line x1="320.1" y1="316.6" x2="323.6" y2="320.0" stroke="#c8cdd2" stroke-width="0.9" stroke-linecap="round"/>
<line x1="317.6" y1="323.5" x2="320.1" y2="323.5" stroke="#c8cdd2" stroke-width="0.9" stroke-linecap="round"/>
<line x1="320.1" y1="323.5" x2="323.6" y2="320.0" stroke="#c8cdd2" stroke-width="0.9" stroke-linecap="round"/>
<line x1="308.2" y1="330.4" x2="324.7" y2="330.4" stroke="#c8cdd2" stroke-width="0.9" stroke-linecap="round"/>
<line x1="324.7" y1="330.4" x2="328.2" y2="333.8" stroke="#c8cdd2" stroke-width="0.9" stroke-linecap="round"/>
<line x1="322.2" y1="337.3" x2="324.7" y2="337.3" stroke="#c8cdd2" stroke-width="0.9" stroke-linecap="round"/>
<line x1="324.7" y1="337.3" x2="328.2" y2="333.8" stroke="#c8cdd2" stroke-width="0.9" stroke-linecap="round"/>
<line x1="322.8" y1="344.2" x2="327.3" y2="344.2" stroke="#c8cdd2" stroke-width="0.9" stroke-linecap="round"/>
<line x1="327.3" y1="344.2" x2="330.8" y2="347.6" stroke="#c8cdd2" stroke-width="0.9" stroke-linecap="round"/>
<line x1="315.0" y1="351.1" x2="327.3" y2="351.1" stroke="#c8cdd2" stroke-width="0.9" stroke-linecap="round"/>
<line x1="327.3" y1="351.1" x2="330.8" y2="347.6" stroke="#c8cdd2" stroke-width="0.9" stroke-linecap="round"/>
<line x1="311.9" y1="358.0" x2="330.2" y2="358.0" stroke="#9fb2c0" stroke-width="0.9" stroke-linecap="round"/>
<line x1="330.2" y1="358.0" x2="333.7" y2="361.4" stroke="#9fb2c0" stroke-width="0.9" stroke-linecap="round"/>
<line x1="324.2" y1="364.9" x2="330.2" y2="364.9" stroke="#c8cdd2" stroke-width="0.9" stroke-linecap="round"/>
<line x1="330.2" y1="364.9" x2="333.7" y2="361.4" stroke="#c8cdd2" stroke-width="0.9" stroke-linecap="round"/>
<line x1="291.0" y1="370.0" x2="321.5" y2="370.0" stroke="#c8cdd2" stroke-width="0.9" stroke-linecap="round"/>
<line x1="321.5" y1="370.0" x2="325.0" y2="372.6" stroke="#c8cdd2" stroke-width="0.9" stroke-linecap="round"/>
<line x1="316.9" y1="375.2" x2="321.5" y2="375.2" stroke="#c8cdd2" stroke-width="0.9" stroke-linecap="round"/>
<line x1="321.5" y1="375.2" x2="325.0" y2="372.6" stroke="#c8cdd2" stroke-width="0.9" stroke-linecap="round"/>
<line x1="291.0" y1="380.4" x2="328.5" y2="380.4" stroke="#c8cdd2" stroke-width="0.9" stroke-linecap="round"/>
<line x1="328.5" y1="380.4" x2="332.0" y2="383.0" stroke="#c8cdd2" stroke-width="0.9" stroke-linecap="round"/>
<line x1="326.0" y1="385.6" x2="328.5" y2="385.6" stroke="#c8cdd2" stroke-width="0.9" stroke-linecap="round"/>
<line x1="328.5" y1="385.6" x2="332.0" y2="383.0" stroke="#c8cdd2" stroke-width="0.9" stroke-linecap="round"/>
<line x1="291.0" y1="270.0" x2="311.8" y2="270.0" stroke="#c8cdd2" stroke-width="0.9" stroke-linecap="round"/>
<line x1="311.8" y1="270.0" x2="315.3" y2="274.3" stroke="#c8cdd2" stroke-width="0.9" stroke-linecap="round"/>
<line x1="309.3" y1="278.6" x2="311.8" y2="278.6" stroke="#c8cdd2" stroke-width="0.9" stroke-linecap="round"/>
<line x1="311.8" y1="278.6" x2="315.3" y2="274.3" stroke="#c8cdd2" stroke-width="0.9" stroke-linecap="round"/>
<line x1="316.2" y1="392.5" x2="335.8" y2="392.5" stroke="#c8cdd2" stroke-width="0.9" stroke-linecap="round"/>
<line x1="335.8" y1="392.5" x2="339.3" y2="395.9" stroke="#c8cdd2" stroke-width="0.9" stroke-linecap="round"/>
<line x1="313.5" y1="399.4" x2="335.8" y2="399.4" stroke="#c8cdd2" stroke-width="0.9" stroke-linecap="round"/>
<line x1="335.8" y1="399.4" x2="339.3" y2="395.9" stroke="#c8cdd2" stroke-width="0.9" stroke-linecap="round"/>
<line x1="315.3" y1="274.3" x2="320.2" y2="274.3" stroke="#c8cdd2" stroke-width="0.9" stroke-linecap="round"/>
<line x1="316.3" y1="292.4" x2="335.6" y2="292.4" stroke="#9fb2c0" stroke-width="0.9" stroke-linecap="round"/>
<line x1="323.5" y1="306.2" x2="339.7" y2="306.2" stroke="#c8cdd2" stroke-width="0.9" stroke-linecap="round"/>
<line x1="323.6" y1="320.0" x2="344.0" y2="320.0" stroke="#c8cdd2" stroke-width="0.9" stroke-linecap="round"/>
<line x1="328.2" y1="333.8" x2="349.0" y2="333.8" stroke="#c8cdd2" stroke-width="0.9" stroke-linecap="round"/>
<line x1="330.8" y1="347.6" x2="352.6" y2="347.6" stroke="#c8cdd2" stroke-width="0.9" stroke-linecap="round"/>
<line x1="333.7" y1="361.4" x2="355.8" y2="361.4" stroke="#9fb2c0" stroke-width="0.9" stroke-linecap="round"/>
<line x1="325.0" y1="372.6" x2="358.3" y2="372.6" stroke="#c8cdd2" stroke-width="0.9" stroke-linecap="round"/>
<line x1="332.0" y1="383.0" x2="358.0" y2="383.0" stroke="#c8cdd2" stroke-width="0.9" stroke-linecap="round"/>
<line x1="339.3" y1="395.9" x2="358.0" y2="395.9" stroke="#c8cdd2" stroke-width="0.9" stroke-linecap="round"/>
<line x1="291.0" y1="404.5" x2="358.0" y2="404.5" stroke="#c8cdd2" stroke-width="0.9" stroke-linecap="round"/>
<line x1="401.0" y1="292.0" x2="396.1" y2="292.0" stroke="#c8cdd2" stroke-width="0.9" stroke-linecap="round"/>
<line x1="396.1" y1="292.0" x2="392.6" y2="293.6" stroke="#c8cdd2" stroke-width="0.9" stroke-linecap="round"/>
<line x1="401.0" y1="295.3" x2="396.1" y2="295.3" stroke="#c8cdd2" stroke-width="0.9" stroke-linecap="round"/>
<line x1="396.1" y1="295.3" x2="392.6" y2="293.6" stroke="#c8cdd2" stroke-width="0.9" stroke-linecap="round"/>
<line x1="401.0" y1="301.9" x2="386.4" y2="301.9" stroke="#c8cdd2" stroke-width="0.9" stroke-linecap="round"/>
<line x1="386.4" y1="301.9" x2="382.9" y2="303.6" stroke="#c8cdd2" stroke-width="0.9" stroke-linecap="round"/>
<line x1="401.0" y1="305.2" x2="386.4" y2="305.2" stroke="#c8cdd2" stroke-width="0.9" stroke-linecap="round"/>
<line x1="386.4" y1="305.2" x2="382.9" y2="303.6" stroke="#c8cdd2" stroke-width="0.9" stroke-linecap="round"/>
<line x1="401.0" y1="308.5" x2="390.3" y2="308.5" stroke="#9fb2c0" stroke-width="0.9" stroke-linecap="round"/>
<line x1="390.3" y1="308.5" x2="386.8" y2="310.2" stroke="#9fb2c0" stroke-width="0.9" stroke-linecap="round"/>
<line x1="401.0" y1="311.8" x2="390.3" y2="311.8" stroke="#c8cdd2" stroke-width="0.9" stroke-linecap="round"/>
<line x1="390.3" y1="311.8" x2="386.8" y2="310.2" stroke="#c8cdd2" stroke-width="0.9" stroke-linecap="round"/>
<line x1="401.0" y1="315.1" x2="388.7" y2="315.1" stroke="#c8cdd2" stroke-width="0.9" stroke-linecap="round"/>
<line x1="388.7" y1="315.1" x2="385.2" y2="316.8" stroke="#c8cdd2" stroke-width="0.9" stroke-linecap="round"/>
<line x1="401.0" y1="318.4" x2="388.7" y2="318.4" stroke="#c8cdd2" stroke-width="0.9" stroke-linecap="round"/>
<line x1="388.7" y1="318.4" x2="385.2" y2="316.8" stroke="#c8cdd2" stroke-width="0.9" stroke-linecap="round"/>
<line x1="401.0" y1="321.7" x2="384.5" y2="321.7" stroke="#c8cdd2" stroke-width="0.9" stroke-linecap="round"/>
<line x1="384.5" y1="321.7" x2="381.0" y2="323.4" stroke="#c8cdd2" stroke-width="0.9" stroke-linecap="round"/>
<line x1="401.0" y1="325.0" x2="384.5" y2="325.0" stroke="#c8cdd2" stroke-width="0.9" stroke-linecap="round"/>
<line x1="384.5" y1="325.0" x2="381.0" y2="323.4" stroke="#c8cdd2" stroke-width="0.9" stroke-linecap="round"/>
<line x1="401.0" y1="328.3" x2="386.3" y2="328.3" stroke="#c8cdd2" stroke-width="0.9" stroke-linecap="round"/>
<line x1="386.3" y1="328.3" x2="382.8" y2="330.0" stroke="#c8cdd2" stroke-width="0.9" stroke-linecap="round"/>
<line x1="401.0" y1="331.6" x2="386.3" y2="331.6" stroke="#c8cdd2" stroke-width="0.9" stroke-linecap="round"/>
<line x1="386.3" y1="331.6" x2="382.8" y2="330.0" stroke="#c8cdd2" stroke-width="0.9" stroke-linecap="round"/>
<line x1="401.0" y1="334.9" x2="391.3" y2="334.9" stroke="#c8cdd2" stroke-width="0.9" stroke-linecap="round"/>
<line x1="391.3" y1="334.9" x2="387.8" y2="336.6" stroke="#c8cdd2" stroke-width="0.9" stroke-linecap="round"/>
<line x1="401.0" y1="338.2" x2="391.3" y2="338.2" stroke="#c8cdd2" stroke-width="0.9" stroke-linecap="round"/>
<line x1="391.3" y1="338.2" x2="387.8" y2="336.6" stroke="#c8cdd2" stroke-width="0.9" stroke-linecap="round"/>
<line x1="401.0" y1="341.5" x2="384.3" y2="341.5" stroke="#c8cdd2" stroke-width="0.9" stroke-linecap="round"/>
<line x1="384.3" y1="341.5" x2="380.8" y2="343.2" stroke="#c8cdd2" stroke-width="0.9" stroke-linecap="round"/>
<line x1="401.0" y1="344.8" x2="384.3" y2="344.8" stroke="#c8cdd2" stroke-width="0.9" stroke-linecap="round"/>
<line x1="384.3" y1="344.8" x2="380.8" y2="343.2" stroke="#c8cdd2" stroke-width="0.9" stroke-linecap="round"/>
<line x1="401.0" y1="348.1" x2="386.0" y2="348.1" stroke="#c8cdd2" stroke-width="0.9" stroke-linecap="round"/>
<line x1="386.0" y1="348.1" x2="382.5" y2="349.8" stroke="#c8cdd2" stroke-width="0.9" stroke-linecap="round"/>
<line x1="401.0" y1="351.4" x2="386.0" y2="351.4" stroke="#c8cdd2" stroke-width="0.9" stroke-linecap="round"/>
<line x1="386.0" y1="351.4" x2="382.5" y2="349.8" stroke="#c8cdd2" stroke-width="0.9" stroke-linecap="round"/>
<line x1="401.0" y1="354.7" x2="383.2" y2="354.7" stroke="#c8cdd2" stroke-width="0.9" stroke-linecap="round"/>
<line x1="383.2" y1="354.7" x2="379.7" y2="356.4" stroke="#c8cdd2" stroke-width="0.9" stroke-linecap="round"/>
<line x1="401.0" y1="358.0" x2="383.2" y2="358.0" stroke="#9fb2c0" stroke-width="0.9" stroke-linecap="round"/>
<line x1="383.2" y1="358.0" x2="379.7" y2="356.4" stroke="#9fb2c0" stroke-width="0.9" stroke-linecap="round"/>
<line x1="401.0" y1="361.3" x2="389.5" y2="361.3" stroke="#c8cdd2" stroke-width="0.9" stroke-linecap="round"/>
<line x1="389.5" y1="361.3" x2="386.0" y2="363.0" stroke="#c8cdd2" stroke-width="0.9" stroke-linecap="round"/>
<line x1="401.0" y1="364.6" x2="389.5" y2="364.6" stroke="#c8cdd2" stroke-width="0.9" stroke-linecap="round"/>
<line x1="389.5" y1="364.6" x2="386.0" y2="363.0" stroke="#c8cdd2" stroke-width="0.9" stroke-linecap="round"/>
<line x1="401.0" y1="367.9" x2="385.4" y2="367.9" stroke="#c8cdd2" stroke-width="0.9" stroke-linecap="round"/>
<line x1="385.4" y1="367.9" x2="381.9" y2="369.6" stroke="#c8cdd2" stroke-width="0.9" stroke-linecap="round"/>
<line x1="401.0" y1="371.2" x2="385.4" y2="371.2" stroke="#c8cdd2" stroke-width="0.9" stroke-linecap="round"/>
<line x1="385.4" y1="371.2" x2="381.9" y2="369.6" stroke="#c8cdd2" stroke-width="0.9" stroke-linecap="round"/>
<line x1="401.0" y1="374.5" x2="388.8" y2="374.5" stroke="#9fb2c0" stroke-width="0.9" stroke-linecap="round"/>
<line x1="388.8" y1="374.5" x2="385.3" y2="376.2" stroke="#9fb2c0" stroke-width="0.9" stroke-linecap="round"/>
<line x1="401.0" y1="377.8" x2="388.8" y2="377.8" stroke="#c8cdd2" stroke-width="0.9" stroke-linecap="round"/>
<line x1="388.8" y1="377.8" x2="385.3" y2="376.2" stroke="#c8cdd2" stroke-width="0.9" stroke-linecap="round"/>
<line x1="401.0" y1="381.1" x2="398.5" y2="381.1" stroke="#9fb2c0" stroke-width="0.9" stroke-linecap="round"/>
<line x1="398.5" y1="381.1" x2="395.0" y2="382.8" stroke="#9fb2c0" stroke-width="0.9" stroke-linecap="round"/>
<line x1="401.0" y1="384.4" x2="398.5" y2="384.4" stroke="#c8cdd2" stroke-width="0.9" stroke-linecap="round"/>
<line x1="398.5" y1="384.4" x2="395.0" y2="382.8" stroke="#c8cdd2" stroke-width="0.9" stroke-linecap="round"/>
<line x1="401.0" y1="387.7" x2="395.9" y2="387.7" stroke="#c8cdd2" stroke-width="0.9" stroke-linecap="round"/>
<line x1="395.9" y1="387.7" x2="392.4" y2="389.4" stroke="#c8cdd2" stroke-width="0.9" stroke-linecap="round"/>
<line x1="401.0" y1="391.0" x2="395.9" y2="391.0" stroke="#c8cdd2" stroke-width="0.9" stroke-linecap="round"/>
<line x1="395.9" y1="391.0" x2="392.4" y2="389.4" stroke="#c8cdd2" stroke-width="0.9" stroke-linecap="round"/>
<line x1="401.0" y1="394.3" x2="395.3" y2="394.3" stroke="#c8cdd2" stroke-width="0.9" stroke-linecap="round"/>
<line x1="395.3" y1="394.3" x2="391.8" y2="396.0" stroke="#c8cdd2" stroke-width="0.9" stroke-linecap="round"/>
<line x1="401.0" y1="397.6" x2="395.3" y2="397.6" stroke="#c8cdd2" stroke-width="0.9" stroke-linecap="round"/>
<line x1="395.3" y1="397.6" x2="391.8" y2="396.0" stroke="#c8cdd2" stroke-width="0.9" stroke-linecap="round"/>
<line x1="401.0" y1="404.2" x2="393.1" y2="404.2" stroke="#c8cdd2" stroke-width="0.9" stroke-linecap="round"/>
<line x1="393.1" y1="404.2" x2="389.6" y2="405.9" stroke="#c8cdd2" stroke-width="0.9" stroke-linecap="round"/>
<line x1="401.0" y1="407.5" x2="393.1" y2="407.5" stroke="#c8cdd2" stroke-width="0.9" stroke-linecap="round"/>
<line x1="393.1" y1="407.5" x2="389.6" y2="405.9" stroke="#c8cdd2" stroke-width="0.9" stroke-linecap="round"/>
<line x1="401.0" y1="410.8" x2="394.0" y2="410.8" stroke="#c8cdd2" stroke-width="0.9" stroke-linecap="round"/>
<line x1="394.0" y1="410.8" x2="390.5" y2="412.5" stroke="#c8cdd2" stroke-width="0.9" stroke-linecap="round"/>
<line x1="401.0" y1="414.1" x2="394.0" y2="414.1" stroke="#c8cdd2" stroke-width="0.9" stroke-linecap="round"/>
<line x1="394.0" y1="414.1" x2="390.5" y2="412.5" stroke="#c8cdd2" stroke-width="0.9" stroke-linecap="round"/>
<line x1="401.0" y1="417.4" x2="389.6" y2="417.4" stroke="#c8cdd2" stroke-width="0.9" stroke-linecap="round"/>
<line x1="389.6" y1="417.4" x2="386.1" y2="419.1" stroke="#c8cdd2" stroke-width="0.9" stroke-linecap="round"/>
<line x1="401.0" y1="420.7" x2="389.6" y2="420.7" stroke="#c8cdd2" stroke-width="0.9" stroke-linecap="round"/>
<line x1="389.6" y1="420.7" x2="386.1" y2="419.1" stroke="#c8cdd2" stroke-width="0.9" stroke-linecap="round"/>
<line x1="401.0" y1="427.3" x2="387.6" y2="427.3" stroke="#c8cdd2" stroke-width="0.9" stroke-linecap="round"/>
<line x1="387.6" y1="427.3" x2="384.1" y2="429.0" stroke="#c8cdd2" stroke-width="0.9" stroke-linecap="round"/>
<line x1="401.0" y1="430.6" x2="387.6" y2="430.6" stroke="#c8cdd2" stroke-width="0.9" stroke-linecap="round"/>
<line x1="387.6" y1="430.6" x2="384.1" y2="429.0" stroke="#c8cdd2" stroke-width="0.9" stroke-linecap="round"/>
<line x1="401.0" y1="298.6" x2="380.4" y2="298.6" stroke="#9fb2c0" stroke-width="0.9" stroke-linecap="round"/>
<line x1="380.4" y1="298.6" x2="376.9" y2="301.1" stroke="#9fb2c0" stroke-width="0.9" stroke-linecap="round"/>
<line x1="382.9" y1="303.6" x2="380.4" y2="303.6" stroke="#c8cdd2" stroke-width="0.9" stroke-linecap="round"/>
<line x1="380.4" y1="303.6" x2="376.9" y2="301.1" stroke="#c8cdd2" stroke-width="0.9" stroke-linecap="round"/>
<line x1="386.8" y1="310.2" x2="382.3" y2="310.2" stroke="#c8cdd2" stroke-width="0.9" stroke-linecap="round"/>
<line x1="382.3" y1="310.2" x2="378.8" y2="313.5" stroke="#c8cdd2" stroke-width="0.9" stroke-linecap="round"/>
<line x1="385.2" y1="316.8" x2="382.3" y2="316.8" stroke="#c8cdd2" stroke-width="0.9" stroke-linecap="round"/>
<line x1="382.3" y1="316.8" x2="378.8" y2="313.5" stroke="#c8cdd2" stroke-width="0.9" stroke-linecap="round"/>
<line x1="381.0" y1="323.4" x2="378.5" y2="323.4" stroke="#c8cdd2" stroke-width="0.9" stroke-linecap="round"/>
<line x1="378.5" y1="323.4" x2="375.0" y2="326.7" stroke="#c8cdd2" stroke-width="0.9" stroke-linecap="round"/>
<line x1="382.8" y1="330.0" x2="378.5" y2="330.0" stroke="#c8cdd2" stroke-width="0.9" stroke-linecap="round"/>
<line x1="378.5" y1="330.0" x2="375.0" y2="326.7" stroke="#c8cdd2" stroke-width="0.9" stroke-linecap="round"/>
<line x1="387.8" y1="336.6" x2="378.3" y2="336.6" stroke="#c8cdd2" stroke-width="0.9" stroke-linecap="round"/>
<line x1="378.3" y1="336.6" x2="374.8" y2="339.9" stroke="#c8cdd2" stroke-width="0.9" stroke-linecap="round"/>
<line x1="380.8" y1="343.2" x2="378.3" y2="343.2" stroke="#c8cdd2" stroke-width="0.9" stroke-linecap="round"/>
<line x1="378.3" y1="343.2" x2="374.8" y2="339.9" stroke="#c8cdd2" stroke-width="0.9" stroke-linecap="round"/>
<line x1="382.5" y1="349.8" x2="376.6" y2="349.8" stroke="#c8cdd2" stroke-width="0.9" stroke-linecap="round"/>
<line x1="376.6" y1="349.8" x2="373.1" y2="353.1" stroke="#c8cdd2" stroke-width="0.9" stroke-linecap="round"/>
<line x1="379.7" y1="356.4" x2="376.6" y2="356.4" stroke="#9fb2c0" stroke-width="0.9" stroke-linecap="round"/>
<line x1="376.6" y1="356.4" x2="373.1" y2="353.1" stroke="#9fb2c0" stroke-width="0.9" stroke-linecap="round"/>
<line x1="386.0" y1="363.0" x2="378.4" y2="363.0" stroke="#c8cdd2" stroke-width="0.9" stroke-linecap="round"/>
<line x1="378.4" y1="363.0" x2="374.9" y2="366.3" stroke="#c8cdd2" stroke-width="0.9" stroke-linecap="round"/>
<line x1="381.9" y1="369.6" x2="378.4" y2="369.6" stroke="#c8cdd2" stroke-width="0.9" stroke-linecap="round"/>
<line x1="378.4" y1="369.6" x2="374.9" y2="366.3" stroke="#c8cdd2" stroke-width="0.9" stroke-linecap="round"/>
<line x1="385.3" y1="376.2" x2="382.8" y2="376.2" stroke="#c8cdd2" stroke-width="0.9" stroke-linecap="round"/>
<line x1="382.8" y1="376.2" x2="379.3" y2="379.5" stroke="#c8cdd2" stroke-width="0.9" stroke-linecap="round"/>
<line x1="395.0" y1="382.8" x2="382.8" y2="382.8" stroke="#9fb2c0" stroke-width="0.9" stroke-linecap="round"/>
<line x1="382.8" y1="382.8" x2="379.3" y2="379.5" stroke="#9fb2c0" stroke-width="0.9" stroke-linecap="round"/>
<line x1="392.4" y1="389.4" x2="388.6" y2="389.4" stroke="#c8cdd2" stroke-width="0.9" stroke-linecap="round"/>
<line x1="388.6" y1="389.4" x2="385.1" y2="392.7" stroke="#c8cdd2" stroke-width="0.9" stroke-linecap="round"/>
<line x1="391.8" y1="396.0" x2="388.6" y2="396.0" stroke="#c8cdd2" stroke-width="0.9" stroke-linecap="round"/>
<line x1="388.6" y1="396.0" x2="385.1" y2="392.7" stroke="#c8cdd2" stroke-width="0.9" stroke-linecap="round"/>
<line x1="401.0" y1="400.9" x2="384.6" y2="400.9" stroke="#c8cdd2" stroke-width="0.9" stroke-linecap="round"/>
<line x1="384.6" y1="400.9" x2="381.1" y2="403.4" stroke="#c8cdd2" stroke-width="0.9" stroke-linecap="round"/>
<line x1="389.6" y1="405.9" x2="384.6" y2="405.9" stroke="#c8cdd2" stroke-width="0.9" stroke-linecap="round"/>
<line x1="384.6" y1="405.9" x2="381.1" y2="403.4" stroke="#c8cdd2" stroke-width="0.9" stroke-linecap="round"/>
<line x1="386.1" y1="419.1" x2="381.5" y2="419.1" stroke="#c8cdd2" stroke-width="0.9" stroke-linecap="round"/>
<line x1="381.5" y1="419.1" x2="378.0" y2="421.5" stroke="#c8cdd2" stroke-width="0.9" stroke-linecap="round"/>
<line x1="401.0" y1="424.0" x2="381.5" y2="424.0" stroke="#c8cdd2" stroke-width="0.9" stroke-linecap="round"/>
<line x1="381.5" y1="424.0" x2="378.0" y2="421.5" stroke="#c8cdd2" stroke-width="0.9" stroke-linecap="round"/>
<line x1="378.0" y1="421.5" x2="375.5" y2="421.5" stroke="#c8cdd2" stroke-width="0.9" stroke-linecap="round"/>
<line x1="375.5" y1="421.5" x2="372.0" y2="425.2" stroke="#c8cdd2" stroke-width="0.9" stroke-linecap="round"/>
<line x1="384.1" y1="429.0" x2="375.5" y2="429.0" stroke="#c8cdd2" stroke-width="0.9" stroke-linecap="round"/>
<line x1="375.5" y1="429.0" x2="372.0" y2="425.2" stroke="#c8cdd2" stroke-width="0.9" stroke-linecap="round"/>
<line x1="392.6" y1="293.6" x2="375.6" y2="293.6" stroke="#c8cdd2" stroke-width="0.9" stroke-linecap="round"/>
<line x1="376.9" y1="301.1" x2="370.9" y2="301.1" stroke="#9fb2c0" stroke-width="0.9" stroke-linecap="round"/>
<line x1="378.8" y1="313.5" x2="364.5" y2="313.5" stroke="#c8cdd2" stroke-width="0.9" stroke-linecap="round"/>
<line x1="375.0" y1="326.7" x2="360.4" y2="326.7" stroke="#c8cdd2" stroke-width="0.9" stroke-linecap="round"/>
<line x1="374.8" y1="339.9" x2="358.7" y2="339.9" stroke="#c8cdd2" stroke-width="0.9" stroke-linecap="round"/>
<line x1="373.1" y1="353.1" x2="358.3" y2="353.1" stroke="#9fb2c0" stroke-width="0.9" stroke-linecap="round"/>
<line x1="374.9" y1="366.3" x2="358.7" y2="366.3" stroke="#c8cdd2" stroke-width="0.9" stroke-linecap="round"/>
<line x1="379.3" y1="379.5" x2="359.0" y2="379.5" stroke="#9fb2c0" stroke-width="0.9" stroke-linecap="round"/>
<line x1="385.1" y1="392.7" x2="377.7" y2="392.7" stroke="#c8cdd2" stroke-width="0.9" stroke-linecap="round"/>
<line x1="381.1" y1="403.4" x2="371.4" y2="403.4" stroke="#c8cdd2" stroke-width="0.9" stroke-linecap="round"/>
<line x1="390.5" y1="412.5" x2="366.0" y2="412.5" stroke="#c8cdd2" stroke-width="0.9" stroke-linecap="round"/>
<line x1="372.0" y1="425.2" x2="366.0" y2="425.2" stroke="#c8cdd2" stroke-width="0.9" stroke-linecap="round"/>
<polyline points="291.20,289.80 295.20,289.80 300.40,292.40 313.50,292.40 317.40,295.70 320.70,297.00 325.30,297.00 327.90,298.30 334.00,298.30" fill="none" stroke="#2e6a8a" stroke-width="3.6" stroke-linejoin="round" stroke-miterlimit="30" stroke-linecap="round"/>
<path fill="#2e6a8a" d="M289.1,289.8a2.15,2.15 0 1,0 4.30,0a2.15,2.15 0 1,0 -4.30,0M293.1,289.8a2.15,2.15 0 1,0 4.30,0a2.15,2.15 0 1,0 -4.30,0M298.2,292.4a2.15,2.15 0 1,0 4.30,0a2.15,2.15 0 1,0 -4.30,0M301.5,292.4a2.15,2.15 0 1,0 4.30,0a2.15,2.15 0 1,0 -4.30,0M304.8,292.4a2.15,2.15 0 1,0 4.30,0a2.15,2.15 0 1,0 -4.30,0M308.1,292.4a2.15,2.15 0 1,0 4.30,0a2.15,2.15 0 1,0 -4.30,0M311.4,292.4a2.15,2.15 0 1,0 4.30,0a2.15,2.15 0 1,0 -4.30,0M315.2,295.7a2.15,2.15 0 1,0 4.30,0a2.15,2.15 0 1,0 -4.30,0M318.6,297.0a2.15,2.15 0 1,0 4.30,0a2.15,2.15 0 1,0 -4.30,0M323.2,297.0a2.15,2.15 0 1,0 4.30,0a2.15,2.15 0 1,0 -4.30,0M325.8,298.3a2.15,2.15 0 1,0 4.30,0a2.15,2.15 0 1,0 -4.30,0M331.9,298.3a2.15,2.15 0 1,0 4.30,0a2.15,2.15 0 1,0 -4.30,0"/>
<polyline points="291.20,308.20 297.80,308.20 302.40,310.80 319.40,310.80 322.00,314.70 326.60,314.70 329.20,316.00 336.00,316.00" fill="none" stroke="#2e6a8a" stroke-width="4" stroke-linejoin="round" stroke-miterlimit="30" stroke-linecap="round"/>
<path fill="#2e6a8a" d="M288.8,308.2a2.35,2.35 0 1,0 4.70,0a2.35,2.35 0 1,0 -4.70,0M292.1,308.2a2.35,2.35 0 1,0 4.70,0a2.35,2.35 0 1,0 -4.70,0M295.4,308.2a2.35,2.35 0 1,0 4.70,0a2.35,2.35 0 1,0 -4.70,0M300.0,310.8a2.35,2.35 0 1,0 4.70,0a2.35,2.35 0 1,0 -4.70,0M303.4,310.8a2.35,2.35 0 1,0 4.70,0a2.35,2.35 0 1,0 -4.70,0M306.8,310.8a2.35,2.35 0 1,0 4.70,0a2.35,2.35 0 1,0 -4.70,0M310.2,310.8a2.35,2.35 0 1,0 4.70,0a2.35,2.35 0 1,0 -4.70,0M313.6,310.8a2.35,2.35 0 1,0 4.70,0a2.35,2.35 0 1,0 -4.70,0M317.0,310.8a2.35,2.35 0 1,0 4.70,0a2.35,2.35 0 1,0 -4.70,0M319.6,314.7a2.35,2.35 0 1,0 4.70,0a2.35,2.35 0 1,0 -4.70,0M324.2,314.7a2.35,2.35 0 1,0 4.70,0a2.35,2.35 0 1,0 -4.70,0M326.8,316.0a2.35,2.35 0 1,0 4.70,0a2.35,2.35 0 1,0 -4.70,0M330.2,316.0a2.35,2.35 0 1,0 4.70,0a2.35,2.35 0 1,0 -4.70,0M333.6,316.0a2.35,2.35 0 1,0 4.70,0a2.35,2.35 0 1,0 -4.70,0"/>
<polyline points="291.20,324.50 327.90,324.50 329.90,326.50 338.00,326.50" fill="none" stroke="#2e6a8a" stroke-width="4.3" stroke-linejoin="round" stroke-miterlimit="30" stroke-linecap="round"/>
<path fill="#2e6a8a" d="M288.7,324.5a2.50,2.50 0 1,0 5.00,0a2.50,2.50 0 1,0 -5.00,0M292.0,324.5a2.50,2.50 0 1,0 5.00,0a2.50,2.50 0 1,0 -5.00,0M295.4,324.5a2.50,2.50 0 1,0 5.00,0a2.50,2.50 0 1,0 -5.00,0M298.7,324.5a2.50,2.50 0 1,0 5.00,0a2.50,2.50 0 1,0 -5.00,0M302.0,324.5a2.50,2.50 0 1,0 5.00,0a2.50,2.50 0 1,0 -5.00,0M305.4,324.5a2.50,2.50 0 1,0 5.00,0a2.50,2.50 0 1,0 -5.00,0M308.7,324.5a2.50,2.50 0 1,0 5.00,0a2.50,2.50 0 1,0 -5.00,0M312.1,324.5a2.50,2.50 0 1,0 5.00,0a2.50,2.50 0 1,0 -5.00,0M315.4,324.5a2.50,2.50 0 1,0 5.00,0a2.50,2.50 0 1,0 -5.00,0M318.7,324.5a2.50,2.50 0 1,0 5.00,0a2.50,2.50 0 1,0 -5.00,0M322.1,324.5a2.50,2.50 0 1,0 5.00,0a2.50,2.50 0 1,0 -5.00,0M325.4,324.5a2.50,2.50 0 1,0 5.00,0a2.50,2.50 0 1,0 -5.00,0M327.4,326.5a2.50,2.50 0 1,0 5.00,0a2.50,2.50 0 1,0 -5.00,0M331.4,326.5a2.50,2.50 0 1,0 5.00,0a2.50,2.50 0 1,0 -5.00,0M335.5,326.5a2.50,2.50 0 1,0 5.00,0a2.50,2.50 0 1,0 -5.00,0"/>
<polyline points="291.00,357.00 312.00,357.00 315.00,360.90 324.40,361.00 327.50,366.00 335.80,366.00 341.00,371.30 349.00,371.30" fill="none" stroke="#2e6a8a" stroke-width="3.5" stroke-linejoin="round" stroke-miterlimit="30" stroke-linecap="round"/>
<path fill="#2e6a8a" d="M288.9,357.0a2.10,2.10 0 1,0 4.20,0a2.10,2.10 0 1,0 -4.20,0M292.4,357.0a2.10,2.10 0 1,0 4.20,0a2.10,2.10 0 1,0 -4.20,0M295.9,357.0a2.10,2.10 0 1,0 4.20,0a2.10,2.10 0 1,0 -4.20,0M299.4,357.0a2.10,2.10 0 1,0 4.20,0a2.10,2.10 0 1,0 -4.20,0M302.9,357.0a2.10,2.10 0 1,0 4.20,0a2.10,2.10 0 1,0 -4.20,0M306.4,357.0a2.10,2.10 0 1,0 4.20,0a2.10,2.10 0 1,0 -4.20,0M309.9,357.0a2.10,2.10 0 1,0 4.20,0a2.10,2.10 0 1,0 -4.20,0M312.9,360.9a2.10,2.10 0 1,0 4.20,0a2.10,2.10 0 1,0 -4.20,0M317.6,360.9a2.10,2.10 0 1,0 4.20,0a2.10,2.10 0 1,0 -4.20,0M322.3,361.0a2.10,2.10 0 1,0 4.20,0a2.10,2.10 0 1,0 -4.20,0M325.4,366.0a2.10,2.10 0 1,0 4.20,0a2.10,2.10 0 1,0 -4.20,0M329.5,366.0a2.10,2.10 0 1,0 4.20,0a2.10,2.10 0 1,0 -4.20,0M333.7,366.0a2.10,2.10 0 1,0 4.20,0a2.10,2.10 0 1,0 -4.20,0M336.3,368.6a2.10,2.10 0 1,0 4.20,0a2.10,2.10 0 1,0 -4.20,0M338.9,371.3a2.10,2.10 0 1,0 4.20,0a2.10,2.10 0 1,0 -4.20,0M342.9,371.3a2.10,2.10 0 1,0 4.20,0a2.10,2.10 0 1,0 -4.20,0M346.9,371.3a2.10,2.10 0 1,0 4.20,0a2.10,2.10 0 1,0 -4.20,0"/>
<polyline points="291.40,380.80 328.50,380.80 344.00,391.00 348.20,397.60 358.00,397.70" fill="none" stroke="#3d7090" stroke-width="1.8" stroke-linejoin="round" stroke-miterlimit="30" stroke-linecap="round"/>
<polyline points="400.80,312.00 372.30,312.00 366.00,313.00" fill="none" stroke="#2e6a8a" stroke-width="3.2" stroke-linejoin="round" stroke-miterlimit="30" stroke-linecap="round"/>
<path fill="#2e6a8a" d="M398.9,312.0a1.95,1.95 0 1,0 3.90,0a1.95,1.95 0 1,0 -3.90,0M395.3,312.0a1.95,1.95 0 1,0 3.90,0a1.95,1.95 0 1,0 -3.90,0M391.7,312.0a1.95,1.95 0 1,0 3.90,0a1.95,1.95 0 1,0 -3.90,0M388.2,312.0a1.95,1.95 0 1,0 3.90,0a1.95,1.95 0 1,0 -3.90,0M384.6,312.0a1.95,1.95 0 1,0 3.90,0a1.95,1.95 0 1,0 -3.90,0M381.0,312.0a1.95,1.95 0 1,0 3.90,0a1.95,1.95 0 1,0 -3.90,0M377.5,312.0a1.95,1.95 0 1,0 3.90,0a1.95,1.95 0 1,0 -3.90,0M373.9,312.0a1.95,1.95 0 1,0 3.90,0a1.95,1.95 0 1,0 -3.90,0M370.4,312.0a1.95,1.95 0 1,0 3.90,0a1.95,1.95 0 1,0 -3.90,0M364.1,313.0a1.95,1.95 0 1,0 3.90,0a1.95,1.95 0 1,0 -3.90,0"/>
<polyline points="400.80,317.40 390.00,318.80 385.00,321.80 380.20,327.60 376.20,337.50 372.30,341.40 366.00,348.00" fill="none" stroke="#2e6a8a" stroke-width="3" stroke-linejoin="round" stroke-miterlimit="30" stroke-linecap="round"/>
<path fill="#2e6a8a" d="M398.9,317.4a1.85,1.85 0 1,0 3.70,0a1.85,1.85 0 1,0 -3.70,0M395.3,317.9a1.85,1.85 0 1,0 3.70,0a1.85,1.85 0 1,0 -3.70,0M391.8,318.3a1.85,1.85 0 1,0 3.70,0a1.85,1.85 0 1,0 -3.70,0M388.1,318.8a1.85,1.85 0 1,0 3.70,0a1.85,1.85 0 1,0 -3.70,0M383.1,321.8a1.85,1.85 0 1,0 3.70,0a1.85,1.85 0 1,0 -3.70,0M380.8,324.7a1.85,1.85 0 1,0 3.70,0a1.85,1.85 0 1,0 -3.70,0M378.3,327.6a1.85,1.85 0 1,0 3.70,0a1.85,1.85 0 1,0 -3.70,0M377.0,330.9a1.85,1.85 0 1,0 3.70,0a1.85,1.85 0 1,0 -3.70,0M375.7,334.2a1.85,1.85 0 1,0 3.70,0a1.85,1.85 0 1,0 -3.70,0M374.3,337.5a1.85,1.85 0 1,0 3.70,0a1.85,1.85 0 1,0 -3.70,0M370.4,341.4a1.85,1.85 0 1,0 3.70,0a1.85,1.85 0 1,0 -3.70,0M367.3,344.7a1.85,1.85 0 1,0 3.70,0a1.85,1.85 0 1,0 -3.70,0M364.1,348.0a1.85,1.85 0 1,0 3.70,0a1.85,1.85 0 1,0 -3.70,0"/>
<polyline points="400.40,370.30 381.90,370.30 376.40,368.20 370.00,372.00" fill="none" stroke="#2e6a8a" stroke-width="2" stroke-linejoin="round" stroke-miterlimit="30" stroke-linecap="round"/>
<path fill="#2e6a8a" d="M399.0,370.3a1.35,1.35 0 1,0 2.70,0a1.35,1.35 0 1,0 -2.70,0M395.3,370.3a1.35,1.35 0 1,0 2.70,0a1.35,1.35 0 1,0 -2.70,0M391.6,370.3a1.35,1.35 0 1,0 2.70,0a1.35,1.35 0 1,0 -2.70,0M387.9,370.3a1.35,1.35 0 1,0 2.70,0a1.35,1.35 0 1,0 -2.70,0M384.2,370.3a1.35,1.35 0 1,0 2.70,0a1.35,1.35 0 1,0 -2.70,0M380.5,370.3a1.35,1.35 0 1,0 2.70,0a1.35,1.35 0 1,0 -2.70,0M375.0,368.2a1.35,1.35 0 1,0 2.70,0a1.35,1.35 0 1,0 -2.70,0M371.8,370.1a1.35,1.35 0 1,0 2.70,0a1.35,1.35 0 1,0 -2.70,0M368.6,372.0a1.35,1.35 0 1,0 2.70,0a1.35,1.35 0 1,0 -2.70,0"/>
<line x1="292" y1="263.4" x2="314.5" y2="263.5" stroke="#2e6b8c" stroke-width="8.61" stroke-linecap="round"/>
<line x1="314.5" y1="263.5" x2="320.4" y2="274.7" stroke="#2e6b8c" stroke-width="8.61" stroke-linecap="round"/>
<line x1="320.4" y1="274.7" x2="329.2" y2="280.5" stroke="#2e6b8c" stroke-width="9.43" stroke-linecap="round"/>
<line x1="329.2" y1="280.5" x2="334.1" y2="289.4" stroke="#2e6b8c" stroke-width="10.25" stroke-linecap="round"/>
<line x1="334.1" y1="289.4" x2="338" y2="297.3" stroke="#2e6b8c" stroke-width="11.07" stroke-linecap="round"/>
<line x1="338" y1="297.3" x2="340" y2="308" stroke="#2e6b8c" stroke-width="12.30" stroke-linecap="round"/>
<line x1="340" y1="308" x2="344" y2="320" stroke="#2e6b8c" stroke-width="13.53" stroke-linecap="round"/>
<line x1="344" y1="320" x2="347.9" y2="329.7" stroke="#2e6b8c" stroke-width="13.53" stroke-linecap="round"/>
<line x1="347.9" y1="329.7" x2="352" y2="345" stroke="#2e6b8c" stroke-width="13.94" stroke-linecap="round"/>
<line x1="352" y1="345" x2="356" y2="360" stroke="#2e6b8c" stroke-width="14.76" stroke-linecap="round"/>
<path fill="#2e6b8c" d="M286.50,263.40a5.50,5.50 0 1,0 11.00,0a5.50,5.50 0 1,0 -11.00,0M294.17,263.43a5.33,5.33 0 1,0 10.67,0a5.33,5.33 0 1,0 -10.67,0M301.83,263.47a5.17,5.17 0 1,0 10.33,0a5.17,5.17 0 1,0 -10.33,0M309.50,263.50a5.00,5.00 0 1,0 10.00,0a5.00,5.00 0 1,0 -10.00,0M312.20,269.10a5.25,5.25 0 1,0 10.50,0a5.25,5.25 0 1,0 -10.50,0M314.90,274.70a5.50,5.50 0 1,0 11.00,0a5.50,5.50 0 1,0 -11.00,0M319.05,277.60a5.75,5.75 0 1,0 11.50,0a5.75,5.75 0 1,0 -11.50,0M323.20,280.50a6.00,6.00 0 1,0 12.00,0a6.00,6.00 0 1,0 -12.00,0M325.40,284.95a6.25,6.25 0 1,0 12.50,0a6.25,6.25 0 1,0 -12.50,0M327.60,289.40a6.50,6.50 0 1,0 13.00,0a6.50,6.50 0 1,0 -13.00,0M331.00,297.30a7.00,7.00 0 1,0 14.00,0a7.00,7.00 0 1,0 -14.00,0M332.00,308.00a8.00,8.00 0 1,0 16.00,0a8.00,8.00 0 1,0 -16.00,0M335.50,320.00a8.50,8.50 0 1,0 17.00,0a8.50,8.50 0 1,0 -17.00,0M339.90,329.70a8.00,8.00 0 1,0 16.00,0a8.00,8.00 0 1,0 -16.00,0M341.45,337.35a8.50,8.50 0 1,0 17.00,0a8.50,8.50 0 1,0 -17.00,0M343.00,345.00a9.00,9.00 0 1,0 18.00,0a9.00,9.00 0 1,0 -18.00,0M345.00,352.50a9.00,9.00 0 1,0 18.00,0a9.00,9.00 0 1,0 -18.00,0M347.00,360.00a9.00,9.00 0 1,0 18.00,0a9.00,9.00 0 1,0 -18.00,0"/>
<line x1="400.8" y1="288.8" x2="381.1" y2="288.8" stroke="#2e6b8c" stroke-width="3.28" stroke-linecap="round"/>
<line x1="381.1" y1="288.8" x2="377.2" y2="291.3" stroke="#2e6b8c" stroke-width="3.69" stroke-linecap="round"/>
<line x1="377.2" y1="291.3" x2="373.3" y2="297.2" stroke="#2e6b8c" stroke-width="5.33" stroke-linecap="round"/>
<line x1="373.3" y1="297.2" x2="370.3" y2="302.1" stroke="#2e6b8c" stroke-width="5.74" stroke-linecap="round"/>
<line x1="370.3" y1="302.1" x2="365.4" y2="304.1" stroke="#2e6b8c" stroke-width="6.15" stroke-linecap="round"/>
<line x1="365.4" y1="304.1" x2="364.5" y2="313.9" stroke="#2e6b8c" stroke-width="6.97" stroke-linecap="round"/>
<line x1="364.5" y1="313.9" x2="362.5" y2="321.8" stroke="#2e6b8c" stroke-width="7.38" stroke-linecap="round"/>
<line x1="362.5" y1="321.8" x2="360.5" y2="325.7" stroke="#2e6b8c" stroke-width="8.61" stroke-linecap="round"/>
<line x1="360.5" y1="325.7" x2="360" y2="345" stroke="#2e6b8c" stroke-width="10.25" stroke-linecap="round"/>
<line x1="360" y1="345" x2="360" y2="360" stroke="#2e6b8c" stroke-width="11.48" stroke-linecap="round"/>
<path fill="#2e6b8c" d="M398.80,288.80a2.00,2.00 0 1,0 4.00,0a2.00,2.00 0 1,0 -4.00,0M395.99,288.80a2.00,2.00 0 1,0 4.00,0a2.00,2.00 0 1,0 -4.00,0M393.17,288.80a2.00,2.00 0 1,0 4.00,0a2.00,2.00 0 1,0 -4.00,0M390.36,288.80a2.00,2.00 0 1,0 4.00,0a2.00,2.00 0 1,0 -4.00,0M387.54,288.80a2.00,2.00 0 1,0 4.00,0a2.00,2.00 0 1,0 -4.00,0M384.73,288.80a2.00,2.00 0 1,0 4.00,0a2.00,2.00 0 1,0 -4.00,0M381.91,288.80a2.00,2.00 0 1,0 4.00,0a2.00,2.00 0 1,0 -4.00,0M379.10,288.80a2.00,2.00 0 1,0 4.00,0a2.00,2.00 0 1,0 -4.00,0M376.90,290.05a2.25,2.25 0 1,0 4.50,0a2.25,2.25 0 1,0 -4.50,0M374.70,291.30a2.50,2.50 0 1,0 5.00,0a2.50,2.50 0 1,0 -5.00,0M372.00,294.25a3.25,3.25 0 1,0 6.50,0a3.25,3.25 0 1,0 -6.50,0M369.30,297.20a4.00,4.00 0 1,0 8.00,0a4.00,4.00 0 1,0 -8.00,0M368.30,299.65a3.50,3.50 0 1,0 7.00,0a3.50,3.50 0 1,0 -7.00,0M367.30,302.10a3.00,3.00 0 1,0 6.00,0a3.00,3.00 0 1,0 -6.00,0M364.10,303.10a3.75,3.75 0 1,0 7.50,0a3.75,3.75 0 1,0 -7.50,0M360.90,304.10a4.50,4.50 0 1,0 9.00,0a4.50,4.50 0 1,0 -9.00,0M360.70,309.00a4.25,4.25 0 1,0 8.50,0a4.25,4.25 0 1,0 -8.50,0M360.50,313.90a4.00,4.00 0 1,0 8.00,0a4.00,4.00 0 1,0 -8.00,0M359.00,317.85a4.50,4.50 0 1,0 9.00,0a4.50,4.50 0 1,0 -9.00,0M357.50,321.80a5.00,5.00 0 1,0 10.00,0a5.00,5.00 0 1,0 -10.00,0M355.00,325.70a5.50,5.50 0 1,0 11.00,0a5.50,5.50 0 1,0 -11.00,0M354.33,332.13a6.00,6.00 0 1,0 12.00,0a6.00,6.00 0 1,0 -12.00,0M353.67,338.57a6.50,6.50 0 1,0 13.00,0a6.50,6.50 0 1,0 -13.00,0M353.00,345.00a7.00,7.00 0 1,0 14.00,0a7.00,7.00 0 1,0 -14.00,0M353.00,352.50a7.00,7.00 0 1,0 14.00,0a7.00,7.00 0 1,0 -14.00,0M353.00,360.00a7.00,7.00 0 1,0 14.00,0a7.00,7.00 0 1,0 -14.00,0"/>
<line x1="400.4" y1="379.5" x2="385.4" y2="379.8" stroke="#2e6b8c" stroke-width="9.02" stroke-linecap="round"/>
<line x1="385.4" y1="379.8" x2="380.1" y2="383.1" stroke="#2e6b8c" stroke-width="8.20" stroke-linecap="round"/>
<line x1="380.1" y1="383.1" x2="377.5" y2="389.7" stroke="#2e6b8c" stroke-width="8.61" stroke-linecap="round"/>
<line x1="377.5" y1="389.7" x2="373.6" y2="397.5" stroke="#2e6b8c" stroke-width="9.02" stroke-linecap="round"/>
<line x1="373.6" y1="397.5" x2="369.7" y2="404.1" stroke="#2e6b8c" stroke-width="9.02" stroke-linecap="round"/>
<line x1="369.7" y1="404.1" x2="367.7" y2="409.3" stroke="#2e6b8c" stroke-width="8.61" stroke-linecap="round"/>
<line x1="367.7" y1="409.3" x2="364" y2="412" stroke="#2e6b8c" stroke-width="7.79" stroke-linecap="round"/>
<path fill="#2e6b8c" d="M394.40,379.50a6.00,6.00 0 1,0 12.00,0a6.00,6.00 0 1,0 -12.00,0M387.40,379.65a5.50,5.50 0 1,0 11.00,0a5.50,5.50 0 1,0 -11.00,0M380.40,379.80a5.00,5.00 0 1,0 10.00,0a5.00,5.00 0 1,0 -10.00,0M375.10,383.10a5.00,5.00 0 1,0 10.00,0a5.00,5.00 0 1,0 -10.00,0M372.00,389.70a5.50,5.50 0 1,0 11.00,0a5.50,5.50 0 1,0 -11.00,0M368.10,397.50a5.50,5.50 0 1,0 11.00,0a5.50,5.50 0 1,0 -11.00,0M364.20,404.10a5.50,5.50 0 1,0 11.00,0a5.50,5.50 0 1,0 -11.00,0M362.70,409.30a5.00,5.00 0 1,0 10.00,0a5.00,5.00 0 1,0 -10.00,0M359.50,412.00a4.50,4.50 0 1,0 9.00,0a4.50,4.50 0 1,0 -9.00,0"/>
<polyline points="368.50,422.60 381.40,421.00 387.80,414.50 400.70,414.50" fill="none" stroke="#2e6a8a" stroke-width="2" stroke-linejoin="round" stroke-miterlimit="30" stroke-linecap="round"/>
<path fill="#2e6a8a" d="M367.1,422.6a1.35,1.35 0 1,0 2.70,0a1.35,1.35 0 1,0 -2.70,0M370.4,422.2a1.35,1.35 0 1,0 2.70,0a1.35,1.35 0 1,0 -2.70,0M373.6,421.8a1.35,1.35 0 1,0 2.70,0a1.35,1.35 0 1,0 -2.70,0M376.8,421.4a1.35,1.35 0 1,0 2.70,0a1.35,1.35 0 1,0 -2.70,0M380.0,421.0a1.35,1.35 0 1,0 2.70,0a1.35,1.35 0 1,0 -2.70,0M383.2,417.8a1.35,1.35 0 1,0 2.70,0a1.35,1.35 0 1,0 -2.70,0M386.4,414.5a1.35,1.35 0 1,0 2.70,0a1.35,1.35 0 1,0 -2.70,0M389.7,414.5a1.35,1.35 0 1,0 2.70,0a1.35,1.35 0 1,0 -2.70,0M392.9,414.5a1.35,1.35 0 1,0 2.70,0a1.35,1.35 0 1,0 -2.70,0M396.1,414.5a1.35,1.35 0 1,0 2.70,0a1.35,1.35 0 1,0 -2.70,0M399.3,414.5a1.35,1.35 0 1,0 2.70,0a1.35,1.35 0 1,0 -2.70,0"/>
<line x1="361.5" y1="390" x2="361.8" y2="410" stroke="#2e6b8c" stroke-width="7.79" stroke-linecap="round"/>
<line x1="361.8" y1="410" x2="361.8" y2="424" stroke="#2e6b8c" stroke-width="9.02" stroke-linecap="round"/>
<path fill="#2e6b8c" d="M357.00,390.00a4.50,4.50 0 1,0 9.00,0a4.50,4.50 0 1,0 -9.00,0M356.93,396.67a4.67,4.67 0 1,0 9.33,0a4.67,4.67 0 1,0 -9.33,0M356.87,403.33a4.83,4.83 0 1,0 9.67,0a4.83,4.83 0 1,0 -9.67,0M356.80,410.00a5.00,5.00 0 1,0 10.00,0a5.00,5.00 0 1,0 -10.00,0M356.30,417.00a5.50,5.50 0 1,0 11.00,0a5.50,5.50 0 1,0 -11.00,0M355.80,424.00a6.00,6.00 0 1,0 12.00,0a6.00,6.00 0 1,0 -12.00,0"/>
<ellipse cx="359" cy="376.3" rx="12" ry="16.9" fill="#0c3a77"/>
<line x1="409.8" y1="268.0" x2="414.9" y2="268.0" stroke="#c8cdd2" stroke-width="0.9" stroke-linecap="round"/>
<line x1="414.9" y1="268.0" x2="418.4" y2="270.5" stroke="#c8cdd2" stroke-width="0.9" stroke-linecap="round"/>
<line x1="409.8" y1="272.9" x2="414.9" y2="272.9" stroke="#c8cdd2" stroke-width="0.9" stroke-linecap="round"/>
<line x1="414.9" y1="272.9" x2="418.4" y2="270.5" stroke="#c8cdd2" stroke-width="0.9" stroke-linecap="round"/>
<line x1="409.8" y1="277.9" x2="421.8" y2="277.9" stroke="#c8cdd2" stroke-width="0.9" stroke-linecap="round"/>
<line x1="421.8" y1="277.9" x2="425.3" y2="280.4" stroke="#c8cdd2" stroke-width="0.9" stroke-linecap="round"/>
<line x1="409.8" y1="282.8" x2="421.8" y2="282.8" stroke="#9fb2c0" stroke-width="0.9" stroke-linecap="round"/>
<line x1="421.8" y1="282.8" x2="425.3" y2="280.4" stroke="#9fb2c0" stroke-width="0.9" stroke-linecap="round"/>
<line x1="409.8" y1="287.8" x2="424.4" y2="287.8" stroke="#c8cdd2" stroke-width="0.9" stroke-linecap="round"/>
<line x1="424.4" y1="287.8" x2="427.9" y2="290.3" stroke="#c8cdd2" stroke-width="0.9" stroke-linecap="round"/>
<line x1="409.8" y1="292.7" x2="424.4" y2="292.7" stroke="#c8cdd2" stroke-width="0.9" stroke-linecap="round"/>
<line x1="424.4" y1="292.7" x2="427.9" y2="290.3" stroke="#c8cdd2" stroke-width="0.9" stroke-linecap="round"/>
<line x1="409.8" y1="297.7" x2="428.9" y2="297.7" stroke="#9fb2c0" stroke-width="0.9" stroke-linecap="round"/>
<line x1="428.9" y1="297.7" x2="432.4" y2="300.2" stroke="#9fb2c0" stroke-width="0.9" stroke-linecap="round"/>
<line x1="409.8" y1="302.6" x2="428.9" y2="302.6" stroke="#c8cdd2" stroke-width="0.9" stroke-linecap="round"/>
<line x1="428.9" y1="302.6" x2="432.4" y2="300.2" stroke="#c8cdd2" stroke-width="0.9" stroke-linecap="round"/>
<line x1="409.8" y1="307.6" x2="431.0" y2="307.6" stroke="#9fb2c0" stroke-width="0.9" stroke-linecap="round"/>
<line x1="431.0" y1="307.6" x2="434.5" y2="310.1" stroke="#9fb2c0" stroke-width="0.9" stroke-linecap="round"/>
<line x1="409.8" y1="312.5" x2="431.0" y2="312.5" stroke="#c8cdd2" stroke-width="0.9" stroke-linecap="round"/>
<line x1="431.0" y1="312.5" x2="434.5" y2="310.1" stroke="#c8cdd2" stroke-width="0.9" stroke-linecap="round"/>
<line x1="409.8" y1="317.5" x2="428.1" y2="317.5" stroke="#9fb2c0" stroke-width="0.9" stroke-linecap="round"/>
<line x1="428.1" y1="317.5" x2="431.6" y2="320.0" stroke="#9fb2c0" stroke-width="0.9" stroke-linecap="round"/>
<line x1="409.8" y1="322.4" x2="428.1" y2="322.4" stroke="#9fb2c0" stroke-width="0.9" stroke-linecap="round"/>
<line x1="428.1" y1="322.4" x2="431.6" y2="320.0" stroke="#9fb2c0" stroke-width="0.9" stroke-linecap="round"/>
<line x1="409.8" y1="327.4" x2="430.3" y2="327.4" stroke="#c8cdd2" stroke-width="0.9" stroke-linecap="round"/>
<line x1="430.3" y1="327.4" x2="433.8" y2="329.9" stroke="#c8cdd2" stroke-width="0.9" stroke-linecap="round"/>
<line x1="409.8" y1="332.3" x2="430.3" y2="332.3" stroke="#c8cdd2" stroke-width="0.9" stroke-linecap="round"/>
<line x1="430.3" y1="332.3" x2="433.8" y2="329.9" stroke="#c8cdd2" stroke-width="0.9" stroke-linecap="round"/>
<line x1="409.8" y1="337.3" x2="431.7" y2="337.3" stroke="#9fb2c0" stroke-width="0.9" stroke-linecap="round"/>
<line x1="431.7" y1="337.3" x2="435.2" y2="339.8" stroke="#9fb2c0" stroke-width="0.9" stroke-linecap="round"/>
<line x1="409.8" y1="342.2" x2="431.7" y2="342.2" stroke="#c8cdd2" stroke-width="0.9" stroke-linecap="round"/>
<line x1="431.7" y1="342.2" x2="435.2" y2="339.8" stroke="#c8cdd2" stroke-width="0.9" stroke-linecap="round"/>
<line x1="409.8" y1="347.2" x2="438.4" y2="347.2" stroke="#c8cdd2" stroke-width="0.9" stroke-linecap="round"/>
<line x1="438.4" y1="347.2" x2="441.9" y2="349.7" stroke="#c8cdd2" stroke-width="0.9" stroke-linecap="round"/>
<line x1="409.8" y1="352.1" x2="438.4" y2="352.1" stroke="#c8cdd2" stroke-width="0.9" stroke-linecap="round"/>
<line x1="438.4" y1="352.1" x2="441.9" y2="349.7" stroke="#c8cdd2" stroke-width="0.9" stroke-linecap="round"/>
<line x1="409.8" y1="362.0" x2="437.7" y2="362.0" stroke="#c8cdd2" stroke-width="0.9" stroke-linecap="round"/>
<line x1="437.7" y1="362.0" x2="441.2" y2="364.5" stroke="#c8cdd2" stroke-width="0.9" stroke-linecap="round"/>
<line x1="409.8" y1="367.0" x2="437.7" y2="367.0" stroke="#c8cdd2" stroke-width="0.9" stroke-linecap="round"/>
<line x1="437.7" y1="367.0" x2="441.2" y2="364.5" stroke="#c8cdd2" stroke-width="0.9" stroke-linecap="round"/>
<line x1="409.8" y1="371.9" x2="434.1" y2="371.9" stroke="#9fb2c0" stroke-width="0.9" stroke-linecap="round"/>
<line x1="434.1" y1="371.9" x2="437.6" y2="374.4" stroke="#9fb2c0" stroke-width="0.9" stroke-linecap="round"/>
<line x1="409.8" y1="376.9" x2="434.1" y2="376.9" stroke="#c8cdd2" stroke-width="0.9" stroke-linecap="round"/>
<line x1="434.1" y1="376.9" x2="437.6" y2="374.4" stroke="#c8cdd2" stroke-width="0.9" stroke-linecap="round"/>
<line x1="409.8" y1="386.8" x2="437.9" y2="386.8" stroke="#9fb2c0" stroke-width="0.9" stroke-linecap="round"/>
<line x1="437.9" y1="386.8" x2="441.4" y2="389.3" stroke="#9fb2c0" stroke-width="0.9" stroke-linecap="round"/>
<line x1="409.8" y1="391.7" x2="437.9" y2="391.7" stroke="#9fb2c0" stroke-width="0.9" stroke-linecap="round"/>
<line x1="437.9" y1="391.7" x2="441.4" y2="389.3" stroke="#9fb2c0" stroke-width="0.9" stroke-linecap="round"/>
<line x1="409.8" y1="396.7" x2="436.9" y2="396.7" stroke="#c8cdd2" stroke-width="0.9" stroke-linecap="round"/>
<line x1="436.9" y1="396.7" x2="440.4" y2="399.2" stroke="#c8cdd2" stroke-width="0.9" stroke-linecap="round"/>
<line x1="409.8" y1="401.6" x2="436.9" y2="401.6" stroke="#c8cdd2" stroke-width="0.9" stroke-linecap="round"/>
<line x1="436.9" y1="401.6" x2="440.4" y2="399.2" stroke="#c8cdd2" stroke-width="0.9" stroke-linecap="round"/>
<line x1="409.8" y1="411.5" x2="432.7" y2="411.5" stroke="#c8cdd2" stroke-width="0.9" stroke-linecap="round"/>
<line x1="432.7" y1="411.5" x2="436.2" y2="414.0" stroke="#c8cdd2" stroke-width="0.9" stroke-linecap="round"/>
<line x1="409.8" y1="416.5" x2="432.7" y2="416.5" stroke="#c8cdd2" stroke-width="0.9" stroke-linecap="round"/>
<line x1="432.7" y1="416.5" x2="436.2" y2="414.0" stroke="#c8cdd2" stroke-width="0.9" stroke-linecap="round"/>
<line x1="409.8" y1="421.4" x2="433.9" y2="421.4" stroke="#c8cdd2" stroke-width="0.9" stroke-linecap="round"/>
<line x1="433.9" y1="421.4" x2="437.4" y2="423.9" stroke="#c8cdd2" stroke-width="0.9" stroke-linecap="round"/>
<line x1="409.8" y1="426.4" x2="433.9" y2="426.4" stroke="#c8cdd2" stroke-width="0.9" stroke-linecap="round"/>
<line x1="433.9" y1="426.4" x2="437.4" y2="423.9" stroke="#c8cdd2" stroke-width="0.9" stroke-linecap="round"/>
<line x1="441.9" y1="349.7" x2="446.4" y2="349.7" stroke="#c8cdd2" stroke-width="0.9" stroke-linecap="round"/>
<line x1="446.4" y1="349.7" x2="449.9" y2="353.4" stroke="#c8cdd2" stroke-width="0.9" stroke-linecap="round"/>
<line x1="409.8" y1="357.1" x2="446.4" y2="357.1" stroke="#c8cdd2" stroke-width="0.9" stroke-linecap="round"/>
<line x1="446.4" y1="357.1" x2="449.9" y2="353.4" stroke="#c8cdd2" stroke-width="0.9" stroke-linecap="round"/>
<line x1="409.8" y1="381.8" x2="445.4" y2="381.8" stroke="#c8cdd2" stroke-width="0.9" stroke-linecap="round"/>
<line x1="445.4" y1="381.8" x2="448.9" y2="385.6" stroke="#c8cdd2" stroke-width="0.9" stroke-linecap="round"/>
<line x1="441.4" y1="389.3" x2="445.4" y2="389.3" stroke="#9fb2c0" stroke-width="0.9" stroke-linecap="round"/>
<line x1="445.4" y1="389.3" x2="448.9" y2="385.6" stroke="#9fb2c0" stroke-width="0.9" stroke-linecap="round"/>
<line x1="440.4" y1="399.2" x2="459.3" y2="399.2" stroke="#c8cdd2" stroke-width="0.9" stroke-linecap="round"/>
<line x1="459.3" y1="399.2" x2="462.8" y2="402.9" stroke="#c8cdd2" stroke-width="0.9" stroke-linecap="round"/>
<line x1="409.8" y1="406.6" x2="459.3" y2="406.6" stroke="#c8cdd2" stroke-width="0.9" stroke-linecap="round"/>
<line x1="459.3" y1="406.6" x2="462.8" y2="402.9" stroke="#c8cdd2" stroke-width="0.9" stroke-linecap="round"/>
<line x1="418.4" y1="270.5" x2="437.2" y2="270.5" stroke="#c8cdd2" stroke-width="0.9" stroke-linecap="round"/>
<line x1="425.3" y1="280.4" x2="448.4" y2="280.4" stroke="#c8cdd2" stroke-width="0.9" stroke-linecap="round"/>
<line x1="427.9" y1="290.3" x2="454.0" y2="290.3" stroke="#c8cdd2" stroke-width="0.9" stroke-linecap="round"/>
<line x1="432.4" y1="300.2" x2="458.1" y2="300.2" stroke="#9fb2c0" stroke-width="0.9" stroke-linecap="round"/>
<line x1="434.5" y1="310.1" x2="467.7" y2="310.1" stroke="#c8cdd2" stroke-width="0.9" stroke-linecap="round"/>
<line x1="431.6" y1="320.0" x2="469.0" y2="320.0" stroke="#9fb2c0" stroke-width="0.9" stroke-linecap="round"/>
<line x1="433.8" y1="329.9" x2="469.8" y2="329.9" stroke="#c8cdd2" stroke-width="0.9" stroke-linecap="round"/>
<line x1="435.2" y1="339.8" x2="470.6" y2="339.8" stroke="#9fb2c0" stroke-width="0.9" stroke-linecap="round"/>
<line x1="449.9" y1="353.4" x2="476.4" y2="353.4" stroke="#c8cdd2" stroke-width="0.9" stroke-linecap="round"/>
<line x1="441.2" y1="364.5" x2="477.1" y2="364.5" stroke="#c8cdd2" stroke-width="0.9" stroke-linecap="round"/>
<line x1="437.6" y1="374.4" x2="477.8" y2="374.4" stroke="#c8cdd2" stroke-width="0.9" stroke-linecap="round"/>
<line x1="448.9" y1="385.6" x2="478.5" y2="385.6" stroke="#c8cdd2" stroke-width="0.9" stroke-linecap="round"/>
<line x1="462.8" y1="402.9" x2="477.0" y2="402.9" stroke="#c8cdd2" stroke-width="0.9" stroke-linecap="round"/>
<line x1="436.2" y1="414.0" x2="477.0" y2="414.0" stroke="#c8cdd2" stroke-width="0.9" stroke-linecap="round"/>
<line x1="437.4" y1="423.9" x2="477.0" y2="423.9" stroke="#c8cdd2" stroke-width="0.9" stroke-linecap="round"/>
<line x1="520.5" y1="275.9" x2="514.7" y2="275.9" stroke="#c8cdd2" stroke-width="0.9" stroke-linecap="round"/>
<line x1="514.7" y1="275.9" x2="511.2" y2="278.4" stroke="#c8cdd2" stroke-width="0.9" stroke-linecap="round"/>
<line x1="520.5" y1="280.9" x2="514.7" y2="280.9" stroke="#c8cdd2" stroke-width="0.9" stroke-linecap="round"/>
<line x1="514.7" y1="280.9" x2="511.2" y2="278.4" stroke="#c8cdd2" stroke-width="0.9" stroke-linecap="round"/>
<line x1="520.5" y1="285.8" x2="514.6" y2="285.8" stroke="#c8cdd2" stroke-width="0.9" stroke-linecap="round"/>
<line x1="514.6" y1="285.8" x2="511.1" y2="288.3" stroke="#c8cdd2" stroke-width="0.9" stroke-linecap="round"/>
<line x1="520.5" y1="290.8" x2="514.6" y2="290.8" stroke="#c8cdd2" stroke-width="0.9" stroke-linecap="round"/>
<line x1="514.6" y1="290.8" x2="511.1" y2="288.3" stroke="#c8cdd2" stroke-width="0.9" stroke-linecap="round"/>
<line x1="520.5" y1="295.7" x2="512.1" y2="295.7" stroke="#c8cdd2" stroke-width="0.9" stroke-linecap="round"/>
<line x1="512.1" y1="295.7" x2="508.6" y2="298.2" stroke="#c8cdd2" stroke-width="0.9" stroke-linecap="round"/>
<line x1="520.5" y1="300.7" x2="512.1" y2="300.7" stroke="#9fb2c0" stroke-width="0.9" stroke-linecap="round"/>
<line x1="512.1" y1="300.7" x2="508.6" y2="298.2" stroke="#9fb2c0" stroke-width="0.9" stroke-linecap="round"/>
<line x1="520.5" y1="305.6" x2="508.8" y2="305.6" stroke="#c8cdd2" stroke-width="0.9" stroke-linecap="round"/>
<line x1="508.8" y1="305.6" x2="505.3" y2="308.1" stroke="#c8cdd2" stroke-width="0.9" stroke-linecap="round"/>
<line x1="520.5" y1="310.6" x2="508.8" y2="310.6" stroke="#c8cdd2" stroke-width="0.9" stroke-linecap="round"/>
<line x1="508.8" y1="310.6" x2="505.3" y2="308.1" stroke="#c8cdd2" stroke-width="0.9" stroke-linecap="round"/>
<line x1="520.5" y1="315.5" x2="509.9" y2="315.5" stroke="#c8cdd2" stroke-width="0.9" stroke-linecap="round"/>
<line x1="509.9" y1="315.5" x2="506.4" y2="318.0" stroke="#c8cdd2" stroke-width="0.9" stroke-linecap="round"/>
<line x1="520.5" y1="320.5" x2="509.9" y2="320.5" stroke="#c8cdd2" stroke-width="0.9" stroke-linecap="round"/>
<line x1="509.9" y1="320.5" x2="506.4" y2="318.0" stroke="#c8cdd2" stroke-width="0.9" stroke-linecap="round"/>
<line x1="520.5" y1="325.4" x2="507.2" y2="325.4" stroke="#c8cdd2" stroke-width="0.9" stroke-linecap="round"/>
<line x1="507.2" y1="325.4" x2="503.7" y2="327.9" stroke="#c8cdd2" stroke-width="0.9" stroke-linecap="round"/>
<line x1="520.5" y1="330.4" x2="507.2" y2="330.4" stroke="#c8cdd2" stroke-width="0.9" stroke-linecap="round"/>
<line x1="507.2" y1="330.4" x2="503.7" y2="327.9" stroke="#c8cdd2" stroke-width="0.9" stroke-linecap="round"/>
<line x1="520.5" y1="335.3" x2="508.7" y2="335.3" stroke="#c8cdd2" stroke-width="0.9" stroke-linecap="round"/>
<line x1="508.7" y1="335.3" x2="505.2" y2="337.8" stroke="#c8cdd2" stroke-width="0.9" stroke-linecap="round"/>
<line x1="520.5" y1="340.3" x2="508.7" y2="340.3" stroke="#9fb2c0" stroke-width="0.9" stroke-linecap="round"/>
<line x1="508.7" y1="340.3" x2="505.2" y2="337.8" stroke="#9fb2c0" stroke-width="0.9" stroke-linecap="round"/>
<line x1="520.5" y1="345.2" x2="507.4" y2="345.2" stroke="#c8cdd2" stroke-width="0.9" stroke-linecap="round"/>
<line x1="507.4" y1="345.2" x2="503.9" y2="347.7" stroke="#c8cdd2" stroke-width="0.9" stroke-linecap="round"/>
<line x1="520.5" y1="350.2" x2="507.4" y2="350.2" stroke="#c8cdd2" stroke-width="0.9" stroke-linecap="round"/>
<line x1="507.4" y1="350.2" x2="503.9" y2="347.7" stroke="#c8cdd2" stroke-width="0.9" stroke-linecap="round"/>
<line x1="520.5" y1="355.1" x2="510.2" y2="355.1" stroke="#c8cdd2" stroke-width="0.9" stroke-linecap="round"/>
<line x1="510.2" y1="355.1" x2="506.7" y2="357.6" stroke="#c8cdd2" stroke-width="0.9" stroke-linecap="round"/>
<line x1="520.5" y1="360.1" x2="510.2" y2="360.1" stroke="#c8cdd2" stroke-width="0.9" stroke-linecap="round"/>
<line x1="510.2" y1="360.1" x2="506.7" y2="357.6" stroke="#c8cdd2" stroke-width="0.9" stroke-linecap="round"/>
<line x1="520.5" y1="370.0" x2="510.5" y2="370.0" stroke="#c8cdd2" stroke-width="0.9" stroke-linecap="round"/>
<line x1="510.5" y1="370.0" x2="507.0" y2="372.5" stroke="#c8cdd2" stroke-width="0.9" stroke-linecap="round"/>
<line x1="520.5" y1="374.9" x2="510.5" y2="374.9" stroke="#9fb2c0" stroke-width="0.9" stroke-linecap="round"/>
<line x1="510.5" y1="374.9" x2="507.0" y2="372.5" stroke="#9fb2c0" stroke-width="0.9" stroke-linecap="round"/>
<line x1="520.5" y1="379.9" x2="507.5" y2="379.9" stroke="#c8cdd2" stroke-width="0.9" stroke-linecap="round"/>
<line x1="507.5" y1="379.9" x2="504.0" y2="382.4" stroke="#c8cdd2" stroke-width="0.9" stroke-linecap="round"/>
<line x1="520.5" y1="384.8" x2="507.5" y2="384.8" stroke="#c8cdd2" stroke-width="0.9" stroke-linecap="round"/>
<line x1="507.5" y1="384.8" x2="504.0" y2="382.4" stroke="#c8cdd2" stroke-width="0.9" stroke-linecap="round"/>
<line x1="520.5" y1="389.8" x2="507.6" y2="389.8" stroke="#c8cdd2" stroke-width="0.9" stroke-linecap="round"/>
<line x1="507.6" y1="389.8" x2="504.1" y2="392.3" stroke="#c8cdd2" stroke-width="0.9" stroke-linecap="round"/>
<line x1="520.5" y1="394.7" x2="507.6" y2="394.7" stroke="#c8cdd2" stroke-width="0.9" stroke-linecap="round"/>
<line x1="507.6" y1="394.7" x2="504.1" y2="392.3" stroke="#c8cdd2" stroke-width="0.9" stroke-linecap="round"/>
<line x1="520.5" y1="399.7" x2="508.5" y2="399.7" stroke="#c8cdd2" stroke-width="0.9" stroke-linecap="round"/>
<line x1="508.5" y1="399.7" x2="505.0" y2="402.2" stroke="#c8cdd2" stroke-width="0.9" stroke-linecap="round"/>
<line x1="520.5" y1="404.6" x2="508.5" y2="404.6" stroke="#c8cdd2" stroke-width="0.9" stroke-linecap="round"/>
<line x1="508.5" y1="404.6" x2="505.0" y2="402.2" stroke="#c8cdd2" stroke-width="0.9" stroke-linecap="round"/>
<line x1="520.5" y1="409.6" x2="506.8" y2="409.6" stroke="#c8cdd2" stroke-width="0.9" stroke-linecap="round"/>
<line x1="506.8" y1="409.6" x2="503.3" y2="412.1" stroke="#c8cdd2" stroke-width="0.9" stroke-linecap="round"/>
<line x1="520.5" y1="414.5" x2="506.8" y2="414.5" stroke="#c8cdd2" stroke-width="0.9" stroke-linecap="round"/>
<line x1="506.8" y1="414.5" x2="503.3" y2="412.1" stroke="#c8cdd2" stroke-width="0.9" stroke-linecap="round"/>
<line x1="520.5" y1="419.5" x2="508.3" y2="419.5" stroke="#c8cdd2" stroke-width="0.9" stroke-linecap="round"/>
<line x1="508.3" y1="419.5" x2="504.8" y2="422.0" stroke="#c8cdd2" stroke-width="0.9" stroke-linecap="round"/>
<line x1="520.5" y1="424.4" x2="508.3" y2="424.4" stroke="#c8cdd2" stroke-width="0.9" stroke-linecap="round"/>
<line x1="508.3" y1="424.4" x2="504.8" y2="422.0" stroke="#c8cdd2" stroke-width="0.9" stroke-linecap="round"/>
<line x1="506.7" y1="357.6" x2="504.2" y2="357.6" stroke="#c8cdd2" stroke-width="0.9" stroke-linecap="round"/>
<line x1="504.2" y1="357.6" x2="500.7" y2="361.3" stroke="#c8cdd2" stroke-width="0.9" stroke-linecap="round"/>
<line x1="520.5" y1="365.0" x2="504.2" y2="365.0" stroke="#c8cdd2" stroke-width="0.9" stroke-linecap="round"/>
<line x1="504.2" y1="365.0" x2="500.7" y2="361.3" stroke="#c8cdd2" stroke-width="0.9" stroke-linecap="round"/>
<line x1="504.8" y1="422.0" x2="496.0" y2="422.0" stroke="#c8cdd2" stroke-width="0.9" stroke-linecap="round"/>
<line x1="496.0" y1="422.0" x2="492.5" y2="425.7" stroke="#c8cdd2" stroke-width="0.9" stroke-linecap="round"/>
<line x1="520.5" y1="429.4" x2="496.0" y2="429.4" stroke="#c8cdd2" stroke-width="0.9" stroke-linecap="round"/>
<line x1="496.0" y1="429.4" x2="492.5" y2="425.7" stroke="#c8cdd2" stroke-width="0.9" stroke-linecap="round"/>
<line x1="520.5" y1="271.0" x2="504.2" y2="271.0" stroke="#9fb2c0" stroke-width="0.9" stroke-linecap="round"/>
<line x1="511.2" y1="278.4" x2="502.4" y2="278.4" stroke="#c8cdd2" stroke-width="0.9" stroke-linecap="round"/>
<line x1="511.1" y1="288.3" x2="496.8" y2="288.3" stroke="#c8cdd2" stroke-width="0.9" stroke-linecap="round"/>
<line x1="508.6" y1="298.2" x2="491.3" y2="298.2" stroke="#9fb2c0" stroke-width="0.9" stroke-linecap="round"/>
<line x1="505.3" y1="308.1" x2="489.5" y2="308.1" stroke="#c8cdd2" stroke-width="0.9" stroke-linecap="round"/>
<line x1="506.4" y1="318.0" x2="487.8" y2="318.0" stroke="#c8cdd2" stroke-width="0.9" stroke-linecap="round"/>
<line x1="503.7" y1="327.9" x2="486.3" y2="327.9" stroke="#c8cdd2" stroke-width="0.9" stroke-linecap="round"/>
<line x1="505.2" y1="337.8" x2="484.7" y2="337.8" stroke="#c8cdd2" stroke-width="0.9" stroke-linecap="round"/>
<line x1="503.9" y1="347.7" x2="483.4" y2="347.7" stroke="#c8cdd2" stroke-width="0.9" stroke-linecap="round"/>
<line x1="500.7" y1="361.3" x2="481.6" y2="361.3" stroke="#c8cdd2" stroke-width="0.9" stroke-linecap="round"/>
<line x1="507.0" y1="372.5" x2="480.2" y2="372.5" stroke="#9fb2c0" stroke-width="0.9" stroke-linecap="round"/>
<line x1="504.0" y1="382.4" x2="478.9" y2="382.4" stroke="#c8cdd2" stroke-width="0.9" stroke-linecap="round"/>
<line x1="504.1" y1="392.3" x2="481.0" y2="392.3" stroke="#c8cdd2" stroke-width="0.9" stroke-linecap="round"/>
<line x1="505.0" y1="402.2" x2="481.0" y2="402.2" stroke="#c8cdd2" stroke-width="0.9" stroke-linecap="round"/>
<line x1="503.3" y1="412.1" x2="481.0" y2="412.1" stroke="#c8cdd2" stroke-width="0.9" stroke-linecap="round"/>
<line x1="492.5" y1="425.7" x2="481.0" y2="425.7" stroke="#c8cdd2" stroke-width="0.9" stroke-linecap="round"/>
<polyline points="409.90,270.70 429.60,270.70 433.50,266.80" fill="none" stroke="#2e6a8a" stroke-width="2" stroke-linejoin="round" stroke-miterlimit="30" stroke-linecap="round"/>
<path fill="#2e6a8a" d="M408.5,270.7a1.35,1.35 0 1,0 2.70,0a1.35,1.35 0 1,0 -2.70,0M411.8,270.7a1.35,1.35 0 1,0 2.70,0a1.35,1.35 0 1,0 -2.70,0M415.1,270.7a1.35,1.35 0 1,0 2.70,0a1.35,1.35 0 1,0 -2.70,0M418.4,270.7a1.35,1.35 0 1,0 2.70,0a1.35,1.35 0 1,0 -2.70,0M421.7,270.7a1.35,1.35 0 1,0 2.70,0a1.35,1.35 0 1,0 -2.70,0M425.0,270.7a1.35,1.35 0 1,0 2.70,0a1.35,1.35 0 1,0 -2.70,0M428.2,270.7a1.35,1.35 0 1,0 2.70,0a1.35,1.35 0 1,0 -2.70,0M432.1,266.8a1.35,1.35 0 1,0 2.70,0a1.35,1.35 0 1,0 -2.70,0"/>
<polyline points="409.90,285.50 432.50,285.50 435.50,288.40 441.40,288.40 445.30,281.60" fill="none" stroke="#2e6a8a" stroke-width="2.2" stroke-linejoin="round" stroke-miterlimit="30" stroke-linecap="round"/>
<path fill="#2e6a8a" d="M408.4,285.5a1.45,1.45 0 1,0 2.90,0a1.45,1.45 0 1,0 -2.90,0M411.7,285.5a1.45,1.45 0 1,0 2.90,0a1.45,1.45 0 1,0 -2.90,0M414.9,285.5a1.45,1.45 0 1,0 2.90,0a1.45,1.45 0 1,0 -2.90,0M418.1,285.5a1.45,1.45 0 1,0 2.90,0a1.45,1.45 0 1,0 -2.90,0M421.4,285.5a1.45,1.45 0 1,0 2.90,0a1.45,1.45 0 1,0 -2.90,0M424.6,285.5a1.45,1.45 0 1,0 2.90,0a1.45,1.45 0 1,0 -2.90,0M427.8,285.5a1.45,1.45 0 1,0 2.90,0a1.45,1.45 0 1,0 -2.90,0M431.1,285.5a1.45,1.45 0 1,0 2.90,0a1.45,1.45 0 1,0 -2.90,0M434.1,288.4a1.45,1.45 0 1,0 2.90,0a1.45,1.45 0 1,0 -2.90,0M439.9,288.4a1.45,1.45 0 1,0 2.90,0a1.45,1.45 0 1,0 -2.90,0M441.9,285.0a1.45,1.45 0 1,0 2.90,0a1.45,1.45 0 1,0 -2.90,0M443.9,281.6a1.45,1.45 0 1,0 2.90,0a1.45,1.45 0 1,0 -2.90,0"/>
<polyline points="409.90,307.10 452.00,307.10 458.00,305.20" fill="none" stroke="#6f8fa5" stroke-width="1.5" stroke-linejoin="round" stroke-miterlimit="30" stroke-linecap="round"/>
<polyline points="409.90,335.70 415.90,338.30 449.80,338.30 453.10,344.80 456.40,344.80 462.90,367.80 465.10,387.50 470.00,387.50" fill="none" stroke="#2e6a8a" stroke-width="2.2" stroke-linejoin="round" stroke-miterlimit="30" stroke-linecap="round"/>
<path fill="#2e6a8a" d="M408.4,335.7a1.45,1.45 0 1,0 2.90,0a1.45,1.45 0 1,0 -2.90,0M411.4,337.0a1.45,1.45 0 1,0 2.90,0a1.45,1.45 0 1,0 -2.90,0M414.4,338.3a1.45,1.45 0 1,0 2.90,0a1.45,1.45 0 1,0 -2.90,0M417.8,338.3a1.45,1.45 0 1,0 2.90,0a1.45,1.45 0 1,0 -2.90,0M421.2,338.3a1.45,1.45 0 1,0 2.90,0a1.45,1.45 0 1,0 -2.90,0M424.6,338.3a1.45,1.45 0 1,0 2.90,0a1.45,1.45 0 1,0 -2.90,0M428.0,338.3a1.45,1.45 0 1,0 2.90,0a1.45,1.45 0 1,0 -2.90,0M431.4,338.3a1.45,1.45 0 1,0 2.90,0a1.45,1.45 0 1,0 -2.90,0M434.8,338.3a1.45,1.45 0 1,0 2.90,0a1.45,1.45 0 1,0 -2.90,0M438.2,338.3a1.45,1.45 0 1,0 2.90,0a1.45,1.45 0 1,0 -2.90,0M441.6,338.3a1.45,1.45 0 1,0 2.90,0a1.45,1.45 0 1,0 -2.90,0M445.0,338.3a1.45,1.45 0 1,0 2.90,0a1.45,1.45 0 1,0 -2.90,0M448.4,338.3a1.45,1.45 0 1,0 2.90,0a1.45,1.45 0 1,0 -2.90,0M450.0,341.6a1.45,1.45 0 1,0 2.90,0a1.45,1.45 0 1,0 -2.90,0M451.7,344.8a1.45,1.45 0 1,0 2.90,0a1.45,1.45 0 1,0 -2.90,0M454.9,344.8a1.45,1.45 0 1,0 2.90,0a1.45,1.45 0 1,0 -2.90,0M455.9,348.1a1.45,1.45 0 1,0 2.90,0a1.45,1.45 0 1,0 -2.90,0M456.8,351.4a1.45,1.45 0 1,0 2.90,0a1.45,1.45 0 1,0 -2.90,0M457.7,354.7a1.45,1.45 0 1,0 2.90,0a1.45,1.45 0 1,0 -2.90,0M458.7,357.9a1.45,1.45 0 1,0 2.90,0a1.45,1.45 0 1,0 -2.90,0M459.6,361.2a1.45,1.45 0 1,0 2.90,0a1.45,1.45 0 1,0 -2.90,0M460.5,364.5a1.45,1.45 0 1,0 2.90,0a1.45,1.45 0 1,0 -2.90,0M461.4,367.8a1.45,1.45 0 1,0 2.90,0a1.45,1.45 0 1,0 -2.90,0M461.8,371.1a1.45,1.45 0 1,0 2.90,0a1.45,1.45 0 1,0 -2.90,0M462.2,374.4a1.45,1.45 0 1,0 2.90,0a1.45,1.45 0 1,0 -2.90,0M462.6,377.6a1.45,1.45 0 1,0 2.90,0a1.45,1.45 0 1,0 -2.90,0M462.9,380.9a1.45,1.45 0 1,0 2.90,0a1.45,1.45 0 1,0 -2.90,0M463.3,384.2a1.45,1.45 0 1,0 2.90,0a1.45,1.45 0 1,0 -2.90,0M463.7,387.5a1.45,1.45 0 1,0 2.90,0a1.45,1.45 0 1,0 -2.90,0M468.6,387.5a1.45,1.45 0 1,0 2.90,0a1.45,1.45 0 1,0 -2.90,0"/>
<polyline points="410.50,389.60 430.10,389.60 435.60,400.60 458.60,400.60 461.80,407.10 465.10,389.60" fill="none" stroke="#2e6a8a" stroke-width="2" stroke-linejoin="round" stroke-miterlimit="30" stroke-linecap="round"/>
<path fill="#2e6a8a" d="M409.1,389.6a1.35,1.35 0 1,0 2.70,0a1.35,1.35 0 1,0 -2.70,0M412.4,389.6a1.35,1.35 0 1,0 2.70,0a1.35,1.35 0 1,0 -2.70,0M415.7,389.6a1.35,1.35 0 1,0 2.70,0a1.35,1.35 0 1,0 -2.70,0M418.9,389.6a1.35,1.35 0 1,0 2.70,0a1.35,1.35 0 1,0 -2.70,0M422.2,389.6a1.35,1.35 0 1,0 2.70,0a1.35,1.35 0 1,0 -2.70,0M425.5,389.6a1.35,1.35 0 1,0 2.70,0a1.35,1.35 0 1,0 -2.70,0M428.8,389.6a1.35,1.35 0 1,0 2.70,0a1.35,1.35 0 1,0 -2.70,0M430.6,393.3a1.35,1.35 0 1,0 2.70,0a1.35,1.35 0 1,0 -2.70,0M432.4,396.9a1.35,1.35 0 1,0 2.70,0a1.35,1.35 0 1,0 -2.70,0M434.2,400.6a1.35,1.35 0 1,0 2.70,0a1.35,1.35 0 1,0 -2.70,0M437.5,400.6a1.35,1.35 0 1,0 2.70,0a1.35,1.35 0 1,0 -2.70,0M440.8,400.6a1.35,1.35 0 1,0 2.70,0a1.35,1.35 0 1,0 -2.70,0M444.1,400.6a1.35,1.35 0 1,0 2.70,0a1.35,1.35 0 1,0 -2.70,0M447.4,400.6a1.35,1.35 0 1,0 2.70,0a1.35,1.35 0 1,0 -2.70,0M450.7,400.6a1.35,1.35 0 1,0 2.70,0a1.35,1.35 0 1,0 -2.70,0M454.0,400.6a1.35,1.35 0 1,0 2.70,0a1.35,1.35 0 1,0 -2.70,0M457.2,400.6a1.35,1.35 0 1,0 2.70,0a1.35,1.35 0 1,0 -2.70,0M458.9,403.9a1.35,1.35 0 1,0 2.70,0a1.35,1.35 0 1,0 -2.70,0M460.4,407.1a1.35,1.35 0 1,0 2.70,0a1.35,1.35 0 1,0 -2.70,0M461.1,403.6a1.35,1.35 0 1,0 2.70,0a1.35,1.35 0 1,0 -2.70,0M461.8,400.1a1.35,1.35 0 1,0 2.70,0a1.35,1.35 0 1,0 -2.70,0M462.4,396.6a1.35,1.35 0 1,0 2.70,0a1.35,1.35 0 1,0 -2.70,0M463.1,393.1a1.35,1.35 0 1,0 2.70,0a1.35,1.35 0 1,0 -2.70,0M463.8,389.6a1.35,1.35 0 1,0 2.70,0a1.35,1.35 0 1,0 -2.70,0"/>
<polyline points="410.50,418.10 448.70,418.10 455.30,424.60 475.00,424.60 477.10,391.80" fill="none" stroke="#8ea4b4" stroke-width="1.5" stroke-linejoin="round" stroke-miterlimit="30" stroke-linecap="round"/>
<polyline points="488.60,296.30 497.50,309.10 521.00,309.10" fill="none" stroke="#4d7894" stroke-width="2" stroke-linejoin="round" stroke-miterlimit="30" stroke-linecap="round"/>
<path fill="#4d7894" d="M487.2,296.3a1.35,1.35 0 1,0 2.70,0a1.35,1.35 0 1,0 -2.70,0M489.5,299.5a1.35,1.35 0 1,0 2.70,0a1.35,1.35 0 1,0 -2.70,0M491.7,302.7a1.35,1.35 0 1,0 2.70,0a1.35,1.35 0 1,0 -2.70,0M493.9,305.9a1.35,1.35 0 1,0 2.70,0a1.35,1.35 0 1,0 -2.70,0M496.1,309.1a1.35,1.35 0 1,0 2.70,0a1.35,1.35 0 1,0 -2.70,0M499.5,309.1a1.35,1.35 0 1,0 2.70,0a1.35,1.35 0 1,0 -2.70,0M502.9,309.1a1.35,1.35 0 1,0 2.70,0a1.35,1.35 0 1,0 -2.70,0M506.2,309.1a1.35,1.35 0 1,0 2.70,0a1.35,1.35 0 1,0 -2.70,0M509.6,309.1a1.35,1.35 0 1,0 2.70,0a1.35,1.35 0 1,0 -2.70,0M512.9,309.1a1.35,1.35 0 1,0 2.70,0a1.35,1.35 0 1,0 -2.70,0M516.3,309.1a1.35,1.35 0 1,0 2.70,0a1.35,1.35 0 1,0 -2.70,0M519.6,309.1a1.35,1.35 0 1,0 2.70,0a1.35,1.35 0 1,0 -2.70,0"/>
<polyline points="486.60,325.80 490.60,329.80 501.40,329.80 504.30,322.90 507.30,322.90 510.20,318.90 521.00,318.90" fill="none" stroke="#2e6a8a" stroke-width="2" stroke-linejoin="round" stroke-miterlimit="30" stroke-linecap="round"/>
<path fill="#2e6a8a" d="M485.2,325.8a1.35,1.35 0 1,0 2.70,0a1.35,1.35 0 1,0 -2.70,0M489.2,329.8a1.35,1.35 0 1,0 2.70,0a1.35,1.35 0 1,0 -2.70,0M492.8,329.8a1.35,1.35 0 1,0 2.70,0a1.35,1.35 0 1,0 -2.70,0M496.4,329.8a1.35,1.35 0 1,0 2.70,0a1.35,1.35 0 1,0 -2.70,0M500.0,329.8a1.35,1.35 0 1,0 2.70,0a1.35,1.35 0 1,0 -2.70,0M501.5,326.4a1.35,1.35 0 1,0 2.70,0a1.35,1.35 0 1,0 -2.70,0M502.9,322.9a1.35,1.35 0 1,0 2.70,0a1.35,1.35 0 1,0 -2.70,0M505.9,322.9a1.35,1.35 0 1,0 2.70,0a1.35,1.35 0 1,0 -2.70,0M508.8,318.9a1.35,1.35 0 1,0 2.70,0a1.35,1.35 0 1,0 -2.70,0M512.4,318.9a1.35,1.35 0 1,0 2.70,0a1.35,1.35 0 1,0 -2.70,0M516.0,318.9a1.35,1.35 0 1,0 2.70,0a1.35,1.35 0 1,0 -2.70,0M519.6,318.9a1.35,1.35 0 1,0 2.70,0a1.35,1.35 0 1,0 -2.70,0"/>
<polyline points="486.80,341.50 487.90,363.40 491.20,355.70 497.70,355.70 501.00,349.20 504.30,349.20 507.50,344.80 521.00,344.80" fill="none" stroke="#2e6a8a" stroke-width="2.2" stroke-linejoin="round" stroke-miterlimit="30" stroke-linecap="round"/>
<path fill="#2e6a8a" d="M485.4,341.5a1.45,1.45 0 1,0 2.90,0a1.45,1.45 0 1,0 -2.90,0M485.5,345.1a1.45,1.45 0 1,0 2.90,0a1.45,1.45 0 1,0 -2.90,0M485.7,348.8a1.45,1.45 0 1,0 2.90,0a1.45,1.45 0 1,0 -2.90,0M485.9,352.4a1.45,1.45 0 1,0 2.90,0a1.45,1.45 0 1,0 -2.90,0M486.1,356.1a1.45,1.45 0 1,0 2.90,0a1.45,1.45 0 1,0 -2.90,0M486.3,359.8a1.45,1.45 0 1,0 2.90,0a1.45,1.45 0 1,0 -2.90,0M486.4,363.4a1.45,1.45 0 1,0 2.90,0a1.45,1.45 0 1,0 -2.90,0M488.1,359.5a1.45,1.45 0 1,0 2.90,0a1.45,1.45 0 1,0 -2.90,0M489.8,355.7a1.45,1.45 0 1,0 2.90,0a1.45,1.45 0 1,0 -2.90,0M493.0,355.7a1.45,1.45 0 1,0 2.90,0a1.45,1.45 0 1,0 -2.90,0M496.2,355.7a1.45,1.45 0 1,0 2.90,0a1.45,1.45 0 1,0 -2.90,0M497.9,352.4a1.45,1.45 0 1,0 2.90,0a1.45,1.45 0 1,0 -2.90,0M499.6,349.2a1.45,1.45 0 1,0 2.90,0a1.45,1.45 0 1,0 -2.90,0M502.9,349.2a1.45,1.45 0 1,0 2.90,0a1.45,1.45 0 1,0 -2.90,0M506.1,344.8a1.45,1.45 0 1,0 2.90,0a1.45,1.45 0 1,0 -2.90,0M509.4,344.8a1.45,1.45 0 1,0 2.90,0a1.45,1.45 0 1,0 -2.90,0M512.8,344.8a1.45,1.45 0 1,0 2.90,0a1.45,1.45 0 1,0 -2.90,0M516.2,344.8a1.45,1.45 0 1,0 2.90,0a1.45,1.45 0 1,0 -2.90,0M519.5,344.8a1.45,1.45 0 1,0 2.90,0a1.45,1.45 0 1,0 -2.90,0"/>
<polyline points="487.90,412.50 491.20,425.60 493.40,425.60 495.50,420.10 501.00,415.70 504.30,414.60 521.00,414.60" fill="none" stroke="#2e6a8a" stroke-width="2.6" stroke-linejoin="round" stroke-miterlimit="30" stroke-linecap="round"/>
<path fill="#2e6a8a" d="M486.2,412.5a1.65,1.65 0 1,0 3.30,0a1.65,1.65 0 1,0 -3.30,0M487.1,415.8a1.65,1.65 0 1,0 3.30,0a1.65,1.65 0 1,0 -3.30,0M487.9,419.1a1.65,1.65 0 1,0 3.30,0a1.65,1.65 0 1,0 -3.30,0M488.7,422.3a1.65,1.65 0 1,0 3.30,0a1.65,1.65 0 1,0 -3.30,0M489.6,425.6a1.65,1.65 0 1,0 3.30,0a1.65,1.65 0 1,0 -3.30,0M491.8,425.6a1.65,1.65 0 1,0 3.30,0a1.65,1.65 0 1,0 -3.30,0M493.9,420.1a1.65,1.65 0 1,0 3.30,0a1.65,1.65 0 1,0 -3.30,0M496.6,417.9a1.65,1.65 0 1,0 3.30,0a1.65,1.65 0 1,0 -3.30,0M499.4,415.7a1.65,1.65 0 1,0 3.30,0a1.65,1.65 0 1,0 -3.30,0M502.7,414.6a1.65,1.65 0 1,0 3.30,0a1.65,1.65 0 1,0 -3.30,0M506.0,414.6a1.65,1.65 0 1,0 3.30,0a1.65,1.65 0 1,0 -3.30,0M509.3,414.6a1.65,1.65 0 1,0 3.30,0a1.65,1.65 0 1,0 -3.30,0M512.7,414.6a1.65,1.65 0 1,0 3.30,0a1.65,1.65 0 1,0 -3.30,0M516.0,414.6a1.65,1.65 0 1,0 3.30,0a1.65,1.65 0 1,0 -3.30,0M519.4,414.6a1.65,1.65 0 1,0 3.30,0a1.65,1.65 0 1,0 -3.30,0"/>
<line x1="478.5" y1="390" x2="481.4" y2="412.5" stroke="#2e6b8c" stroke-width="2.87" stroke-linecap="round"/>
<line x1="481.4" y1="412.5" x2="487.9" y2="412.5" stroke="#2e6b8c" stroke-width="3.07" stroke-linecap="round"/>
<line x1="487.9" y1="412.5" x2="490.1" y2="400.5" stroke="#2e6b8c" stroke-width="2.87" stroke-linecap="round"/>
<line x1="490.1" y1="400.5" x2="492.3" y2="399.4" stroke="#2e6b8c" stroke-width="2.46" stroke-linecap="round"/>
<line x1="492.3" y1="399.4" x2="497.7" y2="399.4" stroke="#2e6b8c" stroke-width="2.46" stroke-linecap="round"/>
<line x1="497.7" y1="399.4" x2="501" y2="392.8" stroke="#2e6b8c" stroke-width="2.46" stroke-linecap="round"/>
<line x1="501" y1="392.8" x2="506.5" y2="392.8" stroke="#2e6b8c" stroke-width="2.46" stroke-linecap="round"/>
<line x1="506.5" y1="392.8" x2="509.7" y2="388.5" stroke="#2e6b8c" stroke-width="2.46" stroke-linecap="round"/>
<line x1="509.7" y1="388.5" x2="521" y2="388.5" stroke="#2e6b8c" stroke-width="2.46" stroke-linecap="round"/>
<path fill="#2e6b8c" d="M476.75,390.00a1.75,1.75 0 1,0 3.50,0a1.75,1.75 0 1,0 -3.50,0M477.07,392.50a1.75,1.75 0 1,0 3.50,0a1.75,1.75 0 1,0 -3.50,0M477.39,395.00a1.75,1.75 0 1,0 3.50,0a1.75,1.75 0 1,0 -3.50,0M477.72,397.50a1.75,1.75 0 1,0 3.50,0a1.75,1.75 0 1,0 -3.50,0M478.04,400.00a1.75,1.75 0 1,0 3.50,0a1.75,1.75 0 1,0 -3.50,0M478.36,402.50a1.75,1.75 0 1,0 3.50,0a1.75,1.75 0 1,0 -3.50,0M478.68,405.00a1.75,1.75 0 1,0 3.50,0a1.75,1.75 0 1,0 -3.50,0M479.01,407.50a1.75,1.75 0 1,0 3.50,0a1.75,1.75 0 1,0 -3.50,0M479.33,410.00a1.75,1.75 0 1,0 3.50,0a1.75,1.75 0 1,0 -3.50,0M479.65,412.50a1.75,1.75 0 1,0 3.50,0a1.75,1.75 0 1,0 -3.50,0M481.73,412.50a1.83,1.83 0 1,0 3.67,0a1.83,1.83 0 1,0 -3.67,0M483.82,412.50a1.92,1.92 0 1,0 3.83,0a1.92,1.92 0 1,0 -3.83,0M485.90,412.50a2.00,2.00 0 1,0 4.00,0a2.00,2.00 0 1,0 -4.00,0M486.35,410.50a1.92,1.92 0 1,0 3.83,0a1.92,1.92 0 1,0 -3.83,0M486.80,408.50a1.83,1.83 0 1,0 3.67,0a1.83,1.83 0 1,0 -3.67,0M487.25,406.50a1.75,1.75 0 1,0 3.50,0a1.75,1.75 0 1,0 -3.50,0M487.70,404.50a1.67,1.67 0 1,0 3.33,0a1.67,1.67 0 1,0 -3.33,0M488.15,402.50a1.58,1.58 0 1,0 3.17,0a1.58,1.58 0 1,0 -3.17,0M488.60,400.50a1.50,1.50 0 1,0 3.00,0a1.50,1.50 0 1,0 -3.00,0M489.70,399.95a1.50,1.50 0 1,0 3.00,0a1.50,1.50 0 1,0 -3.00,0M490.80,399.40a1.50,1.50 0 1,0 3.00,0a1.50,1.50 0 1,0 -3.00,0M492.60,399.40a1.50,1.50 0 1,0 3.00,0a1.50,1.50 0 1,0 -3.00,0M494.40,399.40a1.50,1.50 0 1,0 3.00,0a1.50,1.50 0 1,0 -3.00,0M496.20,399.40a1.50,1.50 0 1,0 3.00,0a1.50,1.50 0 1,0 -3.00,0M497.02,397.75a1.50,1.50 0 1,0 3.00,0a1.50,1.50 0 1,0 -3.00,0M497.85,396.10a1.50,1.50 0 1,0 3.00,0a1.50,1.50 0 1,0 -3.00,0M498.68,394.45a1.50,1.50 0 1,0 3.00,0a1.50,1.50 0 1,0 -3.00,0M499.50,392.80a1.50,1.50 0 1,0 3.00,0a1.50,1.50 0 1,0 -3.00,0M501.33,392.80a1.50,1.50 0 1,0 3.00,0a1.50,1.50 0 1,0 -3.00,0M503.17,392.80a1.50,1.50 0 1,0 3.00,0a1.50,1.50 0 1,0 -3.00,0M505.00,392.80a1.50,1.50 0 1,0 3.00,0a1.50,1.50 0 1,0 -3.00,0M506.07,391.37a1.50,1.50 0 1,0 3.00,0a1.50,1.50 0 1,0 -3.00,0M507.13,389.93a1.50,1.50 0 1,0 3.00,0a1.50,1.50 0 1,0 -3.00,0M508.20,388.50a1.50,1.50 0 1,0 3.00,0a1.50,1.50 0 1,0 -3.00,0M510.46,388.50a1.50,1.50 0 1,0 3.00,0a1.50,1.50 0 1,0 -3.00,0M512.72,388.50a1.50,1.50 0 1,0 3.00,0a1.50,1.50 0 1,0 -3.00,0M514.98,388.50a1.50,1.50 0 1,0 3.00,0a1.50,1.50 0 1,0 -3.00,0M517.24,388.50a1.50,1.50 0 1,0 3.00,0a1.50,1.50 0 1,0 -3.00,0M519.50,388.50a1.50,1.50 0 1,0 3.00,0a1.50,1.50 0 1,0 -3.00,0"/>
<line x1="409.9" y1="262.9" x2="429.6" y2="262.9" stroke="#2e6b8c" stroke-width="2.46" stroke-linecap="round"/>
<line x1="429.6" y1="262.9" x2="433.5" y2="266.8" stroke="#2e6b8c" stroke-width="2.46" stroke-linecap="round"/>
<line x1="433.5" y1="266.8" x2="435.5" y2="266.8" stroke="#2e6b8c" stroke-width="2.87" stroke-linecap="round"/>
<line x1="435.5" y1="266.8" x2="439.4" y2="272.7" stroke="#2e6b8c" stroke-width="2.87" stroke-linecap="round"/>
<line x1="439.4" y1="272.7" x2="442.4" y2="272.7" stroke="#2e6b8c" stroke-width="2.87" stroke-linecap="round"/>
<line x1="442.4" y1="272.7" x2="445.3" y2="279.6" stroke="#2e6b8c" stroke-width="2.87" stroke-linecap="round"/>
<line x1="445.3" y1="279.6" x2="449.3" y2="280.6" stroke="#2e6b8c" stroke-width="2.87" stroke-linecap="round"/>
<line x1="449.3" y1="280.6" x2="453.2" y2="288.4" stroke="#2e6b8c" stroke-width="3.07" stroke-linecap="round"/>
<line x1="453.2" y1="288.4" x2="458.1" y2="300.2" stroke="#2e6b8c" stroke-width="3.07" stroke-linecap="round"/>
<line x1="458.1" y1="300.2" x2="459.1" y2="305.2" stroke="#2e6b8c" stroke-width="3.48" stroke-linecap="round"/>
<line x1="459.1" y1="305.2" x2="467" y2="305.2" stroke="#2e6b8c" stroke-width="3.69" stroke-linecap="round"/>
<line x1="467" y1="305.2" x2="469" y2="320" stroke="#2e6b8c" stroke-width="3.69" stroke-linecap="round"/>
<line x1="469" y1="320" x2="470.9" y2="343.5" stroke="#2e6b8c" stroke-width="3.89" stroke-linecap="round"/>
<line x1="470.9" y1="343.5" x2="471.5" y2="345.9" stroke="#2e6b8c" stroke-width="5.33" stroke-linecap="round"/>
<line x1="471.5" y1="345.9" x2="475.9" y2="345.9" stroke="#2e6b8c" stroke-width="6.56" stroke-linecap="round"/>
<line x1="475.9" y1="345.9" x2="477" y2="365" stroke="#2e6b8c" stroke-width="5.33" stroke-linecap="round"/>
<line x1="477" y1="365" x2="478.5" y2="385.6" stroke="#2e6b8c" stroke-width="4.10" stroke-linecap="round"/>
<path fill="#2e6b8c" d="M408.40,262.90a1.50,1.50 0 1,0 3.00,0a1.50,1.50 0 1,0 -3.00,0M410.59,262.90a1.50,1.50 0 1,0 3.00,0a1.50,1.50 0 1,0 -3.00,0M412.78,262.90a1.50,1.50 0 1,0 3.00,0a1.50,1.50 0 1,0 -3.00,0M414.97,262.90a1.50,1.50 0 1,0 3.00,0a1.50,1.50 0 1,0 -3.00,0M417.16,262.90a1.50,1.50 0 1,0 3.00,0a1.50,1.50 0 1,0 -3.00,0M419.34,262.90a1.50,1.50 0 1,0 3.00,0a1.50,1.50 0 1,0 -3.00,0M421.53,262.90a1.50,1.50 0 1,0 3.00,0a1.50,1.50 0 1,0 -3.00,0M423.72,262.90a1.50,1.50 0 1,0 3.00,0a1.50,1.50 0 1,0 -3.00,0M425.91,262.90a1.50,1.50 0 1,0 3.00,0a1.50,1.50 0 1,0 -3.00,0M428.10,262.90a1.50,1.50 0 1,0 3.00,0a1.50,1.50 0 1,0 -3.00,0M429.40,264.20a1.50,1.50 0 1,0 3.00,0a1.50,1.50 0 1,0 -3.00,0M430.70,265.50a1.50,1.50 0 1,0 3.00,0a1.50,1.50 0 1,0 -3.00,0M432.00,266.80a1.50,1.50 0 1,0 3.00,0a1.50,1.50 0 1,0 -3.00,0M433.50,266.80a2.00,2.00 0 1,0 4.00,0a2.00,2.00 0 1,0 -4.00,0M434.97,268.77a1.83,1.83 0 1,0 3.67,0a1.83,1.83 0 1,0 -3.67,0M436.43,270.73a1.67,1.67 0 1,0 3.33,0a1.67,1.67 0 1,0 -3.33,0M437.90,272.70a1.50,1.50 0 1,0 3.00,0a1.50,1.50 0 1,0 -3.00,0M439.15,272.70a1.75,1.75 0 1,0 3.50,0a1.75,1.75 0 1,0 -3.50,0M440.40,272.70a2.00,2.00 0 1,0 4.00,0a2.00,2.00 0 1,0 -4.00,0M441.25,274.43a1.88,1.88 0 1,0 3.75,0a1.88,1.88 0 1,0 -3.75,0M442.10,276.15a1.75,1.75 0 1,0 3.50,0a1.75,1.75 0 1,0 -3.50,0M442.95,277.88a1.62,1.62 0 1,0 3.25,0a1.62,1.62 0 1,0 -3.25,0M443.80,279.60a1.50,1.50 0 1,0 3.00,0a1.50,1.50 0 1,0 -3.00,0M445.55,280.10a1.75,1.75 0 1,0 3.50,0a1.75,1.75 0 1,0 -3.50,0M447.30,280.60a2.00,2.00 0 1,0 4.00,0a2.00,2.00 0 1,0 -4.00,0M448.34,282.55a1.94,1.94 0 1,0 3.88,0a1.94,1.94 0 1,0 -3.88,0M449.38,284.50a1.88,1.88 0 1,0 3.75,0a1.88,1.88 0 1,0 -3.75,0M450.41,286.45a1.81,1.81 0 1,0 3.62,0a1.81,1.81 0 1,0 -3.62,0M451.45,288.40a1.75,1.75 0 1,0 3.50,0a1.75,1.75 0 1,0 -3.50,0M452.38,290.76a1.80,1.80 0 1,0 3.60,0a1.80,1.80 0 1,0 -3.60,0M453.31,293.12a1.85,1.85 0 1,0 3.70,0a1.85,1.85 0 1,0 -3.70,0M454.24,295.48a1.90,1.90 0 1,0 3.80,0a1.90,1.90 0 1,0 -3.80,0M455.17,297.84a1.95,1.95 0 1,0 3.90,0a1.95,1.95 0 1,0 -3.90,0M456.10,300.20a2.00,2.00 0 1,0 4.00,0a2.00,2.00 0 1,0 -4.00,0M456.48,302.70a2.12,2.12 0 1,0 4.25,0a2.12,2.12 0 1,0 -4.25,0M456.85,305.20a2.25,2.25 0 1,0 4.50,0a2.25,2.25 0 1,0 -4.50,0M459.48,305.20a2.25,2.25 0 1,0 4.50,0a2.25,2.25 0 1,0 -4.50,0M462.12,305.20a2.25,2.25 0 1,0 4.50,0a2.25,2.25 0 1,0 -4.50,0M464.75,305.20a2.25,2.25 0 1,0 4.50,0a2.25,2.25 0 1,0 -4.50,0M465.15,308.16a2.25,2.25 0 1,0 4.50,0a2.25,2.25 0 1,0 -4.50,0M465.55,311.12a2.25,2.25 0 1,0 4.50,0a2.25,2.25 0 1,0 -4.50,0M465.95,314.08a2.25,2.25 0 1,0 4.50,0a2.25,2.25 0 1,0 -4.50,0M466.35,317.04a2.25,2.25 0 1,0 4.50,0a2.25,2.25 0 1,0 -4.50,0M466.75,320.00a2.25,2.25 0 1,0 4.50,0a2.25,2.25 0 1,0 -4.50,0M466.99,323.36a2.29,2.29 0 1,0 4.57,0a2.29,2.29 0 1,0 -4.57,0M467.22,326.71a2.32,2.32 0 1,0 4.64,0a2.32,2.32 0 1,0 -4.64,0M467.46,330.07a2.36,2.36 0 1,0 4.71,0a2.36,2.36 0 1,0 -4.71,0M467.69,333.43a2.39,2.39 0 1,0 4.79,0a2.39,2.39 0 1,0 -4.79,0M467.93,336.79a2.43,2.43 0 1,0 4.86,0a2.43,2.43 0 1,0 -4.86,0M468.16,340.14a2.46,2.46 0 1,0 4.93,0a2.46,2.46 0 1,0 -4.93,0M468.40,343.50a2.50,2.50 0 1,0 5.00,0a2.50,2.50 0 1,0 -5.00,0M467.50,345.90a4.00,4.00 0 1,0 8.00,0a4.00,4.00 0 1,0 -8.00,0M471.90,345.90a4.00,4.00 0 1,0 8.00,0a4.00,4.00 0 1,0 -8.00,0M472.42,349.72a3.70,3.70 0 1,0 7.40,0a3.70,3.70 0 1,0 -7.40,0M472.94,353.54a3.40,3.40 0 1,0 6.80,0a3.40,3.40 0 1,0 -6.80,0M473.46,357.36a3.10,3.10 0 1,0 6.20,0a3.10,3.10 0 1,0 -6.20,0M473.98,361.18a2.80,2.80 0 1,0 5.60,0a2.80,2.80 0 1,0 -5.60,0M474.50,365.00a2.50,2.50 0 1,0 5.00,0a2.50,2.50 0 1,0 -5.00,0M474.75,368.43a2.50,2.50 0 1,0 5.00,0a2.50,2.50 0 1,0 -5.00,0M475.00,371.87a2.50,2.50 0 1,0 5.00,0a2.50,2.50 0 1,0 -5.00,0M475.25,375.30a2.50,2.50 0 1,0 5.00,0a2.50,2.50 0 1,0 -5.00,0M475.50,378.73a2.50,2.50 0 1,0 5.00,0a2.50,2.50 0 1,0 -5.00,0M475.75,382.17a2.50,2.50 0 1,0 5.00,0a2.50,2.50 0 1,0 -5.00,0M476.00,385.60a2.50,2.50 0 1,0 5.00,0a2.50,2.50 0 1,0 -5.00,0"/>
<line x1="521" y1="266.4" x2="511.2" y2="266.4" stroke="#2e6b8c" stroke-width="2.46" stroke-linecap="round"/>
<line x1="511.2" y1="266.4" x2="507.3" y2="270.7" stroke="#2e6b8c" stroke-width="2.87" stroke-linecap="round"/>
<line x1="507.3" y1="270.7" x2="504.3" y2="270.7" stroke="#2e6b8c" stroke-width="2.87" stroke-linecap="round"/>
<line x1="504.3" y1="270.7" x2="501.4" y2="282.5" stroke="#2e6b8c" stroke-width="2.87" stroke-linecap="round"/>
<line x1="501.4" y1="282.5" x2="498.4" y2="282.5" stroke="#2e6b8c" stroke-width="2.87" stroke-linecap="round"/>
<line x1="498.4" y1="282.5" x2="494.5" y2="296.3" stroke="#2e6b8c" stroke-width="2.87" stroke-linecap="round"/>
<line x1="494.5" y1="296.3" x2="491.6" y2="296.3" stroke="#2e6b8c" stroke-width="2.87" stroke-linecap="round"/>
<line x1="491.6" y1="296.3" x2="488.6" y2="313" stroke="#2e6b8c" stroke-width="2.46" stroke-linecap="round"/>
<line x1="488.6" y1="313" x2="486.6" y2="325.8" stroke="#2e6b8c" stroke-width="2.46" stroke-linecap="round"/>
<line x1="486.6" y1="325.8" x2="485.7" y2="337.2" stroke="#2e6b8c" stroke-width="3.28" stroke-linecap="round"/>
<line x1="485.7" y1="337.2" x2="482" y2="360" stroke="#2e6b8c" stroke-width="3.28" stroke-linecap="round"/>
<line x1="482" y1="360" x2="478.5" y2="385.6" stroke="#2e6b8c" stroke-width="2.46" stroke-linecap="round"/>
<path fill="#2e6b8c" d="M519.50,266.40a1.50,1.50 0 1,0 3.00,0a1.50,1.50 0 1,0 -3.00,0M517.54,266.40a1.50,1.50 0 1,0 3.00,0a1.50,1.50 0 1,0 -3.00,0M515.58,266.40a1.50,1.50 0 1,0 3.00,0a1.50,1.50 0 1,0 -3.00,0M513.62,266.40a1.50,1.50 0 1,0 3.00,0a1.50,1.50 0 1,0 -3.00,0M511.66,266.40a1.50,1.50 0 1,0 3.00,0a1.50,1.50 0 1,0 -3.00,0M509.70,266.40a1.50,1.50 0 1,0 3.00,0a1.50,1.50 0 1,0 -3.00,0M508.23,267.83a1.67,1.67 0 1,0 3.33,0a1.67,1.67 0 1,0 -3.33,0M506.77,269.27a1.83,1.83 0 1,0 3.67,0a1.83,1.83 0 1,0 -3.67,0M505.30,270.70a2.00,2.00 0 1,0 4.00,0a2.00,2.00 0 1,0 -4.00,0M504.05,270.70a1.75,1.75 0 1,0 3.50,0a1.75,1.75 0 1,0 -3.50,0M502.80,270.70a1.50,1.50 0 1,0 3.00,0a1.50,1.50 0 1,0 -3.00,0M502.23,272.67a1.58,1.58 0 1,0 3.17,0a1.58,1.58 0 1,0 -3.17,0M501.67,274.63a1.67,1.67 0 1,0 3.33,0a1.67,1.67 0 1,0 -3.33,0M501.10,276.60a1.75,1.75 0 1,0 3.50,0a1.75,1.75 0 1,0 -3.50,0M500.53,278.57a1.83,1.83 0 1,0 3.67,0a1.83,1.83 0 1,0 -3.67,0M499.97,280.53a1.92,1.92 0 1,0 3.83,0a1.92,1.92 0 1,0 -3.83,0M499.40,282.50a2.00,2.00 0 1,0 4.00,0a2.00,2.00 0 1,0 -4.00,0M498.15,282.50a1.75,1.75 0 1,0 3.50,0a1.75,1.75 0 1,0 -3.50,0M496.90,282.50a1.50,1.50 0 1,0 3.00,0a1.50,1.50 0 1,0 -3.00,0M496.17,284.80a1.58,1.58 0 1,0 3.17,0a1.58,1.58 0 1,0 -3.17,0M495.43,287.10a1.67,1.67 0 1,0 3.33,0a1.67,1.67 0 1,0 -3.33,0M494.70,289.40a1.75,1.75 0 1,0 3.50,0a1.75,1.75 0 1,0 -3.50,0M493.97,291.70a1.83,1.83 0 1,0 3.67,0a1.83,1.83 0 1,0 -3.67,0M493.23,294.00a1.92,1.92 0 1,0 3.83,0a1.92,1.92 0 1,0 -3.83,0M492.50,296.30a2.00,2.00 0 1,0 4.00,0a2.00,2.00 0 1,0 -4.00,0M491.30,296.30a1.75,1.75 0 1,0 3.50,0a1.75,1.75 0 1,0 -3.50,0M490.10,296.30a1.50,1.50 0 1,0 3.00,0a1.50,1.50 0 1,0 -3.00,0M489.73,298.39a1.50,1.50 0 1,0 3.00,0a1.50,1.50 0 1,0 -3.00,0M489.35,300.48a1.50,1.50 0 1,0 3.00,0a1.50,1.50 0 1,0 -3.00,0M488.98,302.56a1.50,1.50 0 1,0 3.00,0a1.50,1.50 0 1,0 -3.00,0M488.60,304.65a1.50,1.50 0 1,0 3.00,0a1.50,1.50 0 1,0 -3.00,0M488.23,306.74a1.50,1.50 0 1,0 3.00,0a1.50,1.50 0 1,0 -3.00,0M487.85,308.82a1.50,1.50 0 1,0 3.00,0a1.50,1.50 0 1,0 -3.00,0M487.48,310.91a1.50,1.50 0 1,0 3.00,0a1.50,1.50 0 1,0 -3.00,0M487.10,313.00a1.50,1.50 0 1,0 3.00,0a1.50,1.50 0 1,0 -3.00,0M486.77,315.13a1.50,1.50 0 1,0 3.00,0a1.50,1.50 0 1,0 -3.00,0M486.43,317.27a1.50,1.50 0 1,0 3.00,0a1.50,1.50 0 1,0 -3.00,0M486.10,319.40a1.50,1.50 0 1,0 3.00,0a1.50,1.50 0 1,0 -3.00,0M485.77,321.53a1.50,1.50 0 1,0 3.00,0a1.50,1.50 0 1,0 -3.00,0M485.43,323.67a1.50,1.50 0 1,0 3.00,0a1.50,1.50 0 1,0 -3.00,0M485.10,325.80a1.50,1.50 0 1,0 3.00,0a1.50,1.50 0 1,0 -3.00,0M484.72,328.08a1.70,1.70 0 1,0 3.40,0a1.70,1.70 0 1,0 -3.40,0M484.34,330.36a1.90,1.90 0 1,0 3.80,0a1.90,1.90 0 1,0 -3.80,0M483.96,332.64a2.10,2.10 0 1,0 4.20,0a2.10,2.10 0 1,0 -4.20,0M483.58,334.92a2.30,2.30 0 1,0 4.60,0a2.30,2.30 0 1,0 -4.60,0M483.20,337.20a2.50,2.50 0 1,0 5.00,0a2.50,2.50 0 1,0 -5.00,0M482.93,339.48a2.40,2.40 0 1,0 4.80,0a2.40,2.40 0 1,0 -4.80,0M482.66,341.76a2.30,2.30 0 1,0 4.60,0a2.30,2.30 0 1,0 -4.60,0M482.39,344.04a2.20,2.20 0 1,0 4.40,0a2.20,2.20 0 1,0 -4.40,0M482.12,346.32a2.10,2.10 0 1,0 4.20,0a2.10,2.10 0 1,0 -4.20,0M481.85,348.60a2.00,2.00 0 1,0 4.00,0a2.00,2.00 0 1,0 -4.00,0M481.58,350.88a1.90,1.90 0 1,0 3.80,0a1.90,1.90 0 1,0 -3.80,0M481.31,353.16a1.80,1.80 0 1,0 3.60,0a1.80,1.80 0 1,0 -3.60,0M481.04,355.44a1.70,1.70 0 1,0 3.40,0a1.70,1.70 0 1,0 -3.40,0M480.77,357.72a1.60,1.60 0 1,0 3.20,0a1.60,1.60 0 1,0 -3.20,0M480.50,360.00a1.50,1.50 0 1,0 3.00,0a1.50,1.50 0 1,0 -3.00,0M480.18,362.33a1.50,1.50 0 1,0 3.00,0a1.50,1.50 0 1,0 -3.00,0M479.86,364.65a1.50,1.50 0 1,0 3.00,0a1.50,1.50 0 1,0 -3.00,0M479.55,366.98a1.50,1.50 0 1,0 3.00,0a1.50,1.50 0 1,0 -3.00,0M479.23,369.31a1.50,1.50 0 1,0 3.00,0a1.50,1.50 0 1,0 -3.00,0M478.91,371.64a1.50,1.50 0 1,0 3.00,0a1.50,1.50 0 1,0 -3.00,0M478.59,373.96a1.50,1.50 0 1,0 3.00,0a1.50,1.50 0 1,0 -3.00,0M478.27,376.29a1.50,1.50 0 1,0 3.00,0a1.50,1.50 0 1,0 -3.00,0M477.95,378.62a1.50,1.50 0 1,0 3.00,0a1.50,1.50 0 1,0 -3.00,0M477.64,380.95a1.50,1.50 0 1,0 3.00,0a1.50,1.50 0 1,0 -3.00,0M477.32,383.27a1.50,1.50 0 1,0 3.00,0a1.50,1.50 0 1,0 -3.00,0M477.00,385.60a1.50,1.50 0 1,0 3.00,0a1.50,1.50 0 1,0 -3.00,0"/>
<ellipse cx="478.3" cy="386" rx="4.3" ry="5" fill="#0c3a77"/>
<line x1="543.2" y1="276.0" x2="558.2" y2="276.0" stroke="#c8cdd2" stroke-width="0.9" stroke-linecap="round"/>
<line x1="543.2" y1="287.0" x2="562.8" y2="287.0" stroke="#c8cdd2" stroke-width="0.9" stroke-linecap="round"/>
<line x1="543.2" y1="298.0" x2="566.1" y2="298.0" stroke="#c8cdd2" stroke-width="0.9" stroke-linecap="round"/>
<line x1="543.2" y1="309.0" x2="569.5" y2="309.0" stroke="#c8cdd2" stroke-width="0.9" stroke-linecap="round"/>
<line x1="543.2" y1="320.0" x2="572.7" y2="320.0" stroke="#c8cdd2" stroke-width="0.9" stroke-linecap="round"/>
<line x1="543.2" y1="331.0" x2="575.2" y2="331.0" stroke="#c8cdd2" stroke-width="0.9" stroke-linecap="round"/>
<line x1="543.2" y1="342.0" x2="577.0" y2="342.0" stroke="#c8cdd2" stroke-width="0.9" stroke-linecap="round"/>
<line x1="543.2" y1="353.0" x2="577.7" y2="353.0" stroke="#c8cdd2" stroke-width="0.9" stroke-linecap="round"/>
<line x1="543.2" y1="364.0" x2="579.8" y2="364.0" stroke="#c8cdd2" stroke-width="0.9" stroke-linecap="round"/>
<line x1="543.2" y1="375.0" x2="582.8" y2="375.0" stroke="#c8cdd2" stroke-width="0.9" stroke-linecap="round"/>
<line x1="543.2" y1="386.0" x2="584.0" y2="386.0" stroke="#c8cdd2" stroke-width="0.9" stroke-linecap="round"/>
<line x1="543.2" y1="397.0" x2="584.0" y2="397.0" stroke="#c8cdd2" stroke-width="0.9" stroke-linecap="round"/>
<line x1="543.2" y1="408.0" x2="584.0" y2="408.0" stroke="#c8cdd2" stroke-width="0.9" stroke-linecap="round"/>
<line x1="543.2" y1="419.0" x2="584.0" y2="419.0" stroke="#c8cdd2" stroke-width="0.9" stroke-linecap="round"/>
<line x1="543.2" y1="430.0" x2="584.0" y2="430.0" stroke="#c8cdd2" stroke-width="0.9" stroke-linecap="round"/>
<line x1="653.0" y1="273.6" x2="641.9" y2="273.6" stroke="#c8cdd2" stroke-width="0.9" stroke-linecap="round"/>
<line x1="641.9" y1="273.6" x2="638.4" y2="276.3" stroke="#c8cdd2" stroke-width="0.9" stroke-linecap="round"/>
<line x1="653.0" y1="279.1" x2="641.9" y2="279.1" stroke="#c8cdd2" stroke-width="0.9" stroke-linecap="round"/>
<line x1="641.9" y1="279.1" x2="638.4" y2="276.3" stroke="#c8cdd2" stroke-width="0.9" stroke-linecap="round"/>
<line x1="653.0" y1="289.9" x2="637.9" y2="289.9" stroke="#c8cdd2" stroke-width="0.9" stroke-linecap="round"/>
<line x1="637.9" y1="289.9" x2="634.4" y2="292.7" stroke="#c8cdd2" stroke-width="0.9" stroke-linecap="round"/>
<line x1="653.0" y1="295.4" x2="637.9" y2="295.4" stroke="#c8cdd2" stroke-width="0.9" stroke-linecap="round"/>
<line x1="637.9" y1="295.4" x2="634.4" y2="292.7" stroke="#c8cdd2" stroke-width="0.9" stroke-linecap="round"/>
<line x1="653.0" y1="300.8" x2="631.0" y2="300.8" stroke="#c8cdd2" stroke-width="0.9" stroke-linecap="round"/>
<line x1="631.0" y1="300.8" x2="627.5" y2="303.6" stroke="#c8cdd2" stroke-width="0.9" stroke-linecap="round"/>
<line x1="653.0" y1="306.3" x2="631.0" y2="306.3" stroke="#c8cdd2" stroke-width="0.9" stroke-linecap="round"/>
<line x1="631.0" y1="306.3" x2="627.5" y2="303.6" stroke="#c8cdd2" stroke-width="0.9" stroke-linecap="round"/>
<line x1="653.0" y1="317.2" x2="636.8" y2="317.2" stroke="#c8cdd2" stroke-width="0.9" stroke-linecap="round"/>
<line x1="636.8" y1="317.2" x2="633.3" y2="319.9" stroke="#c8cdd2" stroke-width="0.9" stroke-linecap="round"/>
<line x1="653.0" y1="322.6" x2="636.8" y2="322.6" stroke="#c8cdd2" stroke-width="0.9" stroke-linecap="round"/>
<line x1="636.8" y1="322.6" x2="633.3" y2="319.9" stroke="#c8cdd2" stroke-width="0.9" stroke-linecap="round"/>
<line x1="653.0" y1="328.1" x2="636.5" y2="328.1" stroke="#9fb2c0" stroke-width="0.9" stroke-linecap="round"/>
<line x1="636.5" y1="328.1" x2="633.0" y2="330.8" stroke="#9fb2c0" stroke-width="0.9" stroke-linecap="round"/>
<line x1="653.0" y1="333.5" x2="636.5" y2="333.5" stroke="#c8cdd2" stroke-width="0.9" stroke-linecap="round"/>
<line x1="636.5" y1="333.5" x2="633.0" y2="330.8" stroke="#c8cdd2" stroke-width="0.9" stroke-linecap="round"/>
<line x1="653.0" y1="339.0" x2="629.6" y2="339.0" stroke="#c8cdd2" stroke-width="0.9" stroke-linecap="round"/>
<line x1="629.6" y1="339.0" x2="626.1" y2="341.7" stroke="#c8cdd2" stroke-width="0.9" stroke-linecap="round"/>
<line x1="653.0" y1="344.4" x2="629.6" y2="344.4" stroke="#c8cdd2" stroke-width="0.9" stroke-linecap="round"/>
<line x1="629.6" y1="344.4" x2="626.1" y2="341.7" stroke="#c8cdd2" stroke-width="0.9" stroke-linecap="round"/>
<line x1="653.0" y1="349.9" x2="637.0" y2="349.9" stroke="#c8cdd2" stroke-width="0.9" stroke-linecap="round"/>
<line x1="637.0" y1="349.9" x2="633.5" y2="352.6" stroke="#c8cdd2" stroke-width="0.9" stroke-linecap="round"/>
<line x1="653.0" y1="355.3" x2="637.0" y2="355.3" stroke="#c8cdd2" stroke-width="0.9" stroke-linecap="round"/>
<line x1="637.0" y1="355.3" x2="633.5" y2="352.6" stroke="#c8cdd2" stroke-width="0.9" stroke-linecap="round"/>
<line x1="653.0" y1="360.8" x2="623.3" y2="360.8" stroke="#c8cdd2" stroke-width="0.9" stroke-linecap="round"/>
<line x1="623.3" y1="360.8" x2="619.8" y2="363.5" stroke="#c8cdd2" stroke-width="0.9" stroke-linecap="round"/>
<line x1="653.0" y1="366.2" x2="623.3" y2="366.2" stroke="#c8cdd2" stroke-width="0.9" stroke-linecap="round"/>
<line x1="623.3" y1="366.2" x2="619.8" y2="363.5" stroke="#c8cdd2" stroke-width="0.9" stroke-linecap="round"/>
<line x1="653.0" y1="371.7" x2="620.8" y2="371.7" stroke="#c8cdd2" stroke-width="0.9" stroke-linecap="round"/>
<line x1="620.8" y1="371.7" x2="617.3" y2="374.4" stroke="#c8cdd2" stroke-width="0.9" stroke-linecap="round"/>
<line x1="653.0" y1="377.1" x2="620.8" y2="377.1" stroke="#c8cdd2" stroke-width="0.9" stroke-linecap="round"/>
<line x1="620.8" y1="377.1" x2="617.3" y2="374.4" stroke="#c8cdd2" stroke-width="0.9" stroke-linecap="round"/>
<line x1="653.0" y1="382.6" x2="620.9" y2="382.6" stroke="#c8cdd2" stroke-width="0.9" stroke-linecap="round"/>
<line x1="620.9" y1="382.6" x2="617.4" y2="385.3" stroke="#c8cdd2" stroke-width="0.9" stroke-linecap="round"/>
<line x1="653.0" y1="388.0" x2="620.9" y2="388.0" stroke="#c8cdd2" stroke-width="0.9" stroke-linecap="round"/>
<line x1="620.9" y1="388.0" x2="617.4" y2="385.3" stroke="#c8cdd2" stroke-width="0.9" stroke-linecap="round"/>
<line x1="653.0" y1="393.5" x2="620.1" y2="393.5" stroke="#c8cdd2" stroke-width="0.9" stroke-linecap="round"/>
<line x1="620.1" y1="393.5" x2="616.6" y2="396.2" stroke="#c8cdd2" stroke-width="0.9" stroke-linecap="round"/>
<line x1="653.0" y1="398.9" x2="620.1" y2="398.9" stroke="#c8cdd2" stroke-width="0.9" stroke-linecap="round"/>
<line x1="620.1" y1="398.9" x2="616.6" y2="396.2" stroke="#c8cdd2" stroke-width="0.9" stroke-linecap="round"/>
<line x1="653.0" y1="404.4" x2="633.3" y2="404.4" stroke="#c8cdd2" stroke-width="0.9" stroke-linecap="round"/>
<line x1="633.3" y1="404.4" x2="629.8" y2="407.1" stroke="#c8cdd2" stroke-width="0.9" stroke-linecap="round"/>
<line x1="653.0" y1="409.8" x2="633.3" y2="409.8" stroke="#c8cdd2" stroke-width="0.9" stroke-linecap="round"/>
<line x1="633.3" y1="409.8" x2="629.8" y2="407.1" stroke="#c8cdd2" stroke-width="0.9" stroke-linecap="round"/>
<line x1="653.0" y1="415.3" x2="626.6" y2="415.3" stroke="#c8cdd2" stroke-width="0.9" stroke-linecap="round"/>
<line x1="626.6" y1="415.3" x2="623.1" y2="418.0" stroke="#c8cdd2" stroke-width="0.9" stroke-linecap="round"/>
<line x1="653.0" y1="420.7" x2="626.6" y2="420.7" stroke="#c8cdd2" stroke-width="0.9" stroke-linecap="round"/>
<line x1="626.6" y1="420.7" x2="623.1" y2="418.0" stroke="#c8cdd2" stroke-width="0.9" stroke-linecap="round"/>
<line x1="653.0" y1="426.2" x2="634.8" y2="426.2" stroke="#c8cdd2" stroke-width="0.9" stroke-linecap="round"/>
<line x1="634.8" y1="426.2" x2="631.3" y2="428.9" stroke="#c8cdd2" stroke-width="0.9" stroke-linecap="round"/>
<line x1="653.0" y1="431.6" x2="634.8" y2="431.6" stroke="#c8cdd2" stroke-width="0.9" stroke-linecap="round"/>
<line x1="634.8" y1="431.6" x2="631.3" y2="428.9" stroke="#c8cdd2" stroke-width="0.9" stroke-linecap="round"/>
<line x1="638.4" y1="276.3" x2="630.0" y2="276.3" stroke="#c8cdd2" stroke-width="0.9" stroke-linecap="round"/>
<line x1="630.0" y1="276.3" x2="626.5" y2="280.4" stroke="#c8cdd2" stroke-width="0.9" stroke-linecap="round"/>
<line x1="653.0" y1="284.5" x2="630.0" y2="284.5" stroke="#c8cdd2" stroke-width="0.9" stroke-linecap="round"/>
<line x1="630.0" y1="284.5" x2="626.5" y2="280.4" stroke="#c8cdd2" stroke-width="0.9" stroke-linecap="round"/>
<line x1="627.5" y1="303.6" x2="625.0" y2="303.6" stroke="#c8cdd2" stroke-width="0.9" stroke-linecap="round"/>
<line x1="625.0" y1="303.6" x2="621.5" y2="307.7" stroke="#c8cdd2" stroke-width="0.9" stroke-linecap="round"/>
<line x1="653.0" y1="311.7" x2="625.0" y2="311.7" stroke="#9fb2c0" stroke-width="0.9" stroke-linecap="round"/>
<line x1="625.0" y1="311.7" x2="621.5" y2="307.7" stroke="#9fb2c0" stroke-width="0.9" stroke-linecap="round"/>
<line x1="626.5" y1="280.4" x2="609.7" y2="280.4" stroke="#c8cdd2" stroke-width="0.9" stroke-linecap="round"/>
<line x1="634.4" y1="292.7" x2="603.9" y2="292.7" stroke="#c8cdd2" stroke-width="0.9" stroke-linecap="round"/>
<line x1="621.5" y1="307.7" x2="601.2" y2="307.7" stroke="#c8cdd2" stroke-width="0.9" stroke-linecap="round"/>
<line x1="633.3" y1="319.9" x2="598.8" y2="319.9" stroke="#c8cdd2" stroke-width="0.9" stroke-linecap="round"/>
<line x1="633.0" y1="330.8" x2="595.7" y2="330.8" stroke="#9fb2c0" stroke-width="0.9" stroke-linecap="round"/>
<line x1="626.1" y1="341.7" x2="593.5" y2="341.7" stroke="#c8cdd2" stroke-width="0.9" stroke-linecap="round"/>
<line x1="633.5" y1="352.6" x2="590.3" y2="352.6" stroke="#c8cdd2" stroke-width="0.9" stroke-linecap="round"/>
<line x1="619.8" y1="363.5" x2="587.8" y2="363.5" stroke="#c8cdd2" stroke-width="0.9" stroke-linecap="round"/>
<line x1="617.3" y1="374.4" x2="586.6" y2="374.4" stroke="#c8cdd2" stroke-width="0.9" stroke-linecap="round"/>
<line x1="617.4" y1="385.3" x2="586.0" y2="385.3" stroke="#c8cdd2" stroke-width="0.9" stroke-linecap="round"/>
<line x1="616.6" y1="396.2" x2="584.0" y2="396.2" stroke="#c8cdd2" stroke-width="0.9" stroke-linecap="round"/>
<line x1="629.8" y1="407.1" x2="584.0" y2="407.1" stroke="#c8cdd2" stroke-width="0.9" stroke-linecap="round"/>
<line x1="623.1" y1="418.0" x2="584.0" y2="418.0" stroke="#c8cdd2" stroke-width="0.9" stroke-linecap="round"/>
<line x1="631.3" y1="428.9" x2="584.0" y2="428.9" stroke="#c8cdd2" stroke-width="0.9" stroke-linecap="round"/>
<polyline points="543.00,354.20 559.80,354.20 571.80,386.90 576.20,386.90" fill="none" stroke="#2e6a8a" stroke-width="2.5" stroke-linejoin="round" stroke-miterlimit="30" stroke-linecap="round"/>
<path fill="#2e6a8a" d="M541.4,354.2a1.60,1.60 0 1,0 3.20,0a1.60,1.60 0 1,0 -3.20,0M544.8,354.2a1.60,1.60 0 1,0 3.20,0a1.60,1.60 0 1,0 -3.20,0M548.1,354.2a1.60,1.60 0 1,0 3.20,0a1.60,1.60 0 1,0 -3.20,0M551.5,354.2a1.60,1.60 0 1,0 3.20,0a1.60,1.60 0 1,0 -3.20,0M554.8,354.2a1.60,1.60 0 1,0 3.20,0a1.60,1.60 0 1,0 -3.20,0M558.2,354.2a1.60,1.60 0 1,0 3.20,0a1.60,1.60 0 1,0 -3.20,0M559.4,357.5a1.60,1.60 0 1,0 3.20,0a1.60,1.60 0 1,0 -3.20,0M560.6,360.7a1.60,1.60 0 1,0 3.20,0a1.60,1.60 0 1,0 -3.20,0M561.8,364.0a1.60,1.60 0 1,0 3.20,0a1.60,1.60 0 1,0 -3.20,0M563.0,367.3a1.60,1.60 0 1,0 3.20,0a1.60,1.60 0 1,0 -3.20,0M564.2,370.5a1.60,1.60 0 1,0 3.20,0a1.60,1.60 0 1,0 -3.20,0M565.4,373.8a1.60,1.60 0 1,0 3.20,0a1.60,1.60 0 1,0 -3.20,0M566.6,377.1a1.60,1.60 0 1,0 3.20,0a1.60,1.60 0 1,0 -3.20,0M567.8,380.4a1.60,1.60 0 1,0 3.20,0a1.60,1.60 0 1,0 -3.20,0M569.0,383.6a1.60,1.60 0 1,0 3.20,0a1.60,1.60 0 1,0 -3.20,0M570.2,386.9a1.60,1.60 0 1,0 3.20,0a1.60,1.60 0 1,0 -3.20,0M574.6,386.9a1.60,1.60 0 1,0 3.20,0a1.60,1.60 0 1,0 -3.20,0"/>
<polyline points="543.00,410.30 564.20,410.30 567.50,415.30 571.80,415.30 576.20,424.00 579.50,424.00 583.80,402.60" fill="none" stroke="#2e6a8a" stroke-width="2.5" stroke-linejoin="round" stroke-miterlimit="30" stroke-linecap="round"/>
<path fill="#2e6a8a" d="M541.4,410.3a1.60,1.60 0 1,0 3.20,0a1.60,1.60 0 1,0 -3.20,0M544.9,410.3a1.60,1.60 0 1,0 3.20,0a1.60,1.60 0 1,0 -3.20,0M548.5,410.3a1.60,1.60 0 1,0 3.20,0a1.60,1.60 0 1,0 -3.20,0M552.0,410.3a1.60,1.60 0 1,0 3.20,0a1.60,1.60 0 1,0 -3.20,0M555.5,410.3a1.60,1.60 0 1,0 3.20,0a1.60,1.60 0 1,0 -3.20,0M559.1,410.3a1.60,1.60 0 1,0 3.20,0a1.60,1.60 0 1,0 -3.20,0M562.6,410.3a1.60,1.60 0 1,0 3.20,0a1.60,1.60 0 1,0 -3.20,0M565.9,415.3a1.60,1.60 0 1,0 3.20,0a1.60,1.60 0 1,0 -3.20,0M570.2,415.3a1.60,1.60 0 1,0 3.20,0a1.60,1.60 0 1,0 -3.20,0M571.7,418.2a1.60,1.60 0 1,0 3.20,0a1.60,1.60 0 1,0 -3.20,0M573.1,421.1a1.60,1.60 0 1,0 3.20,0a1.60,1.60 0 1,0 -3.20,0M574.6,424.0a1.60,1.60 0 1,0 3.20,0a1.60,1.60 0 1,0 -3.20,0M577.9,424.0a1.60,1.60 0 1,0 3.20,0a1.60,1.60 0 1,0 -3.20,0M578.6,420.4a1.60,1.60 0 1,0 3.20,0a1.60,1.60 0 1,0 -3.20,0M579.3,416.9a1.60,1.60 0 1,0 3.20,0a1.60,1.60 0 1,0 -3.20,0M580.0,413.3a1.60,1.60 0 1,0 3.20,0a1.60,1.60 0 1,0 -3.20,0M580.8,409.7a1.60,1.60 0 1,0 3.20,0a1.60,1.60 0 1,0 -3.20,0M581.5,406.2a1.60,1.60 0 1,0 3.20,0a1.60,1.60 0 1,0 -3.20,0M582.2,402.6a1.60,1.60 0 1,0 3.20,0a1.60,1.60 0 1,0 -3.20,0"/>
<polyline points="584.90,402.00 588.20,422.30 591.50,412.50 595.80,412.50 600.20,404.80 603.50,400.00 607.80,400.00 615.50,392.20 638.40,392.20 640.60,388.50 653.60,388.50" fill="none" stroke="#2e6a8a" stroke-width="2.6" stroke-linejoin="round" stroke-miterlimit="30" stroke-linecap="round"/>
<path fill="#2e6a8a" d="M583.2,402.0a1.65,1.65 0 1,0 3.30,0a1.65,1.65 0 1,0 -3.30,0M583.8,405.4a1.65,1.65 0 1,0 3.30,0a1.65,1.65 0 1,0 -3.30,0M584.4,408.8a1.65,1.65 0 1,0 3.30,0a1.65,1.65 0 1,0 -3.30,0M584.9,412.1a1.65,1.65 0 1,0 3.30,0a1.65,1.65 0 1,0 -3.30,0M585.5,415.5a1.65,1.65 0 1,0 3.30,0a1.65,1.65 0 1,0 -3.30,0M586.0,418.9a1.65,1.65 0 1,0 3.30,0a1.65,1.65 0 1,0 -3.30,0M586.6,422.3a1.65,1.65 0 1,0 3.30,0a1.65,1.65 0 1,0 -3.30,0M587.7,419.0a1.65,1.65 0 1,0 3.30,0a1.65,1.65 0 1,0 -3.30,0M588.8,415.8a1.65,1.65 0 1,0 3.30,0a1.65,1.65 0 1,0 -3.30,0M589.9,412.5a1.65,1.65 0 1,0 3.30,0a1.65,1.65 0 1,0 -3.30,0M594.1,412.5a1.65,1.65 0 1,0 3.30,0a1.65,1.65 0 1,0 -3.30,0M596.4,408.6a1.65,1.65 0 1,0 3.30,0a1.65,1.65 0 1,0 -3.30,0M598.6,404.8a1.65,1.65 0 1,0 3.30,0a1.65,1.65 0 1,0 -3.30,0M601.9,400.0a1.65,1.65 0 1,0 3.30,0a1.65,1.65 0 1,0 -3.30,0M606.1,400.0a1.65,1.65 0 1,0 3.30,0a1.65,1.65 0 1,0 -3.30,0M608.7,397.4a1.65,1.65 0 1,0 3.30,0a1.65,1.65 0 1,0 -3.30,0M611.3,394.8a1.65,1.65 0 1,0 3.30,0a1.65,1.65 0 1,0 -3.30,0M613.9,392.2a1.65,1.65 0 1,0 3.30,0a1.65,1.65 0 1,0 -3.30,0M617.1,392.2a1.65,1.65 0 1,0 3.30,0a1.65,1.65 0 1,0 -3.30,0M620.4,392.2a1.65,1.65 0 1,0 3.30,0a1.65,1.65 0 1,0 -3.30,0M623.7,392.2a1.65,1.65 0 1,0 3.30,0a1.65,1.65 0 1,0 -3.30,0M626.9,392.2a1.65,1.65 0 1,0 3.30,0a1.65,1.65 0 1,0 -3.30,0M630.2,392.2a1.65,1.65 0 1,0 3.30,0a1.65,1.65 0 1,0 -3.30,0M633.5,392.2a1.65,1.65 0 1,0 3.30,0a1.65,1.65 0 1,0 -3.30,0M636.8,392.2a1.65,1.65 0 1,0 3.30,0a1.65,1.65 0 1,0 -3.30,0M639.0,388.5a1.65,1.65 0 1,0 3.30,0a1.65,1.65 0 1,0 -3.30,0M642.2,388.5a1.65,1.65 0 1,0 3.30,0a1.65,1.65 0 1,0 -3.30,0M645.5,388.5a1.65,1.65 0 1,0 3.30,0a1.65,1.65 0 1,0 -3.30,0M648.7,388.5a1.65,1.65 0 1,0 3.30,0a1.65,1.65 0 1,0 -3.30,0M652.0,388.5a1.65,1.65 0 1,0 3.30,0a1.65,1.65 0 1,0 -3.30,0"/>
<polyline points="619.60,284.20 653.00,284.20" fill="none" stroke="#3a6e8a" stroke-width="1.6" stroke-linejoin="round" stroke-miterlimit="30" stroke-linecap="round"/>
<line x1="545.2" y1="264.2" x2="552.3" y2="269.3" stroke="#2e6b8c" stroke-width="11.40" stroke-linecap="round"/>
<line x1="552.3" y1="269.3" x2="559.4" y2="277.4" stroke="#2e6b8c" stroke-width="11.40" stroke-linecap="round"/>
<line x1="559.4" y1="277.4" x2="563.4" y2="288.6" stroke="#2e6b8c" stroke-width="11.40" stroke-linecap="round"/>
<line x1="563.4" y1="288.6" x2="567.5" y2="302.8" stroke="#2e6b8c" stroke-width="11.20" stroke-linecap="round"/>
<line x1="567.5" y1="302.8" x2="572" y2="317" stroke="#2e6b8c" stroke-width="11.20" stroke-linecap="round"/>
<line x1="572" y1="317" x2="575" y2="330" stroke="#2e6b8c" stroke-width="10.80" stroke-linecap="round"/>
<line x1="575" y1="330" x2="577" y2="342" stroke="#2e6b8c" stroke-width="10.40" stroke-linecap="round"/>
<line x1="577" y1="342" x2="578" y2="357.6" stroke="#2e6b8c" stroke-width="10.40" stroke-linecap="round"/>
<line x1="578" y1="357.6" x2="582" y2="372" stroke="#2e6b8c" stroke-width="10.80" stroke-linecap="round"/>
<path fill="#2e6b8c" d="M537.95,264.20a7.25,7.25 0 1,0 14.50,0a7.25,7.25 0 1,0 -14.50,0M545.30,269.30a7.00,7.00 0 1,0 14.00,0a7.00,7.00 0 1,0 -14.00,0M552.15,277.40a7.25,7.25 0 1,0 14.50,0a7.25,7.25 0 1,0 -14.50,0M556.40,288.60a7.00,7.00 0 1,0 14.00,0a7.00,7.00 0 1,0 -14.00,0M558.45,295.70a7.00,7.00 0 1,0 14.00,0a7.00,7.00 0 1,0 -14.00,0M560.50,302.80a7.00,7.00 0 1,0 14.00,0a7.00,7.00 0 1,0 -14.00,0M562.75,309.90a7.00,7.00 0 1,0 14.00,0a7.00,7.00 0 1,0 -14.00,0M565.00,317.00a7.00,7.00 0 1,0 14.00,0a7.00,7.00 0 1,0 -14.00,0M566.75,323.50a6.75,6.75 0 1,0 13.50,0a6.75,6.75 0 1,0 -13.50,0M568.50,330.00a6.50,6.50 0 1,0 13.00,0a6.50,6.50 0 1,0 -13.00,0M570.50,342.00a6.50,6.50 0 1,0 13.00,0a6.50,6.50 0 1,0 -13.00,0M571.00,349.80a6.50,6.50 0 1,0 13.00,0a6.50,6.50 0 1,0 -13.00,0M571.50,357.60a6.50,6.50 0 1,0 13.00,0a6.50,6.50 0 1,0 -13.00,0M573.25,364.80a6.75,6.75 0 1,0 13.50,0a6.75,6.75 0 1,0 -13.50,0M575.00,372.00a7.00,7.00 0 1,0 14.00,0a7.00,7.00 0 1,0 -14.00,0"/>
<line x1="657.3" y1="263.4" x2="637.2" y2="262.5" stroke="#2e6b8c" stroke-width="10.68" stroke-linecap="round"/>
<line x1="637.2" y1="262.5" x2="626.8" y2="266.6" stroke="#2e6b8c" stroke-width="10.80" stroke-linecap="round"/>
<line x1="626.8" y1="266.6" x2="616.5" y2="269.7" stroke="#2e6b8c" stroke-width="11.20" stroke-linecap="round"/>
<line x1="616.5" y1="269.7" x2="611.3" y2="277" stroke="#2e6b8c" stroke-width="11.20" stroke-linecap="round"/>
<line x1="611.3" y1="277" x2="607" y2="286" stroke="#2e6b8c" stroke-width="11.20" stroke-linecap="round"/>
<line x1="607" y1="286" x2="604.5" y2="290" stroke="#2e6b8c" stroke-width="10.60" stroke-linecap="round"/>
<line x1="604.5" y1="290" x2="602.3" y2="300" stroke="#2e6b8c" stroke-width="10.00" stroke-linecap="round"/>
<line x1="602.3" y1="300" x2="600.9" y2="310" stroke="#2e6b8c" stroke-width="10.00" stroke-linecap="round"/>
<line x1="600.9" y1="310" x2="598.8" y2="320" stroke="#2e6b8c" stroke-width="9.80" stroke-linecap="round"/>
<line x1="598.8" y1="320" x2="595.8" y2="330" stroke="#2e6b8c" stroke-width="11.00" stroke-linecap="round"/>
<line x1="595.8" y1="330" x2="594" y2="340" stroke="#2e6b8c" stroke-width="12.40" stroke-linecap="round"/>
<line x1="594" y1="340" x2="591" y2="350" stroke="#2e6b8c" stroke-width="12.20" stroke-linecap="round"/>
<line x1="591" y1="350" x2="588" y2="362" stroke="#2e6b8c" stroke-width="11.60" stroke-linecap="round"/>
<line x1="588" y1="362" x2="586" y2="375" stroke="#2e6b8c" stroke-width="10.80" stroke-linecap="round"/>
<path fill="#2e6b8c" d="M650.45,263.40a6.85,6.85 0 1,0 13.70,0a6.85,6.85 0 1,0 -13.70,0M640.58,262.95a6.67,6.67 0 1,0 13.35,0a6.67,6.67 0 1,0 -13.35,0M630.70,262.50a6.50,6.50 0 1,0 13.00,0a6.50,6.50 0 1,0 -13.00,0M619.80,266.60a7.00,7.00 0 1,0 14.00,0a7.00,7.00 0 1,0 -14.00,0M609.50,269.70a7.00,7.00 0 1,0 14.00,0a7.00,7.00 0 1,0 -14.00,0M604.30,277.00a7.00,7.00 0 1,0 14.00,0a7.00,7.00 0 1,0 -14.00,0M600.00,286.00a7.00,7.00 0 1,0 14.00,0a7.00,7.00 0 1,0 -14.00,0M598.25,290.00a6.25,6.25 0 1,0 12.50,0a6.25,6.25 0 1,0 -12.50,0M596.05,300.00a6.25,6.25 0 1,0 12.50,0a6.25,6.25 0 1,0 -12.50,0M594.65,310.00a6.25,6.25 0 1,0 12.50,0a6.25,6.25 0 1,0 -12.50,0M592.80,320.00a6.00,6.00 0 1,0 12.00,0a6.00,6.00 0 1,0 -12.00,0M588.05,330.00a7.75,7.75 0 1,0 15.50,0a7.75,7.75 0 1,0 -15.50,0M586.25,340.00a7.75,7.75 0 1,0 15.50,0a7.75,7.75 0 1,0 -15.50,0M583.50,350.00a7.50,7.50 0 1,0 15.00,0a7.50,7.50 0 1,0 -15.00,0M581.00,362.00a7.00,7.00 0 1,0 14.00,0a7.00,7.00 0 1,0 -14.00,0M580.25,368.50a6.75,6.75 0 1,0 13.50,0a6.75,6.75 0 1,0 -13.50,0M579.50,375.00a6.50,6.50 0 1,0 13.00,0a6.50,6.50 0 1,0 -13.00,0"/>
<ellipse cx="584.2" cy="391" rx="8" ry="11.3" fill="#0c3a77"/>
<line x1="662.5" y1="268.5" x2="665.0" y2="268.5" stroke="#c8cdd2" stroke-width="0.9" stroke-linecap="round"/>
<line x1="665.0" y1="268.5" x2="668.5" y2="270.9" stroke="#c8cdd2" stroke-width="0.9" stroke-linecap="round"/>
<line x1="662.5" y1="273.3" x2="665.0" y2="273.3" stroke="#c8cdd2" stroke-width="0.9" stroke-linecap="round"/>
<line x1="665.0" y1="273.3" x2="668.5" y2="270.9" stroke="#c8cdd2" stroke-width="0.9" stroke-linecap="round"/>
<line x1="662.5" y1="282.9" x2="668.5" y2="282.9" stroke="#c8cdd2" stroke-width="0.9" stroke-linecap="round"/>
<line x1="668.5" y1="282.9" x2="672.0" y2="285.3" stroke="#c8cdd2" stroke-width="0.9" stroke-linecap="round"/>
<line x1="662.5" y1="287.7" x2="668.5" y2="287.7" stroke="#c8cdd2" stroke-width="0.9" stroke-linecap="round"/>
<line x1="668.5" y1="287.7" x2="672.0" y2="285.3" stroke="#c8cdd2" stroke-width="0.9" stroke-linecap="round"/>
<line x1="662.5" y1="292.5" x2="668.0" y2="292.5" stroke="#c8cdd2" stroke-width="0.9" stroke-linecap="round"/>
<line x1="668.0" y1="292.5" x2="671.5" y2="294.9" stroke="#c8cdd2" stroke-width="0.9" stroke-linecap="round"/>
<line x1="662.5" y1="297.3" x2="668.0" y2="297.3" stroke="#c8cdd2" stroke-width="0.9" stroke-linecap="round"/>
<line x1="668.0" y1="297.3" x2="671.5" y2="294.9" stroke="#c8cdd2" stroke-width="0.9" stroke-linecap="round"/>
<line x1="662.5" y1="302.1" x2="674.3" y2="302.1" stroke="#c8cdd2" stroke-width="0.9" stroke-linecap="round"/>
<line x1="674.3" y1="302.1" x2="677.8" y2="304.5" stroke="#c8cdd2" stroke-width="0.9" stroke-linecap="round"/>
<line x1="662.5" y1="306.9" x2="674.3" y2="306.9" stroke="#c8cdd2" stroke-width="0.9" stroke-linecap="round"/>
<line x1="674.3" y1="306.9" x2="677.8" y2="304.5" stroke="#c8cdd2" stroke-width="0.9" stroke-linecap="round"/>
<line x1="662.5" y1="321.3" x2="670.6" y2="321.3" stroke="#c8cdd2" stroke-width="0.9" stroke-linecap="round"/>
<line x1="670.6" y1="321.3" x2="674.1" y2="323.7" stroke="#c8cdd2" stroke-width="0.9" stroke-linecap="round"/>
<line x1="662.5" y1="326.1" x2="670.6" y2="326.1" stroke="#9fb2c0" stroke-width="0.9" stroke-linecap="round"/>
<line x1="670.6" y1="326.1" x2="674.1" y2="323.7" stroke="#9fb2c0" stroke-width="0.9" stroke-linecap="round"/>
<line x1="662.5" y1="330.9" x2="677.1" y2="330.9" stroke="#c8cdd2" stroke-width="0.9" stroke-linecap="round"/>
<line x1="677.1" y1="330.9" x2="680.6" y2="333.3" stroke="#c8cdd2" stroke-width="0.9" stroke-linecap="round"/>
<line x1="662.5" y1="335.7" x2="677.1" y2="335.7" stroke="#c8cdd2" stroke-width="0.9" stroke-linecap="round"/>
<line x1="677.1" y1="335.7" x2="680.6" y2="333.3" stroke="#c8cdd2" stroke-width="0.9" stroke-linecap="round"/>
<line x1="662.5" y1="340.5" x2="674.7" y2="340.5" stroke="#9fb2c0" stroke-width="0.9" stroke-linecap="round"/>
<line x1="674.7" y1="340.5" x2="678.2" y2="342.9" stroke="#9fb2c0" stroke-width="0.9" stroke-linecap="round"/>
<line x1="662.5" y1="345.3" x2="674.7" y2="345.3" stroke="#c8cdd2" stroke-width="0.9" stroke-linecap="round"/>
<line x1="674.7" y1="345.3" x2="678.2" y2="342.9" stroke="#c8cdd2" stroke-width="0.9" stroke-linecap="round"/>
<line x1="662.5" y1="350.1" x2="670.4" y2="350.1" stroke="#c8cdd2" stroke-width="0.9" stroke-linecap="round"/>
<line x1="670.4" y1="350.1" x2="673.9" y2="352.5" stroke="#c8cdd2" stroke-width="0.9" stroke-linecap="round"/>
<line x1="662.5" y1="354.9" x2="670.4" y2="354.9" stroke="#c8cdd2" stroke-width="0.9" stroke-linecap="round"/>
<line x1="670.4" y1="354.9" x2="673.9" y2="352.5" stroke="#c8cdd2" stroke-width="0.9" stroke-linecap="round"/>
<line x1="662.5" y1="364.5" x2="671.2" y2="364.5" stroke="#c8cdd2" stroke-width="0.9" stroke-linecap="round"/>
<line x1="671.2" y1="364.5" x2="674.7" y2="366.9" stroke="#c8cdd2" stroke-width="0.9" stroke-linecap="round"/>
<line x1="662.5" y1="369.3" x2="671.2" y2="369.3" stroke="#9fb2c0" stroke-width="0.9" stroke-linecap="round"/>
<line x1="671.2" y1="369.3" x2="674.7" y2="366.9" stroke="#9fb2c0" stroke-width="0.9" stroke-linecap="round"/>
<line x1="662.5" y1="374.1" x2="671.1" y2="374.1" stroke="#c8cdd2" stroke-width="0.9" stroke-linecap="round"/>
<line x1="671.1" y1="374.1" x2="674.6" y2="376.5" stroke="#c8cdd2" stroke-width="0.9" stroke-linecap="round"/>
<line x1="662.5" y1="378.9" x2="671.1" y2="378.9" stroke="#9fb2c0" stroke-width="0.9" stroke-linecap="round"/>
<line x1="671.1" y1="378.9" x2="674.6" y2="376.5" stroke="#9fb2c0" stroke-width="0.9" stroke-linecap="round"/>
<line x1="662.5" y1="383.7" x2="676.2" y2="383.7" stroke="#c8cdd2" stroke-width="0.9" stroke-linecap="round"/>
<line x1="676.2" y1="383.7" x2="679.7" y2="386.1" stroke="#c8cdd2" stroke-width="0.9" stroke-linecap="round"/>
<line x1="662.5" y1="388.5" x2="676.2" y2="388.5" stroke="#c8cdd2" stroke-width="0.9" stroke-linecap="round"/>
<line x1="676.2" y1="388.5" x2="679.7" y2="386.1" stroke="#c8cdd2" stroke-width="0.9" stroke-linecap="round"/>
<line x1="662.5" y1="393.3" x2="678.5" y2="393.3" stroke="#9fb2c0" stroke-width="0.9" stroke-linecap="round"/>
<line x1="678.5" y1="393.3" x2="682.0" y2="395.7" stroke="#9fb2c0" stroke-width="0.9" stroke-linecap="round"/>
<line x1="662.5" y1="398.1" x2="678.5" y2="398.1" stroke="#c8cdd2" stroke-width="0.9" stroke-linecap="round"/>
<line x1="678.5" y1="398.1" x2="682.0" y2="395.7" stroke="#c8cdd2" stroke-width="0.9" stroke-linecap="round"/>
<line x1="662.5" y1="402.9" x2="672.0" y2="402.9" stroke="#c8cdd2" stroke-width="0.9" stroke-linecap="round"/>
<line x1="672.0" y1="402.9" x2="675.5" y2="405.3" stroke="#c8cdd2" stroke-width="0.9" stroke-linecap="round"/>
<line x1="662.5" y1="407.7" x2="672.0" y2="407.7" stroke="#c8cdd2" stroke-width="0.9" stroke-linecap="round"/>
<line x1="672.0" y1="407.7" x2="675.5" y2="405.3" stroke="#c8cdd2" stroke-width="0.9" stroke-linecap="round"/>
<line x1="662.5" y1="412.5" x2="673.4" y2="412.5" stroke="#c8cdd2" stroke-width="0.9" stroke-linecap="round"/>
<line x1="673.4" y1="412.5" x2="676.9" y2="414.9" stroke="#c8cdd2" stroke-width="0.9" stroke-linecap="round"/>
<line x1="662.5" y1="417.3" x2="673.4" y2="417.3" stroke="#c8cdd2" stroke-width="0.9" stroke-linecap="round"/>
<line x1="673.4" y1="417.3" x2="676.9" y2="414.9" stroke="#c8cdd2" stroke-width="0.9" stroke-linecap="round"/>
<line x1="662.5" y1="426.9" x2="679.2" y2="426.9" stroke="#c8cdd2" stroke-width="0.9" stroke-linecap="round"/>
<line x1="679.2" y1="426.9" x2="682.7" y2="429.3" stroke="#c8cdd2" stroke-width="0.9" stroke-linecap="round"/>
<line x1="662.5" y1="431.7" x2="679.2" y2="431.7" stroke="#c8cdd2" stroke-width="0.9" stroke-linecap="round"/>
<line x1="679.2" y1="431.7" x2="682.7" y2="429.3" stroke="#c8cdd2" stroke-width="0.9" stroke-linecap="round"/>
<line x1="668.5" y1="270.9" x2="673.4" y2="270.9" stroke="#c8cdd2" stroke-width="0.9" stroke-linecap="round"/>
<line x1="673.4" y1="270.9" x2="676.9" y2="274.5" stroke="#c8cdd2" stroke-width="0.9" stroke-linecap="round"/>
<line x1="662.5" y1="278.1" x2="673.4" y2="278.1" stroke="#c8cdd2" stroke-width="0.9" stroke-linecap="round"/>
<line x1="673.4" y1="278.1" x2="676.9" y2="274.5" stroke="#c8cdd2" stroke-width="0.9" stroke-linecap="round"/>
<line x1="677.8" y1="304.5" x2="680.3" y2="304.5" stroke="#c8cdd2" stroke-width="0.9" stroke-linecap="round"/>
<line x1="680.3" y1="304.5" x2="683.8" y2="308.1" stroke="#c8cdd2" stroke-width="0.9" stroke-linecap="round"/>
<line x1="662.5" y1="311.7" x2="680.3" y2="311.7" stroke="#c8cdd2" stroke-width="0.9" stroke-linecap="round"/>
<line x1="680.3" y1="311.7" x2="683.8" y2="308.1" stroke="#c8cdd2" stroke-width="0.9" stroke-linecap="round"/>
<line x1="662.5" y1="316.5" x2="676.7" y2="316.5" stroke="#9fb2c0" stroke-width="0.9" stroke-linecap="round"/>
<line x1="676.7" y1="316.5" x2="680.2" y2="320.1" stroke="#9fb2c0" stroke-width="0.9" stroke-linecap="round"/>
<line x1="674.1" y1="323.7" x2="676.7" y2="323.7" stroke="#9fb2c0" stroke-width="0.9" stroke-linecap="round"/>
<line x1="676.7" y1="323.7" x2="680.2" y2="320.1" stroke="#9fb2c0" stroke-width="0.9" stroke-linecap="round"/>
<line x1="673.9" y1="352.5" x2="681.0" y2="352.5" stroke="#c8cdd2" stroke-width="0.9" stroke-linecap="round"/>
<line x1="681.0" y1="352.5" x2="684.5" y2="356.1" stroke="#c8cdd2" stroke-width="0.9" stroke-linecap="round"/>
<line x1="662.5" y1="359.7" x2="681.0" y2="359.7" stroke="#c8cdd2" stroke-width="0.9" stroke-linecap="round"/>
<line x1="681.0" y1="359.7" x2="684.5" y2="356.1" stroke="#c8cdd2" stroke-width="0.9" stroke-linecap="round"/>
<line x1="676.9" y1="414.9" x2="679.4" y2="414.9" stroke="#c8cdd2" stroke-width="0.9" stroke-linecap="round"/>
<line x1="679.4" y1="414.9" x2="682.9" y2="418.5" stroke="#c8cdd2" stroke-width="0.9" stroke-linecap="round"/>
<line x1="662.5" y1="422.1" x2="679.4" y2="422.1" stroke="#c8cdd2" stroke-width="0.9" stroke-linecap="round"/>
<line x1="679.4" y1="422.1" x2="682.9" y2="418.5" stroke="#c8cdd2" stroke-width="0.9" stroke-linecap="round"/>
<line x1="676.9" y1="274.5" x2="683.9" y2="274.5" stroke="#c8cdd2" stroke-width="0.9" stroke-linecap="round"/>
<line x1="672.0" y1="285.3" x2="687.8" y2="285.3" stroke="#c8cdd2" stroke-width="0.9" stroke-linecap="round"/>
<line x1="671.5" y1="294.9" x2="690.8" y2="294.9" stroke="#c8cdd2" stroke-width="0.9" stroke-linecap="round"/>
<line x1="683.8" y1="308.1" x2="693.6" y2="308.1" stroke="#c8cdd2" stroke-width="0.9" stroke-linecap="round"/>
<line x1="680.2" y1="320.1" x2="695.1" y2="320.1" stroke="#9fb2c0" stroke-width="0.9" stroke-linecap="round"/>
<line x1="680.6" y1="333.3" x2="696.3" y2="333.3" stroke="#c8cdd2" stroke-width="0.9" stroke-linecap="round"/>
<line x1="678.2" y1="342.9" x2="697.2" y2="342.9" stroke="#c8cdd2" stroke-width="0.9" stroke-linecap="round"/>
<line x1="684.5" y1="356.1" x2="698.3" y2="356.1" stroke="#c8cdd2" stroke-width="0.9" stroke-linecap="round"/>
<line x1="674.7" y1="366.9" x2="699.6" y2="366.9" stroke="#c8cdd2" stroke-width="0.9" stroke-linecap="round"/>
<line x1="674.6" y1="376.5" x2="700.9" y2="376.5" stroke="#9fb2c0" stroke-width="0.9" stroke-linecap="round"/>
<line x1="679.7" y1="386.1" x2="702.2" y2="386.1" stroke="#c8cdd2" stroke-width="0.9" stroke-linecap="round"/>
<line x1="682.0" y1="395.7" x2="703.5" y2="395.7" stroke="#9fb2c0" stroke-width="0.9" stroke-linecap="round"/>
<line x1="675.5" y1="405.3" x2="702.0" y2="405.3" stroke="#c8cdd2" stroke-width="0.9" stroke-linecap="round"/>
<line x1="682.9" y1="418.5" x2="702.0" y2="418.5" stroke="#c8cdd2" stroke-width="0.9" stroke-linecap="round"/>
<line x1="682.7" y1="429.3" x2="702.0" y2="429.3" stroke="#c8cdd2" stroke-width="0.9" stroke-linecap="round"/>
<line x1="772.5" y1="273.3" x2="755.4" y2="273.3" stroke="#c8cdd2" stroke-width="0.9" stroke-linecap="round"/>
<line x1="755.4" y1="273.3" x2="751.9" y2="275.7" stroke="#c8cdd2" stroke-width="0.9" stroke-linecap="round"/>
<line x1="772.5" y1="278.1" x2="755.4" y2="278.1" stroke="#c8cdd2" stroke-width="0.9" stroke-linecap="round"/>
<line x1="755.4" y1="278.1" x2="751.9" y2="275.7" stroke="#c8cdd2" stroke-width="0.9" stroke-linecap="round"/>
<line x1="772.5" y1="282.9" x2="752.9" y2="282.9" stroke="#c8cdd2" stroke-width="0.9" stroke-linecap="round"/>
<line x1="752.9" y1="282.9" x2="749.4" y2="285.3" stroke="#c8cdd2" stroke-width="0.9" stroke-linecap="round"/>
<line x1="772.5" y1="287.7" x2="752.9" y2="287.7" stroke="#c8cdd2" stroke-width="0.9" stroke-linecap="round"/>
<line x1="752.9" y1="287.7" x2="749.4" y2="285.3" stroke="#c8cdd2" stroke-width="0.9" stroke-linecap="round"/>
<line x1="772.5" y1="292.5" x2="747.2" y2="292.5" stroke="#c8cdd2" stroke-width="0.9" stroke-linecap="round"/>
<line x1="747.2" y1="292.5" x2="743.7" y2="294.9" stroke="#c8cdd2" stroke-width="0.9" stroke-linecap="round"/>
<line x1="772.5" y1="297.3" x2="747.2" y2="297.3" stroke="#c8cdd2" stroke-width="0.9" stroke-linecap="round"/>
<line x1="747.2" y1="297.3" x2="743.7" y2="294.9" stroke="#c8cdd2" stroke-width="0.9" stroke-linecap="round"/>
<line x1="772.5" y1="302.1" x2="751.4" y2="302.1" stroke="#c8cdd2" stroke-width="0.9" stroke-linecap="round"/>
<line x1="751.4" y1="302.1" x2="747.9" y2="304.5" stroke="#c8cdd2" stroke-width="0.9" stroke-linecap="round"/>
<line x1="772.5" y1="306.9" x2="751.4" y2="306.9" stroke="#c8cdd2" stroke-width="0.9" stroke-linecap="round"/>
<line x1="751.4" y1="306.9" x2="747.9" y2="304.5" stroke="#c8cdd2" stroke-width="0.9" stroke-linecap="round"/>
<line x1="772.5" y1="311.7" x2="753.4" y2="311.7" stroke="#c8cdd2" stroke-width="0.9" stroke-linecap="round"/>
<line x1="753.4" y1="311.7" x2="749.9" y2="314.1" stroke="#c8cdd2" stroke-width="0.9" stroke-linecap="round"/>
<line x1="772.5" y1="316.5" x2="753.4" y2="316.5" stroke="#c8cdd2" stroke-width="0.9" stroke-linecap="round"/>
<line x1="753.4" y1="316.5" x2="749.9" y2="314.1" stroke="#c8cdd2" stroke-width="0.9" stroke-linecap="round"/>
<line x1="772.5" y1="321.3" x2="757.4" y2="321.3" stroke="#c8cdd2" stroke-width="0.9" stroke-linecap="round"/>
<line x1="757.4" y1="321.3" x2="753.9" y2="323.7" stroke="#c8cdd2" stroke-width="0.9" stroke-linecap="round"/>
<line x1="772.5" y1="326.1" x2="757.4" y2="326.1" stroke="#c8cdd2" stroke-width="0.9" stroke-linecap="round"/>
<line x1="757.4" y1="326.1" x2="753.9" y2="323.7" stroke="#c8cdd2" stroke-width="0.9" stroke-linecap="round"/>
<line x1="772.5" y1="330.9" x2="749.6" y2="330.9" stroke="#c8cdd2" stroke-width="0.9" stroke-linecap="round"/>
<line x1="749.6" y1="330.9" x2="746.1" y2="333.3" stroke="#c8cdd2" stroke-width="0.9" stroke-linecap="round"/>
<line x1="772.5" y1="335.7" x2="749.6" y2="335.7" stroke="#c8cdd2" stroke-width="0.9" stroke-linecap="round"/>
<line x1="749.6" y1="335.7" x2="746.1" y2="333.3" stroke="#c8cdd2" stroke-width="0.9" stroke-linecap="round"/>
<line x1="772.5" y1="340.5" x2="750.5" y2="340.5" stroke="#c8cdd2" stroke-width="0.9" stroke-linecap="round"/>
<line x1="750.5" y1="340.5" x2="747.0" y2="342.9" stroke="#c8cdd2" stroke-width="0.9" stroke-linecap="round"/>
<line x1="772.5" y1="345.3" x2="750.5" y2="345.3" stroke="#c8cdd2" stroke-width="0.9" stroke-linecap="round"/>
<line x1="750.5" y1="345.3" x2="747.0" y2="342.9" stroke="#c8cdd2" stroke-width="0.9" stroke-linecap="round"/>
<line x1="772.5" y1="350.1" x2="754.8" y2="350.1" stroke="#c8cdd2" stroke-width="0.9" stroke-linecap="round"/>
<line x1="754.8" y1="350.1" x2="751.3" y2="352.5" stroke="#c8cdd2" stroke-width="0.9" stroke-linecap="round"/>
<line x1="772.5" y1="354.9" x2="754.8" y2="354.9" stroke="#c8cdd2" stroke-width="0.9" stroke-linecap="round"/>
<line x1="754.8" y1="354.9" x2="751.3" y2="352.5" stroke="#c8cdd2" stroke-width="0.9" stroke-linecap="round"/>
<line x1="772.5" y1="359.7" x2="746.3" y2="359.7" stroke="#c8cdd2" stroke-width="0.9" stroke-linecap="round"/>
<line x1="746.3" y1="359.7" x2="742.8" y2="362.1" stroke="#c8cdd2" stroke-width="0.9" stroke-linecap="round"/>
<line x1="772.5" y1="364.5" x2="746.3" y2="364.5" stroke="#c8cdd2" stroke-width="0.9" stroke-linecap="round"/>
<line x1="746.3" y1="364.5" x2="742.8" y2="362.1" stroke="#c8cdd2" stroke-width="0.9" stroke-linecap="round"/>
<line x1="772.5" y1="374.1" x2="750.1" y2="374.1" stroke="#9fb2c0" stroke-width="0.9" stroke-linecap="round"/>
<line x1="750.1" y1="374.1" x2="746.6" y2="376.5" stroke="#9fb2c0" stroke-width="0.9" stroke-linecap="round"/>
<line x1="772.5" y1="378.9" x2="750.1" y2="378.9" stroke="#c8cdd2" stroke-width="0.9" stroke-linecap="round"/>
<line x1="750.1" y1="378.9" x2="746.6" y2="376.5" stroke="#c8cdd2" stroke-width="0.9" stroke-linecap="round"/>
<line x1="772.5" y1="383.7" x2="745.0" y2="383.7" stroke="#c8cdd2" stroke-width="0.9" stroke-linecap="round"/>
<line x1="745.0" y1="383.7" x2="741.5" y2="386.1" stroke="#c8cdd2" stroke-width="0.9" stroke-linecap="round"/>
<line x1="772.5" y1="388.5" x2="745.0" y2="388.5" stroke="#c8cdd2" stroke-width="0.9" stroke-linecap="round"/>
<line x1="745.0" y1="388.5" x2="741.5" y2="386.1" stroke="#c8cdd2" stroke-width="0.9" stroke-linecap="round"/>
<line x1="772.5" y1="393.3" x2="745.8" y2="393.3" stroke="#c8cdd2" stroke-width="0.9" stroke-linecap="round"/>
<line x1="745.8" y1="393.3" x2="742.3" y2="395.7" stroke="#c8cdd2" stroke-width="0.9" stroke-linecap="round"/>
<line x1="772.5" y1="398.1" x2="745.8" y2="398.1" stroke="#c8cdd2" stroke-width="0.9" stroke-linecap="round"/>
<line x1="745.8" y1="398.1" x2="742.3" y2="395.7" stroke="#c8cdd2" stroke-width="0.9" stroke-linecap="round"/>
<line x1="772.5" y1="402.9" x2="749.2" y2="402.9" stroke="#c8cdd2" stroke-width="0.9" stroke-linecap="round"/>
<line x1="749.2" y1="402.9" x2="745.7" y2="405.3" stroke="#c8cdd2" stroke-width="0.9" stroke-linecap="round"/>
<line x1="772.5" y1="407.7" x2="749.2" y2="407.7" stroke="#c8cdd2" stroke-width="0.9" stroke-linecap="round"/>
<line x1="749.2" y1="407.7" x2="745.7" y2="405.3" stroke="#c8cdd2" stroke-width="0.9" stroke-linecap="round"/>
<line x1="772.5" y1="412.5" x2="746.5" y2="412.5" stroke="#9fb2c0" stroke-width="0.9" stroke-linecap="round"/>
<line x1="746.5" y1="412.5" x2="743.0" y2="414.9" stroke="#9fb2c0" stroke-width="0.9" stroke-linecap="round"/>
<line x1="772.5" y1="417.3" x2="746.5" y2="417.3" stroke="#c8cdd2" stroke-width="0.9" stroke-linecap="round"/>
<line x1="746.5" y1="417.3" x2="743.0" y2="414.9" stroke="#c8cdd2" stroke-width="0.9" stroke-linecap="round"/>
<line x1="772.5" y1="422.1" x2="750.9" y2="422.1" stroke="#c8cdd2" stroke-width="0.9" stroke-linecap="round"/>
<line x1="750.9" y1="422.1" x2="747.4" y2="424.5" stroke="#c8cdd2" stroke-width="0.9" stroke-linecap="round"/>
<line x1="772.5" y1="426.9" x2="750.9" y2="426.9" stroke="#c8cdd2" stroke-width="0.9" stroke-linecap="round"/>
<line x1="750.9" y1="426.9" x2="747.4" y2="424.5" stroke="#c8cdd2" stroke-width="0.9" stroke-linecap="round"/>
<line x1="772.5" y1="268.5" x2="741.2" y2="268.5" stroke="#c8cdd2" stroke-width="0.9" stroke-linecap="round"/>
<line x1="741.2" y1="268.5" x2="737.7" y2="272.1" stroke="#c8cdd2" stroke-width="0.9" stroke-linecap="round"/>
<line x1="751.9" y1="275.7" x2="741.2" y2="275.7" stroke="#c8cdd2" stroke-width="0.9" stroke-linecap="round"/>
<line x1="741.2" y1="275.7" x2="737.7" y2="272.1" stroke="#c8cdd2" stroke-width="0.9" stroke-linecap="round"/>
<line x1="742.8" y1="362.1" x2="726.7" y2="362.1" stroke="#c8cdd2" stroke-width="0.9" stroke-linecap="round"/>
<line x1="726.7" y1="362.1" x2="723.2" y2="365.7" stroke="#c8cdd2" stroke-width="0.9" stroke-linecap="round"/>
<line x1="772.5" y1="369.3" x2="726.7" y2="369.3" stroke="#c8cdd2" stroke-width="0.9" stroke-linecap="round"/>
<line x1="726.7" y1="369.3" x2="723.2" y2="365.7" stroke="#c8cdd2" stroke-width="0.9" stroke-linecap="round"/>
<line x1="747.4" y1="424.5" x2="732.1" y2="424.5" stroke="#c8cdd2" stroke-width="0.9" stroke-linecap="round"/>
<line x1="732.1" y1="424.5" x2="728.6" y2="428.1" stroke="#c8cdd2" stroke-width="0.9" stroke-linecap="round"/>
<line x1="772.5" y1="431.7" x2="732.1" y2="431.7" stroke="#9fb2c0" stroke-width="0.9" stroke-linecap="round"/>
<line x1="732.1" y1="431.7" x2="728.6" y2="428.1" stroke="#9fb2c0" stroke-width="0.9" stroke-linecap="round"/>
<line x1="737.7" y1="272.1" x2="723.0" y2="272.1" stroke="#c8cdd2" stroke-width="0.9" stroke-linecap="round"/>
<line x1="749.4" y1="285.3" x2="719.1" y2="285.3" stroke="#c8cdd2" stroke-width="0.9" stroke-linecap="round"/>
<line x1="743.7" y1="294.9" x2="717.8" y2="294.9" stroke="#c8cdd2" stroke-width="0.9" stroke-linecap="round"/>
<line x1="747.9" y1="304.5" x2="716.5" y2="304.5" stroke="#c8cdd2" stroke-width="0.9" stroke-linecap="round"/>
<line x1="749.9" y1="314.1" x2="715.1" y2="314.1" stroke="#c8cdd2" stroke-width="0.9" stroke-linecap="round"/>
<line x1="753.9" y1="323.7" x2="713.8" y2="323.7" stroke="#c8cdd2" stroke-width="0.9" stroke-linecap="round"/>
<line x1="746.1" y1="333.3" x2="712.4" y2="333.3" stroke="#c8cdd2" stroke-width="0.9" stroke-linecap="round"/>
<line x1="747.0" y1="342.9" x2="711.2" y2="342.9" stroke="#c8cdd2" stroke-width="0.9" stroke-linecap="round"/>
<line x1="751.3" y1="352.5" x2="710.0" y2="352.5" stroke="#c8cdd2" stroke-width="0.9" stroke-linecap="round"/>
<line x1="723.2" y1="365.7" x2="708.4" y2="365.7" stroke="#c8cdd2" stroke-width="0.9" stroke-linecap="round"/>
<line x1="746.6" y1="376.5" x2="706.7" y2="376.5" stroke="#9fb2c0" stroke-width="0.9" stroke-linecap="round"/>
<line x1="741.5" y1="386.1" x2="705.2" y2="386.1" stroke="#c8cdd2" stroke-width="0.9" stroke-linecap="round"/>
<line x1="742.3" y1="395.7" x2="703.7" y2="395.7" stroke="#c8cdd2" stroke-width="0.9" stroke-linecap="round"/>
<line x1="745.7" y1="405.3" x2="706.0" y2="405.3" stroke="#c8cdd2" stroke-width="0.9" stroke-linecap="round"/>
<line x1="743.0" y1="414.9" x2="706.0" y2="414.9" stroke="#c8cdd2" stroke-width="0.9" stroke-linecap="round"/>
<line x1="728.6" y1="428.1" x2="706.0" y2="428.1" stroke="#c8cdd2" stroke-width="0.9" stroke-linecap="round"/>
<polyline points="663.00,280.60 669.80,280.60 674.70,273.70" fill="none" stroke="#2e6a8a" stroke-width="2" stroke-linejoin="round" stroke-miterlimit="30" stroke-linecap="round"/>
<path fill="#2e6a8a" d="M661.6,280.6a1.35,1.35 0 1,0 2.70,0a1.35,1.35 0 1,0 -2.70,0M665.0,280.6a1.35,1.35 0 1,0 2.70,0a1.35,1.35 0 1,0 -2.70,0M668.4,280.6a1.35,1.35 0 1,0 2.70,0a1.35,1.35 0 1,0 -2.70,0M670.9,277.1a1.35,1.35 0 1,0 2.70,0a1.35,1.35 0 1,0 -2.70,0M673.4,273.7a1.35,1.35 0 1,0 2.70,0a1.35,1.35 0 1,0 -2.70,0"/>
<polyline points="663.00,307.10 674.70,307.10 679.70,312.00 686.50,312.00 690.50,300.20" fill="none" stroke="#2e6a8a" stroke-width="2" stroke-linejoin="round" stroke-miterlimit="30" stroke-linecap="round"/>
<path fill="#2e6a8a" d="M661.6,307.1a1.35,1.35 0 1,0 2.70,0a1.35,1.35 0 1,0 -2.70,0M665.5,307.1a1.35,1.35 0 1,0 2.70,0a1.35,1.35 0 1,0 -2.70,0M669.5,307.1a1.35,1.35 0 1,0 2.70,0a1.35,1.35 0 1,0 -2.70,0M673.4,307.1a1.35,1.35 0 1,0 2.70,0a1.35,1.35 0 1,0 -2.70,0M675.9,309.6a1.35,1.35 0 1,0 2.70,0a1.35,1.35 0 1,0 -2.70,0M678.4,312.0a1.35,1.35 0 1,0 2.70,0a1.35,1.35 0 1,0 -2.70,0M681.8,312.0a1.35,1.35 0 1,0 2.70,0a1.35,1.35 0 1,0 -2.70,0M685.1,312.0a1.35,1.35 0 1,0 2.70,0a1.35,1.35 0 1,0 -2.70,0M686.5,308.1a1.35,1.35 0 1,0 2.70,0a1.35,1.35 0 1,0 -2.70,0M687.8,304.1a1.35,1.35 0 1,0 2.70,0a1.35,1.35 0 1,0 -2.70,0M689.1,300.2a1.35,1.35 0 1,0 2.70,0a1.35,1.35 0 1,0 -2.70,0"/>
<line x1="663" y1="324.8" x2="667.9" y2="325.8" stroke="#2e6b8c" stroke-width="3.69" stroke-linecap="round"/>
<line x1="667.9" y1="325.8" x2="671.8" y2="329.7" stroke="#2e6b8c" stroke-width="3.28" stroke-linecap="round"/>
<line x1="671.8" y1="329.7" x2="679.7" y2="329.3" stroke="#2e6b8c" stroke-width="3.28" stroke-linecap="round"/>
<line x1="679.7" y1="329.3" x2="683.6" y2="335.6" stroke="#2e6b8c" stroke-width="3.28" stroke-linecap="round"/>
<line x1="683.6" y1="335.6" x2="686.2" y2="347.6" stroke="#2e6b8c" stroke-width="3.07" stroke-linecap="round"/>
<line x1="686.2" y1="347.6" x2="690.3" y2="349.7" stroke="#2e6b8c" stroke-width="2.87" stroke-linecap="round"/>
<line x1="690.3" y1="349.7" x2="697" y2="360" stroke="#2e6b8c" stroke-width="3.07" stroke-linecap="round"/>
<path fill="#2e6b8c" d="M660.50,324.80a2.50,2.50 0 1,0 5.00,0a2.50,2.50 0 1,0 -5.00,0M663.20,325.30a2.25,2.25 0 1,0 4.50,0a2.25,2.25 0 1,0 -4.50,0M665.90,325.80a2.00,2.00 0 1,0 4.00,0a2.00,2.00 0 1,0 -4.00,0M667.85,327.75a2.00,2.00 0 1,0 4.00,0a2.00,2.00 0 1,0 -4.00,0M669.80,329.70a2.00,2.00 0 1,0 4.00,0a2.00,2.00 0 1,0 -4.00,0M672.43,329.57a2.00,2.00 0 1,0 4.00,0a2.00,2.00 0 1,0 -4.00,0M675.07,329.43a2.00,2.00 0 1,0 4.00,0a2.00,2.00 0 1,0 -4.00,0M677.70,329.30a2.00,2.00 0 1,0 4.00,0a2.00,2.00 0 1,0 -4.00,0M679.00,331.40a2.00,2.00 0 1,0 4.00,0a2.00,2.00 0 1,0 -4.00,0M680.30,333.50a2.00,2.00 0 1,0 4.00,0a2.00,2.00 0 1,0 -4.00,0M681.60,335.60a2.00,2.00 0 1,0 4.00,0a2.00,2.00 0 1,0 -4.00,0M682.17,338.00a1.95,1.95 0 1,0 3.90,0a1.95,1.95 0 1,0 -3.90,0M682.74,340.40a1.90,1.90 0 1,0 3.80,0a1.90,1.90 0 1,0 -3.80,0M683.31,342.80a1.85,1.85 0 1,0 3.70,0a1.85,1.85 0 1,0 -3.70,0M683.88,345.20a1.80,1.80 0 1,0 3.60,0a1.80,1.80 0 1,0 -3.60,0M684.45,347.60a1.75,1.75 0 1,0 3.50,0a1.75,1.75 0 1,0 -3.50,0M686.50,348.65a1.75,1.75 0 1,0 3.50,0a1.75,1.75 0 1,0 -3.50,0M688.55,349.70a1.75,1.75 0 1,0 3.50,0a1.75,1.75 0 1,0 -3.50,0M689.84,351.76a1.80,1.80 0 1,0 3.60,0a1.80,1.80 0 1,0 -3.60,0M691.13,353.82a1.85,1.85 0 1,0 3.70,0a1.85,1.85 0 1,0 -3.70,0M692.42,355.88a1.90,1.90 0 1,0 3.80,0a1.90,1.90 0 1,0 -3.80,0M693.71,357.94a1.95,1.95 0 1,0 3.90,0a1.95,1.95 0 1,0 -3.90,0M695.00,360.00a2.00,2.00 0 1,0 4.00,0a2.00,2.00 0 1,0 -4.00,0"/>
<line x1="711.8" y1="399" x2="716.2" y2="399" stroke="#2e6b8c" stroke-width="2.87" stroke-linecap="round"/>
<line x1="716.2" y1="399" x2="719.5" y2="389.1" stroke="#2e6b8c" stroke-width="2.87" stroke-linecap="round"/>
<line x1="719.5" y1="389.1" x2="723.8" y2="380.4" stroke="#2e6b8c" stroke-width="2.87" stroke-linecap="round"/>
<line x1="723.8" y1="380.4" x2="730.4" y2="379.3" stroke="#2e6b8c" stroke-width="2.87" stroke-linecap="round"/>
<line x1="730.4" y1="379.3" x2="731.5" y2="376" stroke="#2e6b8c" stroke-width="2.87" stroke-linecap="round"/>
<line x1="731.5" y1="376" x2="765.3" y2="376" stroke="#2e6b8c" stroke-width="2.87" stroke-linecap="round"/>
<line x1="765.3" y1="376" x2="768.6" y2="373.8" stroke="#2e6b8c" stroke-width="2.87" stroke-linecap="round"/>
<line x1="768.6" y1="373.8" x2="773" y2="373.8" stroke="#2e6b8c" stroke-width="2.87" stroke-linecap="round"/>
<path fill="#2e6b8c" d="M710.05,399.00a1.75,1.75 0 1,0 3.50,0a1.75,1.75 0 1,0 -3.50,0M712.25,399.00a1.75,1.75 0 1,0 3.50,0a1.75,1.75 0 1,0 -3.50,0M714.45,399.00a1.75,1.75 0 1,0 3.50,0a1.75,1.75 0 1,0 -3.50,0M715.28,396.52a1.75,1.75 0 1,0 3.50,0a1.75,1.75 0 1,0 -3.50,0M716.10,394.05a1.75,1.75 0 1,0 3.50,0a1.75,1.75 0 1,0 -3.50,0M716.92,391.58a1.75,1.75 0 1,0 3.50,0a1.75,1.75 0 1,0 -3.50,0M717.75,389.10a1.75,1.75 0 1,0 3.50,0a1.75,1.75 0 1,0 -3.50,0M718.83,386.93a1.75,1.75 0 1,0 3.50,0a1.75,1.75 0 1,0 -3.50,0M719.90,384.75a1.75,1.75 0 1,0 3.50,0a1.75,1.75 0 1,0 -3.50,0M720.97,382.57a1.75,1.75 0 1,0 3.50,0a1.75,1.75 0 1,0 -3.50,0M722.05,380.40a1.75,1.75 0 1,0 3.50,0a1.75,1.75 0 1,0 -3.50,0M724.25,380.03a1.75,1.75 0 1,0 3.50,0a1.75,1.75 0 1,0 -3.50,0M726.45,379.67a1.75,1.75 0 1,0 3.50,0a1.75,1.75 0 1,0 -3.50,0M728.65,379.30a1.75,1.75 0 1,0 3.50,0a1.75,1.75 0 1,0 -3.50,0M729.20,377.65a1.75,1.75 0 1,0 3.50,0a1.75,1.75 0 1,0 -3.50,0M729.75,376.00a1.75,1.75 0 1,0 3.50,0a1.75,1.75 0 1,0 -3.50,0M732.35,376.00a1.75,1.75 0 1,0 3.50,0a1.75,1.75 0 1,0 -3.50,0M734.95,376.00a1.75,1.75 0 1,0 3.50,0a1.75,1.75 0 1,0 -3.50,0M737.55,376.00a1.75,1.75 0 1,0 3.50,0a1.75,1.75 0 1,0 -3.50,0M740.15,376.00a1.75,1.75 0 1,0 3.50,0a1.75,1.75 0 1,0 -3.50,0M742.75,376.00a1.75,1.75 0 1,0 3.50,0a1.75,1.75 0 1,0 -3.50,0M745.35,376.00a1.75,1.75 0 1,0 3.50,0a1.75,1.75 0 1,0 -3.50,0M747.95,376.00a1.75,1.75 0 1,0 3.50,0a1.75,1.75 0 1,0 -3.50,0M750.55,376.00a1.75,1.75 0 1,0 3.50,0a1.75,1.75 0 1,0 -3.50,0M753.15,376.00a1.75,1.75 0 1,0 3.50,0a1.75,1.75 0 1,0 -3.50,0M755.75,376.00a1.75,1.75 0 1,0 3.50,0a1.75,1.75 0 1,0 -3.50,0M758.35,376.00a1.75,1.75 0 1,0 3.50,0a1.75,1.75 0 1,0 -3.50,0M760.95,376.00a1.75,1.75 0 1,0 3.50,0a1.75,1.75 0 1,0 -3.50,0M763.55,376.00a1.75,1.75 0 1,0 3.50,0a1.75,1.75 0 1,0 -3.50,0M765.20,374.90a1.75,1.75 0 1,0 3.50,0a1.75,1.75 0 1,0 -3.50,0M766.85,373.80a1.75,1.75 0 1,0 3.50,0a1.75,1.75 0 1,0 -3.50,0M769.05,373.80a1.75,1.75 0 1,0 3.50,0a1.75,1.75 0 1,0 -3.50,0M771.25,373.80a1.75,1.75 0 1,0 3.50,0a1.75,1.75 0 1,0 -3.50,0"/>
<polyline points="722.80,397.90 724.90,394.60 731.50,391.30 735.90,389.10 773.00,389.10" fill="none" stroke="#2e6a8a" stroke-width="2.2" stroke-linejoin="round" stroke-miterlimit="30" stroke-linecap="round"/>
<path fill="#2e6a8a" d="M721.3,397.9a1.45,1.45 0 1,0 2.90,0a1.45,1.45 0 1,0 -2.90,0M723.4,394.6a1.45,1.45 0 1,0 2.90,0a1.45,1.45 0 1,0 -2.90,0M726.8,393.0a1.45,1.45 0 1,0 2.90,0a1.45,1.45 0 1,0 -2.90,0M730.0,391.3a1.45,1.45 0 1,0 2.90,0a1.45,1.45 0 1,0 -2.90,0M734.4,389.1a1.45,1.45 0 1,0 2.90,0a1.45,1.45 0 1,0 -2.90,0M737.8,389.1a1.45,1.45 0 1,0 2.90,0a1.45,1.45 0 1,0 -2.90,0M741.2,389.1a1.45,1.45 0 1,0 2.90,0a1.45,1.45 0 1,0 -2.90,0M744.6,389.1a1.45,1.45 0 1,0 2.90,0a1.45,1.45 0 1,0 -2.90,0M747.9,389.1a1.45,1.45 0 1,0 2.90,0a1.45,1.45 0 1,0 -2.90,0M751.3,389.1a1.45,1.45 0 1,0 2.90,0a1.45,1.45 0 1,0 -2.90,0M754.7,389.1a1.45,1.45 0 1,0 2.90,0a1.45,1.45 0 1,0 -2.90,0M758.1,389.1a1.45,1.45 0 1,0 2.90,0a1.45,1.45 0 1,0 -2.90,0M761.4,389.1a1.45,1.45 0 1,0 2.90,0a1.45,1.45 0 1,0 -2.90,0M764.8,389.1a1.45,1.45 0 1,0 2.90,0a1.45,1.45 0 1,0 -2.90,0M768.2,389.1a1.45,1.45 0 1,0 2.90,0a1.45,1.45 0 1,0 -2.90,0M771.5,389.1a1.45,1.45 0 1,0 2.90,0a1.45,1.45 0 1,0 -2.90,0"/>
<polyline points="662.50,378.80 684.10,378.80 694.50,387.10 700.00,392.00" fill="none" stroke="#2e6a8a" stroke-width="2.5" stroke-linejoin="round" stroke-miterlimit="30" stroke-linecap="round"/>
<path fill="#2e6a8a" d="M660.9,378.8a1.60,1.60 0 1,0 3.20,0a1.60,1.60 0 1,0 -3.20,0M664.5,378.8a1.60,1.60 0 1,0 3.20,0a1.60,1.60 0 1,0 -3.20,0M668.1,378.8a1.60,1.60 0 1,0 3.20,0a1.60,1.60 0 1,0 -3.20,0M671.7,378.8a1.60,1.60 0 1,0 3.20,0a1.60,1.60 0 1,0 -3.20,0M675.3,378.8a1.60,1.60 0 1,0 3.20,0a1.60,1.60 0 1,0 -3.20,0M678.9,378.8a1.60,1.60 0 1,0 3.20,0a1.60,1.60 0 1,0 -3.20,0M682.5,378.8a1.60,1.60 0 1,0 3.20,0a1.60,1.60 0 1,0 -3.20,0M685.1,380.9a1.60,1.60 0 1,0 3.20,0a1.60,1.60 0 1,0 -3.20,0M687.7,383.0a1.60,1.60 0 1,0 3.20,0a1.60,1.60 0 1,0 -3.20,0M690.3,385.0a1.60,1.60 0 1,0 3.20,0a1.60,1.60 0 1,0 -3.20,0M692.9,387.1a1.60,1.60 0 1,0 3.20,0a1.60,1.60 0 1,0 -3.20,0M695.6,389.6a1.60,1.60 0 1,0 3.20,0a1.60,1.60 0 1,0 -3.20,0M698.4,392.0a1.60,1.60 0 1,0 3.20,0a1.60,1.60 0 1,0 -3.20,0"/>
<line x1="703.6" y1="403" x2="706.4" y2="424" stroke="#2e6b8c" stroke-width="3.07" stroke-linecap="round"/>
<line x1="706.4" y1="424" x2="715.1" y2="424" stroke="#2e6b8c" stroke-width="3.69" stroke-linecap="round"/>
<line x1="715.1" y1="424" x2="719.5" y2="419.7" stroke="#2e6b8c" stroke-width="3.69" stroke-linecap="round"/>
<line x1="719.5" y1="419.7" x2="722.8" y2="416.4" stroke="#2e6b8c" stroke-width="3.28" stroke-linecap="round"/>
<line x1="722.8" y1="416.4" x2="730.4" y2="415.3" stroke="#2e6b8c" stroke-width="3.69" stroke-linecap="round"/>
<line x1="730.4" y1="415.3" x2="735.9" y2="413.1" stroke="#2e6b8c" stroke-width="4.10" stroke-linecap="round"/>
<line x1="735.9" y1="413.1" x2="773" y2="413.1" stroke="#2e6b8c" stroke-width="4.10" stroke-linecap="round"/>
<path fill="#2e6b8c" d="M701.85,403.00a1.75,1.75 0 1,0 3.50,0a1.75,1.75 0 1,0 -3.50,0M702.17,405.62a1.78,1.78 0 1,0 3.56,0a1.78,1.78 0 1,0 -3.56,0M702.49,408.25a1.81,1.81 0 1,0 3.62,0a1.81,1.81 0 1,0 -3.62,0M702.81,410.88a1.84,1.84 0 1,0 3.69,0a1.84,1.84 0 1,0 -3.69,0M703.12,413.50a1.88,1.88 0 1,0 3.75,0a1.88,1.88 0 1,0 -3.75,0M703.44,416.12a1.91,1.91 0 1,0 3.81,0a1.91,1.91 0 1,0 -3.81,0M703.76,418.75a1.94,1.94 0 1,0 3.88,0a1.94,1.94 0 1,0 -3.88,0M704.08,421.38a1.97,1.97 0 1,0 3.94,0a1.97,1.97 0 1,0 -3.94,0M704.40,424.00a2.00,2.00 0 1,0 4.00,0a2.00,2.00 0 1,0 -4.00,0M707.13,424.00a2.17,2.17 0 1,0 4.33,0a2.17,2.17 0 1,0 -4.33,0M709.87,424.00a2.33,2.33 0 1,0 4.67,0a2.33,2.33 0 1,0 -4.67,0M712.60,424.00a2.50,2.50 0 1,0 5.00,0a2.50,2.50 0 1,0 -5.00,0M715.05,421.85a2.25,2.25 0 1,0 4.50,0a2.25,2.25 0 1,0 -4.50,0M717.50,419.70a2.00,2.00 0 1,0 4.00,0a2.00,2.00 0 1,0 -4.00,0M719.15,418.05a2.00,2.00 0 1,0 4.00,0a2.00,2.00 0 1,0 -4.00,0M720.80,416.40a2.00,2.00 0 1,0 4.00,0a2.00,2.00 0 1,0 -4.00,0M723.17,416.03a2.17,2.17 0 1,0 4.33,0a2.17,2.17 0 1,0 -4.33,0M725.53,415.67a2.33,2.33 0 1,0 4.67,0a2.33,2.33 0 1,0 -4.67,0M727.90,415.30a2.50,2.50 0 1,0 5.00,0a2.50,2.50 0 1,0 -5.00,0M730.65,414.20a2.50,2.50 0 1,0 5.00,0a2.50,2.50 0 1,0 -5.00,0M733.40,413.10a2.50,2.50 0 1,0 5.00,0a2.50,2.50 0 1,0 -5.00,0M737.11,413.10a2.50,2.50 0 1,0 5.00,0a2.50,2.50 0 1,0 -5.00,0M740.82,413.10a2.50,2.50 0 1,0 5.00,0a2.50,2.50 0 1,0 -5.00,0M744.53,413.10a2.50,2.50 0 1,0 5.00,0a2.50,2.50 0 1,0 -5.00,0M748.24,413.10a2.50,2.50 0 1,0 5.00,0a2.50,2.50 0 1,0 -5.00,0M751.95,413.10a2.50,2.50 0 1,0 5.00,0a2.50,2.50 0 1,0 -5.00,0M755.66,413.10a2.50,2.50 0 1,0 5.00,0a2.50,2.50 0 1,0 -5.00,0M759.37,413.10a2.50,2.50 0 1,0 5.00,0a2.50,2.50 0 1,0 -5.00,0M763.08,413.10a2.50,2.50 0 1,0 5.00,0a2.50,2.50 0 1,0 -5.00,0M766.79,413.10a2.50,2.50 0 1,0 5.00,0a2.50,2.50 0 1,0 -5.00,0M770.50,413.10a2.50,2.50 0 1,0 5.00,0a2.50,2.50 0 1,0 -5.00,0"/>
<polyline points="772.00,306.50 739.30,306.50 732.40,313.90 728.50,313.90 724.60,323.80 719.60,339.50 715.70,310.00" fill="none" stroke="#2e6a8a" stroke-width="2" stroke-linejoin="round" stroke-miterlimit="30" stroke-linecap="round"/>
<path fill="#2e6a8a" d="M770.6,306.5a1.35,1.35 0 1,0 2.70,0a1.35,1.35 0 1,0 -2.70,0M767.4,306.5a1.35,1.35 0 1,0 2.70,0a1.35,1.35 0 1,0 -2.70,0M764.1,306.5a1.35,1.35 0 1,0 2.70,0a1.35,1.35 0 1,0 -2.70,0M760.8,306.5a1.35,1.35 0 1,0 2.70,0a1.35,1.35 0 1,0 -2.70,0M757.6,306.5a1.35,1.35 0 1,0 2.70,0a1.35,1.35 0 1,0 -2.70,0M754.3,306.5a1.35,1.35 0 1,0 2.70,0a1.35,1.35 0 1,0 -2.70,0M751.0,306.5a1.35,1.35 0 1,0 2.70,0a1.35,1.35 0 1,0 -2.70,0M747.8,306.5a1.35,1.35 0 1,0 2.70,0a1.35,1.35 0 1,0 -2.70,0M744.5,306.5a1.35,1.35 0 1,0 2.70,0a1.35,1.35 0 1,0 -2.70,0M741.2,306.5a1.35,1.35 0 1,0 2.70,0a1.35,1.35 0 1,0 -2.70,0M737.9,306.5a1.35,1.35 0 1,0 2.70,0a1.35,1.35 0 1,0 -2.70,0M735.6,309.0a1.35,1.35 0 1,0 2.70,0a1.35,1.35 0 1,0 -2.70,0M733.3,311.4a1.35,1.35 0 1,0 2.70,0a1.35,1.35 0 1,0 -2.70,0M731.0,313.9a1.35,1.35 0 1,0 2.70,0a1.35,1.35 0 1,0 -2.70,0M727.1,313.9a1.35,1.35 0 1,0 2.70,0a1.35,1.35 0 1,0 -2.70,0M725.9,317.2a1.35,1.35 0 1,0 2.70,0a1.35,1.35 0 1,0 -2.70,0M724.5,320.5a1.35,1.35 0 1,0 2.70,0a1.35,1.35 0 1,0 -2.70,0M723.2,323.8a1.35,1.35 0 1,0 2.70,0a1.35,1.35 0 1,0 -2.70,0M722.2,326.9a1.35,1.35 0 1,0 2.70,0a1.35,1.35 0 1,0 -2.70,0M721.2,330.1a1.35,1.35 0 1,0 2.70,0a1.35,1.35 0 1,0 -2.70,0M720.2,333.2a1.35,1.35 0 1,0 2.70,0a1.35,1.35 0 1,0 -2.70,0M719.2,336.4a1.35,1.35 0 1,0 2.70,0a1.35,1.35 0 1,0 -2.70,0M718.2,339.5a1.35,1.35 0 1,0 2.70,0a1.35,1.35 0 1,0 -2.70,0M717.8,336.2a1.35,1.35 0 1,0 2.70,0a1.35,1.35 0 1,0 -2.70,0M717.4,332.9a1.35,1.35 0 1,0 2.70,0a1.35,1.35 0 1,0 -2.70,0M717.0,329.7a1.35,1.35 0 1,0 2.70,0a1.35,1.35 0 1,0 -2.70,0M716.5,326.4a1.35,1.35 0 1,0 2.70,0a1.35,1.35 0 1,0 -2.70,0M716.1,323.1a1.35,1.35 0 1,0 2.70,0a1.35,1.35 0 1,0 -2.70,0M715.6,319.8a1.35,1.35 0 1,0 2.70,0a1.35,1.35 0 1,0 -2.70,0M715.2,316.6a1.35,1.35 0 1,0 2.70,0a1.35,1.35 0 1,0 -2.70,0M714.8,313.3a1.35,1.35 0 1,0 2.70,0a1.35,1.35 0 1,0 -2.70,0M714.4,310.0a1.35,1.35 0 1,0 2.70,0a1.35,1.35 0 1,0 -2.70,0"/>
<line x1="663" y1="262.9" x2="667.9" y2="262.9" stroke="#2e6b8c" stroke-width="2.46" stroke-linecap="round"/>
<line x1="667.9" y1="262.9" x2="674.7" y2="273.7" stroke="#2e6b8c" stroke-width="2.46" stroke-linecap="round"/>
<line x1="674.7" y1="273.7" x2="683.6" y2="273.7" stroke="#2e6b8c" stroke-width="2.46" stroke-linecap="round"/>
<line x1="683.6" y1="273.7" x2="687.5" y2="284.5" stroke="#2e6b8c" stroke-width="2.67" stroke-linecap="round"/>
<line x1="687.5" y1="284.5" x2="691.5" y2="297.3" stroke="#2e6b8c" stroke-width="3.48" stroke-linecap="round"/>
<line x1="691.5" y1="297.3" x2="694.4" y2="312" stroke="#2e6b8c" stroke-width="3.69" stroke-linecap="round"/>
<line x1="694.4" y1="312" x2="695.4" y2="322.8" stroke="#2e6b8c" stroke-width="4.92" stroke-linecap="round"/>
<line x1="695.4" y1="322.8" x2="696.4" y2="345" stroke="#2e6b8c" stroke-width="5.74" stroke-linecap="round"/>
<line x1="696.4" y1="345" x2="698.7" y2="360.7" stroke="#2e6b8c" stroke-width="7.38" stroke-linecap="round"/>
<line x1="698.7" y1="360.7" x2="700" y2="380" stroke="#2e6b8c" stroke-width="8.20" stroke-linecap="round"/>
<line x1="700" y1="380" x2="703.6" y2="396.2" stroke="#2e6b8c" stroke-width="5.33" stroke-linecap="round"/>
<path fill="#2e6b8c" d="M661.50,262.90a1.50,1.50 0 1,0 3.00,0a1.50,1.50 0 1,0 -3.00,0M663.13,262.90a1.50,1.50 0 1,0 3.00,0a1.50,1.50 0 1,0 -3.00,0M664.77,262.90a1.50,1.50 0 1,0 3.00,0a1.50,1.50 0 1,0 -3.00,0M666.40,262.90a1.50,1.50 0 1,0 3.00,0a1.50,1.50 0 1,0 -3.00,0M667.53,264.70a1.50,1.50 0 1,0 3.00,0a1.50,1.50 0 1,0 -3.00,0M668.67,266.50a1.50,1.50 0 1,0 3.00,0a1.50,1.50 0 1,0 -3.00,0M669.80,268.30a1.50,1.50 0 1,0 3.00,0a1.50,1.50 0 1,0 -3.00,0M670.93,270.10a1.50,1.50 0 1,0 3.00,0a1.50,1.50 0 1,0 -3.00,0M672.07,271.90a1.50,1.50 0 1,0 3.00,0a1.50,1.50 0 1,0 -3.00,0M673.20,273.70a1.50,1.50 0 1,0 3.00,0a1.50,1.50 0 1,0 -3.00,0M675.43,273.70a1.50,1.50 0 1,0 3.00,0a1.50,1.50 0 1,0 -3.00,0M677.65,273.70a1.50,1.50 0 1,0 3.00,0a1.50,1.50 0 1,0 -3.00,0M679.88,273.70a1.50,1.50 0 1,0 3.00,0a1.50,1.50 0 1,0 -3.00,0M682.10,273.70a1.50,1.50 0 1,0 3.00,0a1.50,1.50 0 1,0 -3.00,0M682.83,275.86a1.55,1.55 0 1,0 3.10,0a1.55,1.55 0 1,0 -3.10,0M683.56,278.02a1.60,1.60 0 1,0 3.20,0a1.60,1.60 0 1,0 -3.20,0M684.29,280.18a1.65,1.65 0 1,0 3.30,0a1.65,1.65 0 1,0 -3.30,0M685.02,282.34a1.70,1.70 0 1,0 3.40,0a1.70,1.70 0 1,0 -3.40,0M685.75,284.50a1.75,1.75 0 1,0 3.50,0a1.75,1.75 0 1,0 -3.50,0M686.40,287.06a1.90,1.90 0 1,0 3.80,0a1.90,1.90 0 1,0 -3.80,0M687.05,289.62a2.05,2.05 0 1,0 4.10,0a2.05,2.05 0 1,0 -4.10,0M687.70,292.18a2.20,2.20 0 1,0 4.40,0a2.20,2.20 0 1,0 -4.40,0M688.35,294.74a2.35,2.35 0 1,0 4.70,0a2.35,2.35 0 1,0 -4.70,0M689.00,297.30a2.50,2.50 0 1,0 5.00,0a2.50,2.50 0 1,0 -5.00,0M689.68,300.24a2.40,2.40 0 1,0 4.80,0a2.40,2.40 0 1,0 -4.80,0M690.36,303.18a2.30,2.30 0 1,0 4.60,0a2.30,2.30 0 1,0 -4.60,0M691.04,306.12a2.20,2.20 0 1,0 4.40,0a2.20,2.20 0 1,0 -4.40,0M691.72,309.06a2.10,2.10 0 1,0 4.20,0a2.10,2.10 0 1,0 -4.20,0M692.40,312.00a2.00,2.00 0 1,0 4.00,0a2.00,2.00 0 1,0 -4.00,0M692.15,314.70a2.50,2.50 0 1,0 5.00,0a2.50,2.50 0 1,0 -5.00,0M691.90,317.40a3.00,3.00 0 1,0 6.00,0a3.00,3.00 0 1,0 -6.00,0M691.65,320.10a3.50,3.50 0 1,0 7.00,0a3.50,3.50 0 1,0 -7.00,0M691.40,322.80a4.00,4.00 0 1,0 8.00,0a4.00,4.00 0 1,0 -8.00,0M691.80,327.24a3.80,3.80 0 1,0 7.60,0a3.80,3.80 0 1,0 -7.60,0M692.20,331.68a3.60,3.60 0 1,0 7.20,0a3.60,3.60 0 1,0 -7.20,0M692.60,336.12a3.40,3.40 0 1,0 6.80,0a3.40,3.40 0 1,0 -6.80,0M693.00,340.56a3.20,3.20 0 1,0 6.40,0a3.20,3.20 0 1,0 -6.40,0M693.40,345.00a3.00,3.00 0 1,0 6.00,0a3.00,3.00 0 1,0 -6.00,0M693.23,348.93a3.75,3.75 0 1,0 7.50,0a3.75,3.75 0 1,0 -7.50,0M693.05,352.85a4.50,4.50 0 1,0 9.00,0a4.50,4.50 0 1,0 -9.00,0M692.88,356.77a5.25,5.25 0 1,0 10.50,0a5.25,5.25 0 1,0 -10.50,0M692.70,360.70a6.00,6.00 0 1,0 12.00,0a6.00,6.00 0 1,0 -12.00,0M693.53,365.52a5.50,5.50 0 1,0 11.00,0a5.50,5.50 0 1,0 -11.00,0M694.35,370.35a5.00,5.00 0 1,0 10.00,0a5.00,5.00 0 1,0 -10.00,0M695.17,375.18a4.50,4.50 0 1,0 9.00,0a4.50,4.50 0 1,0 -9.00,0M696.00,380.00a4.00,4.00 0 1,0 8.00,0a4.00,4.00 0 1,0 -8.00,0M697.02,383.24a3.70,3.70 0 1,0 7.40,0a3.70,3.70 0 1,0 -7.40,0M698.04,386.48a3.40,3.40 0 1,0 6.80,0a3.40,3.40 0 1,0 -6.80,0M699.06,389.72a3.10,3.10 0 1,0 6.20,0a3.10,3.10 0 1,0 -6.20,0M700.08,392.96a2.80,2.80 0 1,0 5.60,0a2.80,2.80 0 1,0 -5.60,0M701.10,396.20a2.50,2.50 0 1,0 5.00,0a2.50,2.50 0 1,0 -5.00,0"/>
<line x1="773" y1="263.3" x2="736.3" y2="263.3" stroke="#2e6b8c" stroke-width="2.87" stroke-linecap="round"/>
<line x1="736.3" y1="263.3" x2="731.4" y2="265.8" stroke="#2e6b8c" stroke-width="2.87" stroke-linecap="round"/>
<line x1="731.4" y1="265.8" x2="728.5" y2="270.3" stroke="#2e6b8c" stroke-width="2.87" stroke-linecap="round"/>
<line x1="728.5" y1="270.3" x2="723.6" y2="270.3" stroke="#2e6b8c" stroke-width="2.87" stroke-linecap="round"/>
<line x1="723.6" y1="270.3" x2="719.6" y2="281.5" stroke="#2e6b8c" stroke-width="2.87" stroke-linecap="round"/>
<line x1="719.6" y1="281.5" x2="715.7" y2="310" stroke="#2e6b8c" stroke-width="3.48" stroke-linecap="round"/>
<line x1="715.7" y1="310" x2="713.7" y2="323" stroke="#2e6b8c" stroke-width="3.69" stroke-linecap="round"/>
<line x1="713.7" y1="323" x2="711.8" y2="337.5" stroke="#2e6b8c" stroke-width="4.10" stroke-linecap="round"/>
<line x1="711.8" y1="337.5" x2="707" y2="368.4" stroke="#2e6b8c" stroke-width="6.56" stroke-linecap="round"/>
<line x1="707" y1="368.4" x2="705" y2="385" stroke="#2e6b8c" stroke-width="6.56" stroke-linecap="round"/>
<line x1="705" y1="385" x2="703.6" y2="396.2" stroke="#2e6b8c" stroke-width="4.51" stroke-linecap="round"/>
<path fill="#2e6b8c" d="M771.25,263.30a1.75,1.75 0 1,0 3.50,0a1.75,1.75 0 1,0 -3.50,0M768.63,263.30a1.75,1.75 0 1,0 3.50,0a1.75,1.75 0 1,0 -3.50,0M766.01,263.30a1.75,1.75 0 1,0 3.50,0a1.75,1.75 0 1,0 -3.50,0M763.39,263.30a1.75,1.75 0 1,0 3.50,0a1.75,1.75 0 1,0 -3.50,0M760.76,263.30a1.75,1.75 0 1,0 3.50,0a1.75,1.75 0 1,0 -3.50,0M758.14,263.30a1.75,1.75 0 1,0 3.50,0a1.75,1.75 0 1,0 -3.50,0M755.52,263.30a1.75,1.75 0 1,0 3.50,0a1.75,1.75 0 1,0 -3.50,0M752.90,263.30a1.75,1.75 0 1,0 3.50,0a1.75,1.75 0 1,0 -3.50,0M750.28,263.30a1.75,1.75 0 1,0 3.50,0a1.75,1.75 0 1,0 -3.50,0M747.66,263.30a1.75,1.75 0 1,0 3.50,0a1.75,1.75 0 1,0 -3.50,0M745.04,263.30a1.75,1.75 0 1,0 3.50,0a1.75,1.75 0 1,0 -3.50,0M742.41,263.30a1.75,1.75 0 1,0 3.50,0a1.75,1.75 0 1,0 -3.50,0M739.79,263.30a1.75,1.75 0 1,0 3.50,0a1.75,1.75 0 1,0 -3.50,0M737.17,263.30a1.75,1.75 0 1,0 3.50,0a1.75,1.75 0 1,0 -3.50,0M734.55,263.30a1.75,1.75 0 1,0 3.50,0a1.75,1.75 0 1,0 -3.50,0M732.10,264.55a1.75,1.75 0 1,0 3.50,0a1.75,1.75 0 1,0 -3.50,0M729.65,265.80a1.75,1.75 0 1,0 3.50,0a1.75,1.75 0 1,0 -3.50,0M728.20,268.05a1.75,1.75 0 1,0 3.50,0a1.75,1.75 0 1,0 -3.50,0M726.75,270.30a1.75,1.75 0 1,0 3.50,0a1.75,1.75 0 1,0 -3.50,0M724.30,270.30a1.75,1.75 0 1,0 3.50,0a1.75,1.75 0 1,0 -3.50,0M721.85,270.30a1.75,1.75 0 1,0 3.50,0a1.75,1.75 0 1,0 -3.50,0M721.05,272.54a1.75,1.75 0 1,0 3.50,0a1.75,1.75 0 1,0 -3.50,0M720.25,274.78a1.75,1.75 0 1,0 3.50,0a1.75,1.75 0 1,0 -3.50,0M719.45,277.02a1.75,1.75 0 1,0 3.50,0a1.75,1.75 0 1,0 -3.50,0M718.65,279.26a1.75,1.75 0 1,0 3.50,0a1.75,1.75 0 1,0 -3.50,0M717.85,281.50a1.75,1.75 0 1,0 3.50,0a1.75,1.75 0 1,0 -3.50,0M717.43,284.09a1.82,1.82 0 1,0 3.64,0a1.82,1.82 0 1,0 -3.64,0M717.00,286.68a1.89,1.89 0 1,0 3.77,0a1.89,1.89 0 1,0 -3.77,0M716.58,289.27a1.95,1.95 0 1,0 3.91,0a1.95,1.95 0 1,0 -3.91,0M716.16,291.86a2.02,2.02 0 1,0 4.05,0a2.02,2.02 0 1,0 -4.05,0M715.74,294.45a2.09,2.09 0 1,0 4.18,0a2.09,2.09 0 1,0 -4.18,0M715.31,297.05a2.16,2.16 0 1,0 4.32,0a2.16,2.16 0 1,0 -4.32,0M714.89,299.64a2.23,2.23 0 1,0 4.45,0a2.23,2.23 0 1,0 -4.45,0M714.47,302.23a2.30,2.30 0 1,0 4.59,0a2.30,2.30 0 1,0 -4.59,0M714.05,304.82a2.36,2.36 0 1,0 4.73,0a2.36,2.36 0 1,0 -4.73,0M713.62,307.41a2.43,2.43 0 1,0 4.86,0a2.43,2.43 0 1,0 -4.86,0M713.20,310.00a2.50,2.50 0 1,0 5.00,0a2.50,2.50 0 1,0 -5.00,0M712.90,312.60a2.40,2.40 0 1,0 4.80,0a2.40,2.40 0 1,0 -4.80,0M712.60,315.20a2.30,2.30 0 1,0 4.60,0a2.30,2.30 0 1,0 -4.60,0M712.30,317.80a2.20,2.20 0 1,0 4.40,0a2.20,2.20 0 1,0 -4.40,0M712.00,320.40a2.10,2.10 0 1,0 4.20,0a2.10,2.10 0 1,0 -4.20,0M711.70,323.00a2.00,2.00 0 1,0 4.00,0a2.00,2.00 0 1,0 -4.00,0M711.12,325.90a2.20,2.20 0 1,0 4.40,0a2.20,2.20 0 1,0 -4.40,0M710.54,328.80a2.40,2.40 0 1,0 4.80,0a2.40,2.40 0 1,0 -4.80,0M709.96,331.70a2.60,2.60 0 1,0 5.20,0a2.60,2.60 0 1,0 -5.20,0M709.38,334.60a2.80,2.80 0 1,0 5.60,0a2.80,2.80 0 1,0 -5.60,0M708.80,337.50a3.00,3.00 0 1,0 6.00,0a3.00,3.00 0 1,0 -6.00,0M707.83,341.91a3.29,3.29 0 1,0 6.57,0a3.29,3.29 0 1,0 -6.57,0M706.86,346.33a3.57,3.57 0 1,0 7.14,0a3.57,3.57 0 1,0 -7.14,0M705.89,350.74a3.86,3.86 0 1,0 7.71,0a3.86,3.86 0 1,0 -7.71,0M704.91,355.16a4.14,4.14 0 1,0 8.29,0a4.14,4.14 0 1,0 -8.29,0M703.94,359.57a4.43,4.43 0 1,0 8.86,0a4.43,4.43 0 1,0 -8.86,0M702.97,363.99a4.71,4.71 0 1,0 9.43,0a4.71,4.71 0 1,0 -9.43,0M702.00,368.40a5.00,5.00 0 1,0 10.00,0a5.00,5.00 0 1,0 -10.00,0M702.00,372.55a4.50,4.50 0 1,0 9.00,0a4.50,4.50 0 1,0 -9.00,0M702.00,376.70a4.00,4.00 0 1,0 8.00,0a4.00,4.00 0 1,0 -8.00,0M702.00,380.85a3.50,3.50 0 1,0 7.00,0a3.50,3.50 0 1,0 -7.00,0M702.00,385.00a3.00,3.00 0 1,0 6.00,0a3.00,3.00 0 1,0 -6.00,0M701.70,388.73a2.83,2.83 0 1,0 5.67,0a2.83,2.83 0 1,0 -5.67,0M701.40,392.47a2.67,2.67 0 1,0 5.33,0a2.67,2.67 0 1,0 -5.33,0M701.10,396.20a2.50,2.50 0 1,0 5.00,0a2.50,2.50 0 1,0 -5.00,0"/>
<ellipse cx="703.6" cy="396.8" rx="5" ry="8" fill="#0c3a77"/>
<rect x="68" y="441.4" width="17.400000000000006" height="14" fill="#7a1433"/>
<text x="76.7" y="453.2" font-size="13" text-anchor="middle" font-weight="normal" fill="#f6dde4" textLength="5.5" lengthAdjust="spacingAndGlyphs">1</text>
<rect x="199.9" y="441.4" width="17.099999999999994" height="14" fill="#d5773a"/>
<text x="208.45" y="453.2" font-size="13" text-anchor="middle" font-weight="normal" fill="#fbeadb" textLength="5.5" lengthAdjust="spacingAndGlyphs">2</text>
<rect x="338" y="441.4" width="16" height="14" fill="#7a1433"/>
<text x="346.0" y="453.2" font-size="13" text-anchor="middle" font-weight="normal" fill="#f6dde4" textLength="5.5" lengthAdjust="spacingAndGlyphs">1</text>
<rect x="457.7" y="441.4" width="15.699999999999989" height="14" fill="#d5773a"/>
<text x="465.54999999999995" y="453.2" font-size="13" text-anchor="middle" font-weight="normal" fill="#fbeadb" textLength="5.5" lengthAdjust="spacingAndGlyphs">2</text>
<rect x="590.4" y="441.4" width="15.5" height="14" fill="#7a1433"/>
<text x="598.15" y="453.2" font-size="13" text-anchor="middle" font-weight="normal" fill="#f6dde4" textLength="5.5" lengthAdjust="spacingAndGlyphs">1</text>
<rect x="710" y="441.4" width="15.299999999999955" height="14" fill="#d5773a"/>
<text x="717.65" y="453.2" font-size="13" text-anchor="middle" font-weight="normal" fill="#fbeadb" textLength="5.5" lengthAdjust="spacingAndGlyphs">2</text>
</svg>
</body></html>
